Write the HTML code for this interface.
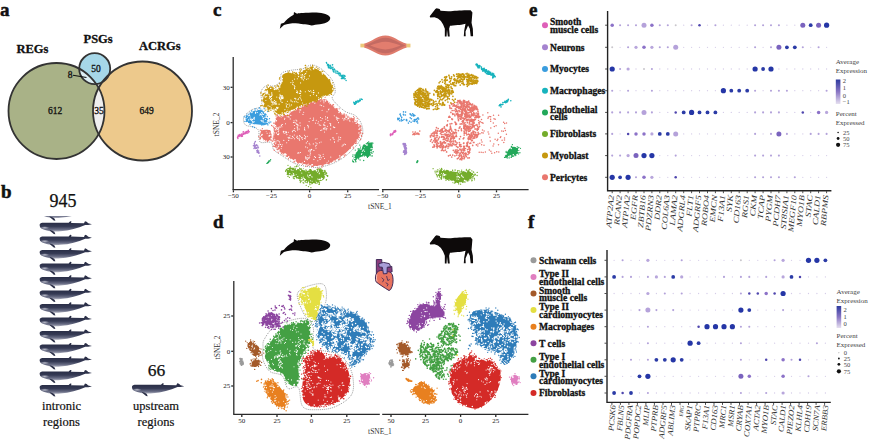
<!DOCTYPE html>
<html><head><meta charset="utf-8"><style>
html,body{margin:0;padding:0;background:#fff;}
body{width:869px;height:441px;overflow:hidden;position:relative;}
svg{position:absolute;left:0;top:0;}
.b{font-family:"Liberation Serif",serif;font-weight:bold;}
.r{font-family:"Liberation Serif",serif;}
.i{font-family:"Liberation Serif",serif;font-style:italic;}
</style></head><body>
<svg width="869" height="441" viewBox="0 0 869 441">

<g class="b" fill="#111" stroke="#111" stroke-width="0.5" font-size="19">
<text x="0" y="16">a</text><text x="1" y="198">b</text><text x="213" y="16">c</text><text x="213" y="228">d</text><text x="529" y="16">e</text><text x="528" y="228">f</text>
</g>
<defs><clipPath id="cg"><circle cx="56.5" cy="111" r="48"/></clipPath><clipPath id="co"><circle cx="142.5" cy="111" r="49.5"/></clipPath></defs>
<circle cx="56.5" cy="111" r="48" fill="#A9B287"/>
<circle cx="142.5" cy="111" r="49.5" fill="#EDC98C"/>
<circle cx="142.5" cy="111" r="49.5" fill="#EFEFEF" clip-path="url(#cg)"/>
<circle cx="94.7" cy="68.7" r="15.5" fill="#A6D7E8"/>
<circle cx="94.7" cy="68.7" r="15.5" fill="#DDEEF3" clip-path="url(#cg)"/>
<g fill="none" stroke="#333" stroke-width="1.8"><circle cx="56.5" cy="111" r="48"/><circle cx="142.5" cy="111" r="49.5"/><circle cx="94.7" cy="68.7" r="15.5"/></g>
<g class="b" font-size="12.5" fill="#111" stroke="#111" stroke-width="0.3"><text x="16.5" y="52.5">REGs</text><text x="83.5" y="42.7">PSGs</text><text x="139" y="50">ACRGs</text></g>
<g class="r" font-size="9.5" fill="#111" stroke="#111" stroke-width="0.3" text-anchor="middle"><text x="55" y="114">612</text><text x="99" y="114">35</text><text x="146.5" y="114">649</text><text x="96" y="71.5">50</text><text x="70" y="77.8">8</text></g>
<path d="M73 75.3 L86.5 77.5" stroke="#111" stroke-width="1.1"/>
<defs><linearGradient id="wg" x1="0" y1="0" x2="0" y2="1"><stop offset="0" stop-color="#242840"/><stop offset="0.5" stop-color="#363b55"/><stop offset="0.8" stop-color="#6a6e86"/><stop offset="1" stop-color="#b0b2c0"/></linearGradient>
<radialGradient id="wb" cx="0.5" cy="0.5" r="0.5"><stop offset="0" stop-color="#b8bac8"/><stop offset="1" stop-color="#b8bac8" stop-opacity="0"/></radialGradient>
<clipPath id="wclip"><rect x="0" y="216" width="200" height="300"/></clipPath></defs>
<g transform="translate(92.3 26.8)"><g transform="translate(35,355) scale(0.10204)"><path d="M45,52 C45,36 60,30 90,30 L330,30 L345,14 L358,17 L353,32 L480,35 L490,14 L506,20 L522,34 L558,44 L522,52 L492,52 C420,82 340,106 250,113 C220,115 200,116 188,116 L150,112 C100,102 60,88 50,72 Z" fill="url(#wg)"/><ellipse cx="95" cy="78" rx="45" ry="16" fill="url(#wb)"/><path d="M140,98 C160,104 185,112 192,122 L200,142 L184,140 C170,128 150,116 140,98Z" fill="#2c3048"/></g></g>
<g clip-path="url(#wclip)">
<g transform="translate(0 -148.72)"><g transform="translate(35,355) scale(0.10204)"><path d="M45,52 C45,36 60,30 90,30 L330,30 L345,14 L358,17 L353,32 L480,35 L490,14 L506,20 L522,34 L558,44 L522,52 L492,52 C420,82 340,106 250,113 C220,115 200,116 188,116 L150,112 C100,102 60,88 50,72 Z" fill="url(#wg)"/><ellipse cx="95" cy="78" rx="45" ry="16" fill="url(#wb)"/><path d="M140,98 C160,104 185,112 192,122 L200,142 L184,140 C170,128 150,116 140,98Z" fill="#2c3048"/></g></g>
<g transform="translate(0 -135.20)"><g transform="translate(35,355) scale(0.10204)"><path d="M45,52 C45,36 60,30 90,30 L330,30 L345,14 L358,17 L353,32 L480,35 L490,14 L506,20 L522,34 L558,44 L522,52 L492,52 C420,82 340,106 250,113 C220,115 200,116 188,116 L150,112 C100,102 60,88 50,72 Z" fill="url(#wg)"/><ellipse cx="95" cy="78" rx="45" ry="16" fill="url(#wb)"/><path d="M140,98 C160,104 185,112 192,122 L200,142 L184,140 C170,128 150,116 140,98Z" fill="#2c3048"/></g></g>
<g transform="translate(0 -121.68)"><g transform="translate(35,355) scale(0.10204)"><path d="M45,52 C45,36 60,30 90,30 L330,30 L345,14 L358,17 L353,32 L480,35 L490,14 L506,20 L522,34 L558,44 L522,52 L492,52 C420,82 340,106 250,113 C220,115 200,116 188,116 L150,112 C100,102 60,88 50,72 Z" fill="url(#wg)"/><ellipse cx="95" cy="78" rx="45" ry="16" fill="url(#wb)"/><path d="M140,98 C160,104 185,112 192,122 L200,142 L184,140 C170,128 150,116 140,98Z" fill="#2c3048"/></g></g>
<g transform="translate(0 -108.16)"><g transform="translate(35,355) scale(0.10204)"><path d="M45,52 C45,36 60,30 90,30 L330,30 L345,14 L358,17 L353,32 L480,35 L490,14 L506,20 L522,34 L558,44 L522,52 L492,52 C420,82 340,106 250,113 C220,115 200,116 188,116 L150,112 C100,102 60,88 50,72 Z" fill="url(#wg)"/><ellipse cx="95" cy="78" rx="45" ry="16" fill="url(#wb)"/><path d="M140,98 C160,104 185,112 192,122 L200,142 L184,140 C170,128 150,116 140,98Z" fill="#2c3048"/></g></g>
<g transform="translate(0 -94.64)"><g transform="translate(35,355) scale(0.10204)"><path d="M45,52 C45,36 60,30 90,30 L330,30 L345,14 L358,17 L353,32 L480,35 L490,14 L506,20 L522,34 L558,44 L522,52 L492,52 C420,82 340,106 250,113 C220,115 200,116 188,116 L150,112 C100,102 60,88 50,72 Z" fill="url(#wg)"/><ellipse cx="95" cy="78" rx="45" ry="16" fill="url(#wb)"/><path d="M140,98 C160,104 185,112 192,122 L200,142 L184,140 C170,128 150,116 140,98Z" fill="#2c3048"/></g></g>
<g transform="translate(0 -81.12)"><g transform="translate(35,355) scale(0.10204)"><path d="M45,52 C45,36 60,30 90,30 L330,30 L345,14 L358,17 L353,32 L480,35 L490,14 L506,20 L522,34 L558,44 L522,52 L492,52 C420,82 340,106 250,113 C220,115 200,116 188,116 L150,112 C100,102 60,88 50,72 Z" fill="url(#wg)"/><ellipse cx="95" cy="78" rx="45" ry="16" fill="url(#wb)"/><path d="M140,98 C160,104 185,112 192,122 L200,142 L184,140 C170,128 150,116 140,98Z" fill="#2c3048"/></g></g>
<g transform="translate(0 -67.60)"><g transform="translate(35,355) scale(0.10204)"><path d="M45,52 C45,36 60,30 90,30 L330,30 L345,14 L358,17 L353,32 L480,35 L490,14 L506,20 L522,34 L558,44 L522,52 L492,52 C420,82 340,106 250,113 C220,115 200,116 188,116 L150,112 C100,102 60,88 50,72 Z" fill="url(#wg)"/><ellipse cx="95" cy="78" rx="45" ry="16" fill="url(#wb)"/><path d="M140,98 C160,104 185,112 192,122 L200,142 L184,140 C170,128 150,116 140,98Z" fill="#2c3048"/></g></g>
<g transform="translate(0 -54.08)"><g transform="translate(35,355) scale(0.10204)"><path d="M45,52 C45,36 60,30 90,30 L330,30 L345,14 L358,17 L353,32 L480,35 L490,14 L506,20 L522,34 L558,44 L522,52 L492,52 C420,82 340,106 250,113 C220,115 200,116 188,116 L150,112 C100,102 60,88 50,72 Z" fill="url(#wg)"/><ellipse cx="95" cy="78" rx="45" ry="16" fill="url(#wb)"/><path d="M140,98 C160,104 185,112 192,122 L200,142 L184,140 C170,128 150,116 140,98Z" fill="#2c3048"/></g></g>
<g transform="translate(0 -40.56)"><g transform="translate(35,355) scale(0.10204)"><path d="M45,52 C45,36 60,30 90,30 L330,30 L345,14 L358,17 L353,32 L480,35 L490,14 L506,20 L522,34 L558,44 L522,52 L492,52 C420,82 340,106 250,113 C220,115 200,116 188,116 L150,112 C100,102 60,88 50,72 Z" fill="url(#wg)"/><ellipse cx="95" cy="78" rx="45" ry="16" fill="url(#wb)"/><path d="M140,98 C160,104 185,112 192,122 L200,142 L184,140 C170,128 150,116 140,98Z" fill="#2c3048"/></g></g>
<g transform="translate(0 -27.04)"><g transform="translate(35,355) scale(0.10204)"><path d="M45,52 C45,36 60,30 90,30 L330,30 L345,14 L358,17 L353,32 L480,35 L490,14 L506,20 L522,34 L558,44 L522,52 L492,52 C420,82 340,106 250,113 C220,115 200,116 188,116 L150,112 C100,102 60,88 50,72 Z" fill="url(#wg)"/><ellipse cx="95" cy="78" rx="45" ry="16" fill="url(#wb)"/><path d="M140,98 C160,104 185,112 192,122 L200,142 L184,140 C170,128 150,116 140,98Z" fill="#2c3048"/></g></g>
<g transform="translate(0 -13.52)"><g transform="translate(35,355) scale(0.10204)"><path d="M45,52 C45,36 60,30 90,30 L330,30 L345,14 L358,17 L353,32 L480,35 L490,14 L506,20 L522,34 L558,44 L522,52 L492,52 C420,82 340,106 250,113 C220,115 200,116 188,116 L150,112 C100,102 60,88 50,72 Z" fill="url(#wg)"/><ellipse cx="95" cy="78" rx="45" ry="16" fill="url(#wb)"/><path d="M140,98 C160,104 185,112 192,122 L200,142 L184,140 C170,128 150,116 140,98Z" fill="#2c3048"/></g></g>
<g transform="translate(0 0.00)"><g transform="translate(35,355) scale(0.10204)"><path d="M45,52 C45,36 60,30 90,30 L330,30 L345,14 L358,17 L353,32 L480,35 L490,14 L506,20 L522,34 L558,44 L522,52 L492,52 C420,82 340,106 250,113 C220,115 200,116 188,116 L150,112 C100,102 60,88 50,72 Z" fill="url(#wg)"/><ellipse cx="95" cy="78" rx="45" ry="16" fill="url(#wb)"/><path d="M140,98 C160,104 185,112 192,122 L200,142 L184,140 C170,128 150,116 140,98Z" fill="#2c3048"/></g></g>
<g transform="translate(0 13.52)"><g transform="translate(35,355) scale(0.10204)"><path d="M45,52 C45,36 60,30 90,30 L330,30 L345,14 L358,17 L353,32 L480,35 L490,14 L506,20 L522,34 L558,44 L522,52 L492,52 C420,82 340,106 250,113 C220,115 200,116 188,116 L150,112 C100,102 60,88 50,72 Z" fill="url(#wg)"/><ellipse cx="95" cy="78" rx="45" ry="16" fill="url(#wb)"/><path d="M140,98 C160,104 185,112 192,122 L200,142 L184,140 C170,128 150,116 140,98Z" fill="#2c3048"/></g></g>
<g transform="translate(0 27.04)"><g transform="translate(35,355) scale(0.10204)"><path d="M45,52 C45,36 60,30 90,30 L330,30 L345,14 L358,17 L353,32 L480,35 L490,14 L506,20 L522,34 L558,44 L522,52 L492,52 C420,82 340,106 250,113 C220,115 200,116 188,116 L150,112 C100,102 60,88 50,72 Z" fill="url(#wg)"/><ellipse cx="95" cy="78" rx="45" ry="16" fill="url(#wb)"/><path d="M140,98 C160,104 185,112 192,122 L200,142 L184,140 C170,128 150,116 140,98Z" fill="#2c3048"/></g></g>
</g>
<g class="r" fill="#111" stroke="#111" stroke-width="0.25" text-anchor="middle"><text x="63" y="207.2" font-size="18">945</text><text x="156.4" y="375.6" font-size="17.5">66</text></g>
<g class="r" fill="#111" stroke="#111" stroke-width="0.2" font-size="12.5" text-anchor="middle"><text x="61.5" y="409.5">intronic</text><text x="61.5" y="426.3">regions</text><text x="156" y="409.5">upstream</text><text x="156" y="426.3">regions</text></g>
<g stroke="#2a2a2a" stroke-width="1.3" fill="none"><path d="M233.2 57.0 V189.7"/><path d="M232.5 189.7 H379.1"/><path d="M381.9 189.7 H528.6"/><path d="M232.6 87.3 h-2"/><path d="M232.6 122.6 h-2"/><path d="M232.6 157.0 h-2"/><path d="M233.4 190.3 v2"/><path d="M271.5 190.3 v2"/><path d="M309.6 190.3 v2"/><path d="M347.7 190.3 v2"/><path d="M382.8 190.3 v2"/><path d="M420.5 190.3 v2"/><path d="M458.7 190.3 v2"/><path d="M496.5 190.3 v2"/></g><g class="r" font-size="7" fill="#222"><text x="229.7" y="89.7" text-anchor="end">30</text><text x="229.7" y="125.0" text-anchor="end">0</text><text x="229.7" y="159.4" text-anchor="end">30</text><text x="233.4" y="198.2" text-anchor="middle">−50</text><text x="271.5" y="198.2" text-anchor="middle">−25</text><text x="309.6" y="198.2" text-anchor="middle">0</text><text x="347.7" y="198.2" text-anchor="middle">25</text><text x="382.8" y="198.2" text-anchor="middle">−50</text><text x="420.5" y="198.2" text-anchor="middle">−25</text><text x="458.7" y="198.2" text-anchor="middle">0</text><text x="496.5" y="198.2" text-anchor="middle">25</text></g><g class="r" font-size="7.5" fill="#333"><text x="380.0" y="209.0" text-anchor="middle">tSNE_1</text><text transform="translate(219.3 124.5) rotate(-90)" text-anchor="middle">tSNE_2</text></g>
<g stroke="#2a2a2a" stroke-width="1.3" fill="none"><path d="M233.8 281.0 V414.3"/><path d="M233.2 414.3 H379.8"/><path d="M382.2 414.3 H528.4"/><path d="M233.2 316.0 h-2"/><path d="M233.2 351.3 h-2"/><path d="M233.2 386.0 h-2"/><path d="M241.8 414.9 v2"/><path d="M277.0 414.9 v2"/><path d="M311.4 414.9 v2"/><path d="M346.8 414.9 v2"/><path d="M391.0 414.9 v2"/><path d="M425.5 414.9 v2"/><path d="M460.6 414.9 v2"/><path d="M495.8 414.9 v2"/></g><g class="r" font-size="7" fill="#222"><text x="230.3" y="318.4" text-anchor="end">25</text><text x="230.3" y="353.7" text-anchor="end">0</text><text x="230.3" y="388.4" text-anchor="end">25</text><text x="241.8" y="422.8" text-anchor="middle">50</text><text x="277.0" y="422.8" text-anchor="middle">25</text><text x="311.4" y="422.8" text-anchor="middle">0</text><text x="346.8" y="422.8" text-anchor="middle">25</text><text x="391.0" y="422.8" text-anchor="middle">50</text><text x="425.5" y="422.8" text-anchor="middle">25</text><text x="460.6" y="422.8" text-anchor="middle">0</text><text x="495.8" y="422.8" text-anchor="middle">25</text></g><g class="r" font-size="7.5" fill="#333"><text x="380.0" y="433.5" text-anchor="middle">tSNE_1</text><text transform="translate(220.0 347.5) rotate(-90)" text-anchor="middle">tSNE_2</text></g>
<path d="M243.8 117.5 C244.8 115.0 248.3 112.1 251.2 110.1 C254.2 108.1 259.9 108.6 261.5 105.7 C263.1 102.7 260.2 95.7 260.9 92.4 C261.7 89.1 263.6 87.0 265.9 85.9 C268.3 84.9 272.3 86.8 274.8 85.9 C277.2 85.0 279.5 82.7 280.7 80.6 C281.8 78.5 279.8 75.0 281.6 73.3 C283.3 71.5 287.5 71.1 291.0 70.3 C294.5 69.6 299.6 69.7 302.8 68.8 C305.9 68.0 307.6 65.8 309.9 65.3 C312.1 64.8 313.5 64.8 316.0 65.9 C318.5 67.0 322.1 69.2 324.9 71.8 C327.7 74.3 331.1 77.9 332.8 81.2 C334.6 84.6 335.3 89.1 335.2 91.8 C335.1 94.6 332.0 95.7 332.2 97.7 C332.5 99.8 334.5 101.9 336.7 104.2 C338.9 106.5 342.3 109.6 345.5 111.6 C348.7 113.5 353.1 113.8 355.8 116.0 C358.5 118.2 360.6 121.6 361.7 124.8 C362.8 128.0 363.3 131.6 362.3 135.1 C361.3 138.7 358.8 142.5 355.8 146.1 C352.9 149.6 348.6 153.7 344.6 156.7 C340.7 159.6 336.6 162.0 332.2 163.7 C327.9 165.5 322.6 166.8 318.7 167.3 C314.8 167.8 312.6 167.3 308.7 166.7 C304.8 166.1 299.6 165.4 295.4 163.7 C291.2 162.1 287.2 159.0 283.6 156.7 C280.0 154.4 276.0 152.2 273.9 149.9 C271.8 147.5 273.3 143.8 271.0 142.5 C268.6 141.2 262.1 143.9 260.0 141.9 C258.0 140.0 259.6 133.2 258.6 130.7 C257.6 128.3 256.4 128.2 254.2 127.2 C251.9 126.2 247.0 126.5 245.3 124.8 C243.6 123.2 242.9 119.9 243.8 117.5Z" fill="none" stroke="#666" stroke-width="0.7" stroke-dasharray="0.9 1.1"/>
<path d="M274.8 125.1 C275.5 121.1 275.8 117.8 277.7 116.0 C279.7 114.2 283.9 115.5 286.6 114.5 C289.3 113.5 291.5 111.6 293.9 110.1 C296.4 108.6 298.7 106.9 301.3 105.7 C304.0 104.4 307.0 103.7 309.9 102.7 C312.8 101.7 316.0 100.3 318.7 99.8 C321.4 99.3 323.6 98.6 326.1 99.8 C328.5 101.0 330.5 104.7 333.4 107.2 C336.4 109.6 340.3 112.6 343.7 114.5 C347.2 116.5 351.6 117.2 354.1 118.9 C356.5 120.7 357.3 122.9 358.5 124.8 C359.6 126.8 360.6 129.0 360.8 130.7 C361.1 132.4 361.1 132.9 360.0 135.1 C358.8 137.4 356.8 141.0 354.1 144.3 C351.4 147.5 347.4 151.7 343.7 154.6 C340.1 157.5 336.1 160.1 332.0 162.0 C327.8 163.8 322.6 165.0 318.7 165.5 C314.8 166.0 312.3 165.5 308.7 164.9 C305.0 164.3 300.8 163.7 296.9 162.0 C293.0 160.2 288.5 156.8 285.1 154.6 C281.7 152.4 278.2 151.2 276.3 148.7 C274.3 146.2 273.6 143.8 273.3 139.9 C273.1 135.9 274.0 129.1 274.8 125.1Z" fill="#E9776E"/><path d="M300.7 109.9h0M296.1 110.1h0M299.9 109.9h0M303.7 112.3h0M301.5 107.4h0M300.8 107.4h0M303.0 114.4h0M299.7 112.0h0M330.4 102.9h0M329.7 103.9h0M331.6 102.5h0M319.3 124.9h0M317.9 123.2h0M318.4 121.7h0M321.0 120.5h0M320.7 125.2h0M278.3 131.7h0M276.5 132.9h0M278.9 133.2h0M278.1 134.7h0M276.6 128.4h0M273.9 134.7h0M283.4 132.8h0M277.5 134.2h0M278.6 134.4h0M270.8 128.9h0M276.5 128.2h0M278.1 127.3h0M274.2 125.3h0M278.0 129.6h0M276.3 127.0h0M307.9 155.3h0M314.6 156.6h0M310.1 151.9h0M310.4 153.3h0M313.9 159.4h0M330.8 165.6h0M328.6 161.0h0M330.8 157.1h0M325.2 127.9h0M327.4 126.3h0M323.7 124.9h0M323.8 124.8h0M325.1 125.7h0M324.2 125.5h0M324.4 128.1h0M324.0 124.1h0M348.8 118.2h0M348.2 114.6h0M346.5 115.7h0M344.7 118.4h0M349.2 118.1h0M349.8 120.8h0M350.9 116.3h0M345.8 116.6h0M349.1 119.7h0M298.6 152.8h0M297.8 153.1h0M300.5 152.5h0M298.9 152.9h0M290.0 138.2h0M288.7 138.1h0M289.7 137.6h0M286.7 142.8h0M288.1 137.2h0M288.7 140.4h0M290.0 135.8h0M327.9 120.4h0M330.7 123.7h0M324.8 122.5h0M329.8 123.3h0M330.8 125.8h0M330.6 124.9h0M321.6 105.6h0M323.7 106.3h0M323.9 102.8h0M320.2 105.0h0M334.2 127.6h0M334.8 127.3h0M326.8 128.4h0M333.4 126.9h0M330.7 128.9h0M299.2 139.2h0M302.4 139.3h0M299.6 140.2h0M300.2 136.4h0M299.1 138.1h0M301.8 138.0h0M302.1 137.6h0M301.4 137.7h0M316.3 120.3h0M312.8 120.5h0M309.1 121.6h0M313.6 118.1h0M315.6 123.1h0M310.2 118.2h0M313.6 119.9h0M342.1 146.1h0M345.5 144.6h0M343.1 144.9h0M343.3 145.1h0M344.3 144.0h0M296.8 137.5h0M297.1 136.1h0M297.7 138.4h0M299.6 135.5h0M294.6 138.8h0M297.2 136.4h0M293.3 137.3h0M291.9 138.5h0M319.1 157.6h0M319.3 157.6h0M319.0 154.8h0M320.1 159.4h0M320.1 156.9h0M320.2 155.4h0M315.5 157.4h0M338.8 118.4h0M337.5 120.1h0M338.5 122.6h0M337.0 117.6h0M342.8 118.3h0M337.3 118.4h0M334.3 115.8h0M336.5 119.0h0M336.2 117.0h0M307.4 147.8h0M311.1 149.9h0M309.9 149.7h0M308.7 150.9h0M311.7 149.4h0M313.9 150.4h0M310.2 150.8h0M284.9 133.5h0M285.3 131.9h0M286.4 131.9h0M286.5 132.8h0M286.1 132.3h0M288.3 132.2h0M286.9 134.6h0M283.3 131.3h0M277.0 140.5h0M275.1 143.8h0M275.9 142.9h0M278.2 140.9h0M274.6 143.5h0M276.0 141.4h0M279.6 141.9h0M273.4 142.2h0M279.8 144.0h0M340.7 137.7h0M336.9 133.6h0M338.7 139.0h0M340.6 137.6h0M338.8 137.1h0M340.0 139.6h0M349.9 118.0h0M347.1 119.8h0M352.9 121.7h0M349.9 121.2h0M334.5 142.2h0M334.5 141.7h0M330.4 139.8h0M338.1 140.9h0M334.0 139.4h0M333.3 137.9h0M332.7 137.8h0M323.3 129.0h0M321.8 130.0h0M325.0 129.6h0M324.5 132.0h0M323.6 128.2h0M320.7 130.5h0M326.6 129.7h0M319.5 142.8h0M317.0 143.7h0M317.0 138.7h0M313.3 143.9h0M316.0 148.1h0M315.5 146.0h0M316.3 145.3h0M281.1 148.6h0M274.5 145.7h0M278.2 144.5h0M280.5 144.5h0M278.8 145.9h0M276.4 146.0h0M278.3 146.9h0M277.7 147.3h0M348.6 118.5h0M345.8 117.6h0M348.1 117.1h0M346.6 117.5h0M343.9 119.9h0M347.9 118.5h0M343.9 120.1h0M345.1 119.1h0M309.9 144.7h0M306.3 142.9h0M309.2 143.3h0M305.7 146.9h0M278.0 127.7h0M272.3 126.9h0M277.6 129.2h0M275.2 129.5h0M275.0 127.9h0M275.3 127.2h0M275.1 130.7h0M276.2 129.7h0M273.5 130.4h0M284.5 119.3h0M283.5 114.4h0M284.8 118.3h0M284.1 115.2h0M284.1 115.4h0M281.0 116.0h0M282.5 115.4h0M309.7 157.0h0M308.4 158.1h0M309.1 158.0h0M308.8 157.9h0M307.4 159.6h0M310.1 154.9h0M305.8 158.1h0M305.6 156.8h0M280.4 127.0h0M278.7 128.5h0M279.4 127.0h0M281.3 125.5h0M283.9 131.6h0M278.2 131.2h0M278.8 130.0h0M282.4 124.5h0M324.5 158.5h0M323.2 156.5h0M321.4 157.8h0M317.8 160.7h0M323.2 154.3h0M297.7 128.0h0M299.1 129.1h0M295.7 122.7h0M297.2 124.2h0M297.9 124.9h0M297.1 126.9h0M298.0 125.7h0M300.2 125.7h0M297.3 128.1h0M297.6 129.9h0M306.1 158.9h0M305.9 157.4h0M304.5 161.4h0M307.2 157.9h0M288.4 116.7h0M289.5 113.8h0M286.3 114.6h0M290.8 115.4h0M288.3 114.5h0M290.2 118.9h0M288.2 114.4h0M289.0 117.1h0M287.1 116.7h0M287.7 112.0h0M293.2 130.4h0M294.7 128.5h0M292.4 131.6h0M295.4 131.3h0M294.4 130.3h0M294.3 135.0h0M292.4 136.4h0M292.4 131.7h0M320.5 117.5h0M327.4 118.0h0M325.5 116.7h0M327.5 117.4h0M322.2 118.6h0M325.8 119.1h0M304.9 130.1h0M307.3 136.3h0M307.5 141.3h0M305.6 136.5h0M304.6 135.3h0M304.4 138.3h0M305.7 137.1h0M305.3 138.8h0M315.3 139.1h0M315.9 142.7h0M317.1 143.7h0M321.1 142.0h0M304.5 129.2h0M308.3 127.8h0M308.0 125.7h0M304.6 127.9h0M307.7 125.4h0M308.4 126.2h0M282.2 144.8h0M283.8 140.4h0M281.7 146.4h0M281.9 126.8h0M281.5 125.1h0M285.5 123.8h0M328.5 109.8h0M322.1 110.3h0M329.0 109.0h0M327.0 111.7h0M297.0 124.3h0M300.0 122.9h0M294.4 125.5h0M296.2 123.8h0M296.8 120.9h0M296.0 120.0h0M293.4 122.5h0M296.5 124.3h0M294.0 120.8h0M294.3 122.3h0" stroke="#fff" stroke-width="1.10" stroke-linecap="round" fill="none"/><path d="M355.8 143.1h0M284.7 115.4h0M353.2 147.1h0M273.4 146.1h0M299.4 107.7h0M337.2 109.0h0M327.5 102.2h0M307.4 164.7h0M330.1 105.9h0M281.1 151.9h0M332.6 105.8h0M347.8 116.1h0M307.8 165.0h0M313.7 103.7h0M273.6 123.1h0M318.8 100.1h0M333.5 104.6h0M276.1 118.3h0M293.9 161.9h0M311.9 166.5h0M274.3 143.4h0M312.9 105.4h0M276.4 145.7h0M298.0 162.4h0M359.0 129.5h0M276.4 121.7h0M290.6 111.8h0M311.7 102.6h0M359.9 130.3h0M329.2 163.2h0M319.2 101.0h0M321.1 99.5h0M338.6 155.8h0M291.5 108.9h0M316.6 99.4h0M287.3 155.0h0M319.7 99.5h0M358.8 127.6h0M317.0 98.9h0M283.1 116.2h0M347.6 149.2h0M358.1 139.3h0M359.3 127.6h0M283.9 155.0h0M286.9 156.4h0M340.1 158.0h0M357.2 125.9h0M280.1 118.1h0M357.1 123.5h0M318.8 163.3h0M279.4 117.2h0M296.9 109.1h0M315.8 99.8h0M359.9 129.6h0M293.9 159.3h0M317.4 165.6h0M290.8 158.6h0M312.7 100.7h0M359.1 126.2h0M302.1 107.5h0M346.0 148.7h0M293.3 108.4h0M360.8 126.3h0M360.1 127.2h0M290.4 157.2h0M339.2 108.9h0M273.4 138.6h0M326.1 100.0h0M328.6 163.7h0M289.3 157.2h0M357.6 126.4h0M355.8 140.0h0M287.2 156.0h0M330.8 105.1h0M309.0 101.8h0M345.7 115.1h0M358.3 127.5h0M322.3 167.4h0M279.1 116.0h0M310.4 102.4h0M312.5 166.4h0M322.0 164.0h0M294.4 161.7h0M286.3 113.1h0M319.8 163.7h0M352.8 144.4h0M295.5 108.4h0M274.7 126.4h0M278.1 152.2h0M318.2 168.3h0M318.5 99.7h0M332.5 106.7h0M353.6 121.2h0M358.7 133.3h0M272.3 140.9h0M323.6 163.3h0M329.9 104.8h0M289.3 157.3h0M280.3 117.8h0M360.7 130.3h0M305.9 102.1h0M277.3 115.2h0M312.2 166.0h0M275.4 126.5h0M296.9 109.1h0M284.3 152.2h0M344.4 156.6h0M320.3 100.6h0M358.7 128.4h0M360.8 128.4h0M333.5 160.6h0M359.2 135.4h0M334.6 159.6h0M290.5 113.3h0M329.5 159.1h0M277.5 123.1h0M315.7 98.1h0M329.5 162.5h0M325.7 100.6h0M274.3 150.3h0M310.0 164.2h0M361.7 133.5h0M355.6 143.4h0M337.1 110.1h0M281.5 153.6h0M273.7 127.8h0M357.3 121.0h0M311.9 166.3h0M340.4 112.4h0M274.1 137.4h0M273.0 126.3h0M330.4 104.4h0M329.8 105.5h0M294.7 108.7h0M310.3 100.7h0M360.6 139.5h0M335.3 108.9h0M359.2 134.9h0M283.5 153.0h0M361.0 133.3h0M274.1 130.0h0M329.4 102.5h0M280.1 148.9h0M283.1 154.3h0M271.5 139.5h0M275.8 131.5h0M337.4 157.0h0M276.2 140.9h0M356.3 124.5h0M293.5 109.7h0M323.9 100.8h0M316.4 165.4h0M357.0 129.6h0M326.6 101.2h0M297.9 105.7h0M336.1 109.3h0M353.2 142.1h0M305.9 166.2h0M322.4 165.3h0M353.4 148.1h0M282.1 151.8h0M302.8 102.8h0M356.7 141.0h0M305.7 103.8h0M327.3 102.5h0M353.6 141.6h0M336.5 108.8h0M337.5 156.3h0M358.4 126.9h0M294.6 109.6h0M304.9 105.5h0M278.0 148.0h0M337.5 110.4h0M316.3 101.1h0M361.5 136.6h0M287.7 156.3h0M311.3 164.3h0M275.8 137.9h0M272.7 140.6h0M330.5 106.2h0M339.2 159.2h0M340.1 154.6h0M315.6 100.6h0M274.0 146.4h0M274.8 146.6h0M276.9 125.5h0M358.9 124.5h0M301.2 103.8h0M353.8 118.5h0M325.5 163.4h0" stroke="#E9776E" stroke-width="1.40" stroke-linecap="round" fill="none"/><path d="M354.7 121.0h0M346.8 116.1h0M342.2 114.0h0M334.1 161.0h0M345.4 115.0h0M280.6 115.2h0M308.1 164.8h0M323.6 100.0h0M285.5 114.3h0M294.7 159.9h0M277.0 148.2h0M278.7 150.4h0M282.8 116.3h0M276.4 120.7h0M311.9 164.7h0M279.6 115.9h0M280.8 115.1h0M357.2 140.0h0M275.0 117.7h0M272.7 140.1h0M293.1 110.0h0M286.0 154.5h0M301.5 105.4h0M296.0 109.7h0M329.3 101.5h0M360.0 128.1h0M288.0 112.9h0M273.5 142.3h0M274.7 139.9h0M274.4 141.8h0M295.4 160.1h0M281.6 115.2h0M336.5 160.6h0M361.4 131.5h0M339.6 155.8h0M304.6 164.9h0M279.2 149.9h0M288.7 156.7h0M350.3 117.0h0M359.0 132.9h0M351.7 147.2h0M360.1 136.0h0M281.2 116.7h0M308.2 164.3h0M312.4 164.8h0M289.9 112.2h0M329.0 102.3h0M273.6 138.0h0M361.5 133.4h0M287.0 112.8h0M327.2 163.1h0M320.6 100.8h0M359.1 129.2h0M304.1 104.6h0M296.4 108.5h0M356.2 123.2h0M275.5 125.6h0M302.4 163.3h0M339.0 109.9h0M285.5 155.1h0M325.9 99.9h0M283.2 114.6h0M291.9 109.5h0M274.7 126.6h0M285.0 153.7h0M314.8 102.9h0M328.9 100.5h0M286.8 113.9h0M278.9 115.5h0M343.8 155.9h0M323.4 100.7h0M283.9 154.5h0M296.2 109.0h0M309.7 102.5h0M325.3 100.9h0M294.4 109.3h0M309.5 103.0h0M359.6 133.9h0M355.5 121.2h0M358.9 125.9h0M274.6 132.7h0M303.2 105.1h0M339.0 112.6h0" stroke="#fff" stroke-width="1.50" stroke-linecap="round" fill="none"/><path d="M337.1 113.9h0M292.8 109.2h0M270.7 139.4h0M296.3 110.4h0M344.4 114.2h0M349.6 118.9h0M344.1 113.8h0M327.5 163.2h0M327.9 163.3h0M357.9 136.8h0M314.6 102.2h0M297.8 162.5h0M335.2 161.0h0M275.0 140.5h0M318.1 98.0h0M281.6 116.3h0M277.2 149.5h0M341.6 154.5h0M298.2 163.2h0M360.8 127.1h0M345.4 154.9h0M333.0 104.7h0M271.6 125.5h0M354.5 117.8h0M331.9 161.2h0M333.4 107.9h0M292.5 107.4h0M274.7 123.2h0M276.1 116.1h0M333.8 106.9h0M273.3 139.0h0M302.6 164.2h0M358.9 134.3h0M324.8 99.7h0M320.5 100.2h0M275.0 132.0h0M361.4 135.5h0M359.8 133.3h0M301.7 161.0h0M314.2 165.0h0M357.1 127.4h0M359.3 126.8h0M323.3 99.9h0M362.2 133.3h0M277.2 115.0h0M272.4 141.1h0M283.2 117.0h0M359.3 137.5h0M361.6 130.1h0M321.8 166.2h0M301.7 104.1h0M356.2 143.0h0M313.5 166.0h0M331.6 107.0h0M344.3 155.2h0M343.5 115.6h0M314.6 165.1h0M360.2 125.4h0M355.2 126.5h0M346.3 115.0h0M286.1 155.8h0M358.4 136.6h0M331.5 162.1h0M304.4 103.7h0M325.0 97.4h0M332.9 159.5h0M339.0 154.9h0M273.6 137.9h0M308.7 165.2h0M307.7 163.4h0M288.5 158.7h0M350.2 148.4h0M323.5 164.9h0M338.6 159.3h0M304.2 105.2h0M357.2 118.3h0M351.8 121.7h0M274.7 128.3h0M353.5 116.6h0M354.5 139.6h0M362.7 133.4h0M343.4 152.3h0M294.6 108.3h0" stroke="#E9776E" stroke-width="1.30" stroke-linecap="round" fill="none"/>
<path d="M261.5 130.7 C263.1 129.7 268.9 129.3 270.4 130.7 C271.8 132.2 271.3 137.8 270.4 139.6 C269.4 141.3 266.0 141.5 264.5 141.0 C262.9 140.6 261.4 138.3 260.9 136.6 C260.4 134.9 260.0 131.7 261.5 130.7Z" fill="#E9776E"/><path d="M271.9 131.8h0M267.1 133.3h0M271.5 132.3h0M266.1 131.6h0M270.5 133.9h0M273.4 131.8h0" stroke="#fff" stroke-width="1.10" stroke-linecap="round" fill="none"/><path d="M260.4 134.7h0M268.2 140.6h0M259.9 137.9h0M270.7 136.0h0M258.8 136.4h0M267.7 130.7h0M260.1 139.0h0M261.7 136.7h0M263.2 131.3h0M260.3 130.1h0M261.3 130.5h0M263.2 132.1h0M262.5 137.9h0M266.9 130.4h0M270.9 134.8h0M269.6 130.6h0M270.0 135.0h0M263.8 138.1h0M261.2 136.0h0M260.3 134.1h0M260.8 137.7h0M262.8 137.5h0M260.1 137.8h0M264.8 140.5h0M271.7 137.1h0M267.3 141.0h0M261.4 136.9h0M261.0 138.2h0" stroke="#E9776E" stroke-width="1.40" stroke-linecap="round" fill="none"/><path d="M269.9 135.5h0M266.2 140.9h0M270.2 132.9h0M269.1 135.9h0M269.7 133.0h0M261.7 138.0h0M262.8 139.6h0M271.3 139.0h0M262.0 138.8h0M262.1 134.4h0M261.7 135.2h0M264.3 140.5h0" stroke="#fff" stroke-width="1.50" stroke-linecap="round" fill="none"/><path d="M265.8 131.2h0M270.0 132.9h0M262.4 128.7h0M269.9 132.4h0M269.2 138.8h0M264.1 135.5h0M271.0 140.4h0M267.5 141.3h0M264.4 138.7h0M265.8 133.1h0M270.8 137.1h0M270.4 133.6h0" stroke="#E9776E" stroke-width="1.30" stroke-linecap="round" fill="none"/>
<path d="M263.0 93.9 C263.6 91.7 265.3 89.1 266.5 88.0 C267.8 86.9 269.0 86.9 270.4 87.1 C271.7 87.4 273.5 89.2 274.8 89.5 C276.1 89.7 277.1 89.8 278.3 88.6 C279.5 87.4 281.4 84.4 282.2 82.1 C282.9 79.8 281.3 76.4 282.7 74.7 C284.2 73.1 288.6 72.4 291.0 72.4 C293.3 72.4 294.9 75.0 296.9 74.7 C298.9 74.5 300.6 72.1 302.8 70.9 C304.9 69.7 307.9 67.9 309.9 67.4 C311.8 66.9 312.1 67.0 314.3 68.0 C316.5 68.9 320.4 70.9 323.1 73.3 C325.8 75.6 328.9 79.1 330.5 82.1 C332.1 85.1 333.3 89.3 332.8 91.5 C332.3 93.7 329.9 94.0 327.5 95.4 C325.2 96.7 321.6 98.6 318.7 99.8 C315.7 101.0 312.3 102.0 309.9 102.7 C307.4 103.5 306.2 103.5 304.3 104.2 C302.3 104.9 300.6 106.2 298.4 107.2 C296.1 108.1 293.2 109.1 291.0 110.1 C288.8 111.1 287.1 112.3 285.1 113.0 C283.1 113.8 280.9 114.8 279.2 114.5 C277.5 114.3 276.5 112.3 274.8 111.6 C273.1 110.8 270.6 110.8 268.9 110.1 C267.2 109.4 265.5 108.6 264.5 107.2 C263.5 105.7 263.2 103.5 263.0 101.3 C262.8 99.0 262.4 96.1 263.0 93.9Z" fill="#C6980F"/><path d="M316.7 95.7h0M313.3 92.6h0M313.9 92.7h0M310.3 95.6h0M314.0 92.4h0M318.4 92.9h0M313.4 94.2h0M304.7 78.3h0M306.5 79.2h0M302.1 79.0h0M300.6 82.9h0M303.6 79.9h0M300.9 77.4h0M301.9 77.9h0M301.1 91.8h0M300.5 93.5h0M300.3 91.6h0M299.6 93.4h0M296.6 92.4h0M297.5 91.9h0M300.3 90.5h0M294.5 88.6h0M296.9 90.7h0M297.8 93.0h0M272.8 103.7h0M272.0 104.9h0M273.2 102.8h0M326.7 96.9h0M323.1 97.5h0M322.0 96.9h0M323.2 96.1h0M327.1 98.4h0M310.6 69.7h0M308.0 68.0h0M311.9 66.3h0M314.6 66.4h0M308.2 69.2h0M311.5 70.5h0M309.8 68.7h0M286.4 105.9h0M286.1 103.8h0M287.3 104.5h0M286.4 107.0h0M289.1 104.1h0M287.4 101.2h0M287.6 111.1h0M290.1 111.5h0M287.7 110.0h0M292.1 110.7h0M288.6 113.3h0M287.0 110.6h0M288.1 107.6h0M285.1 109.5h0M284.8 109.8h0M296.4 101.7h0M295.7 98.4h0M294.8 101.8h0M292.4 101.8h0M290.9 100.0h0M291.4 104.9h0M294.3 101.8h0M291.1 101.1h0M289.8 105.9h0M279.2 91.1h0M278.2 89.2h0M280.0 94.3h0M293.0 84.6h0M292.5 84.0h0M294.7 88.6h0M294.9 86.6h0M294.6 87.2h0M293.1 82.4h0M292.4 80.7h0M294.2 85.6h0M290.9 82.6h0M299.9 97.4h0M298.5 98.8h0M295.8 99.8h0M300.7 95.7h0M318.6 97.6h0M316.5 95.4h0M322.4 99.0h0M323.2 97.9h0M298.0 99.6h0M301.5 100.1h0M300.7 98.7h0M276.8 97.1h0M279.5 97.3h0M279.2 97.3h0M280.9 97.1h0M294.6 79.1h0M298.3 73.2h0M298.7 76.4h0M297.3 78.7h0M295.3 76.0h0M304.7 76.3h0M304.1 77.1h0M302.4 74.7h0M304.7 74.2h0M302.0 76.9h0M298.4 76.8h0M301.2 75.1h0M303.0 75.7h0M302.4 74.4h0M300.5 75.0h0M275.8 101.9h0M274.4 111.1h0M274.5 102.6h0M274.0 104.3h0M276.7 104.1h0M273.9 104.2h0M274.8 103.5h0M272.3 102.2h0M271.3 101.9h0M306.7 71.8h0M308.1 78.8h0M305.6 73.6h0M305.8 73.5h0M309.4 75.9h0M311.8 92.0h0M308.4 90.8h0M309.5 91.5h0M313.6 90.4h0M310.7 90.7h0M305.3 91.8h0M294.5 98.3h0M297.9 102.2h0M302.4 103.0h0M261.2 98.9h0M269.4 98.3h0M265.9 100.5h0M263.9 96.0h0M263.8 97.2h0M262.1 98.6h0M262.7 103.5h0M266.7 96.6h0M271.2 100.8h0M272.1 95.2h0M271.1 96.2h0M270.4 96.9h0" stroke="#fff" stroke-width="1.10" stroke-linecap="round" fill="none"/><path d="M268.0 85.0h0M263.1 105.0h0M297.4 75.4h0M280.8 114.3h0M308.7 67.2h0M272.7 109.5h0M311.3 70.2h0M299.8 102.9h0M322.1 71.2h0M273.7 89.8h0M300.2 70.8h0M295.4 75.3h0M289.8 74.1h0M275.1 86.0h0M300.1 108.4h0M302.8 105.8h0M307.4 103.8h0M262.7 94.6h0M286.3 110.0h0M281.8 81.9h0M288.0 108.1h0M324.8 75.6h0M312.8 67.7h0M293.5 108.6h0M264.9 94.7h0M271.2 88.9h0M279.8 113.3h0M294.3 110.6h0M263.2 93.8h0M305.5 68.0h0M305.2 102.7h0M278.7 86.7h0M260.8 105.6h0M296.4 72.9h0M298.8 108.1h0M305.4 105.6h0M274.8 113.3h0M270.4 110.0h0M294.2 72.7h0M321.6 73.3h0M264.8 103.2h0M275.6 88.0h0M313.6 67.8h0M329.4 81.0h0M296.8 73.7h0M316.2 67.2h0M305.3 67.8h0M265.9 104.2h0M303.2 71.9h0M269.1 88.1h0M279.8 77.7h0M288.2 72.8h0M273.1 108.5h0M284.4 81.2h0M287.6 115.4h0M263.0 94.6h0M316.1 70.2h0M271.0 86.6h0M329.9 81.0h0M292.0 72.7h0M280.4 86.7h0M280.0 89.6h0M275.3 90.2h0M281.3 85.2h0M308.9 101.4h0M278.4 86.2h0M272.6 91.3h0M295.2 74.9h0M299.3 73.5h0M266.9 87.2h0M265.5 92.3h0M305.3 65.5h0M269.6 111.2h0M332.7 87.5h0M333.9 88.6h0M295.5 73.4h0M295.4 109.2h0M285.7 111.3h0M278.6 113.3h0M287.7 110.2h0M304.2 101.7h0M314.4 100.4h0M262.9 95.4h0M279.9 114.2h0M280.3 115.7h0M308.1 102.7h0M300.2 71.6h0M309.0 99.4h0M272.9 89.0h0M315.9 101.7h0M279.7 83.7h0M261.3 92.6h0M312.7 65.5h0M275.9 87.9h0M317.9 68.4h0M329.2 95.1h0M327.7 94.7h0M264.1 106.1h0M278.8 86.1h0M319.2 69.8h0M308.3 102.8h0M279.5 79.0h0M298.6 73.3h0M288.7 111.9h0M264.6 102.6h0M275.9 114.7h0M308.0 68.2h0M297.7 74.5h0M299.0 107.3h0M315.6 70.8h0M272.6 90.0h0M317.8 97.7h0M275.5 89.3h0M263.8 98.0h0M270.8 88.2h0M263.1 102.1h0M308.9 101.3h0M266.6 109.1h0M274.4 88.6h0M265.6 110.1h0M288.2 73.1h0M276.3 111.7h0M332.9 89.3h0M311.5 67.4h0M308.2 104.3h0M300.4 73.4h0M331.7 89.4h0M329.6 79.6h0M284.3 76.2h0M329.2 93.4h0M262.0 105.7h0M284.2 114.6h0M332.9 90.8h0M295.2 76.2h0M262.0 100.6h0M272.5 110.6h0M333.0 90.7h0M273.7 89.0h0M272.0 109.3h0M280.8 111.8h0M306.9 106.3h0M286.1 73.7h0M272.9 90.3h0M299.8 72.5h0M270.6 87.8h0M331.5 94.4h0M312.8 66.7h0M299.2 72.9h0M263.9 106.7h0M310.9 66.9h0M306.2 104.5h0" stroke="#C6980F" stroke-width="1.40" stroke-linecap="round" fill="none"/><path d="M282.3 78.6h0M262.7 98.3h0M284.9 112.8h0M314.7 66.6h0M271.1 88.2h0M301.4 106.0h0M301.6 70.3h0M299.7 107.1h0M265.2 91.5h0M266.7 88.5h0M313.7 68.9h0M308.4 67.3h0M271.8 109.8h0M333.5 91.9h0M332.6 88.9h0M314.8 67.2h0M316.4 68.6h0M263.3 96.0h0M297.7 74.1h0M324.5 96.4h0M291.1 72.6h0M322.5 73.9h0M281.7 81.8h0M297.9 74.6h0M320.4 98.4h0M273.4 110.8h0M301.9 71.4h0M276.0 89.0h0M303.0 106.1h0M312.9 102.1h0M296.3 108.4h0M266.1 107.5h0M263.0 102.4h0M313.4 68.3h0M274.4 89.6h0M282.0 81.3h0M289.9 71.5h0M275.0 88.7h0M322.8 97.9h0M294.0 110.0h0M322.2 72.7h0M319.7 70.3h0M266.5 108.9h0M309.1 66.4h0M263.8 103.7h0M286.8 112.0h0M301.4 105.7h0M263.3 103.8h0M291.6 72.5h0M323.8 97.3h0M268.3 86.4h0M280.2 114.8h0M270.8 86.6h0M282.2 112.9h0M262.7 91.1h0M263.3 104.7h0M279.8 87.0h0M329.5 94.2h0M298.5 73.6h0M306.1 104.6h0M268.5 87.2h0M313.8 68.3h0M263.5 96.3h0M325.6 95.9h0M297.2 107.3h0M318.8 99.5h0" stroke="#fff" stroke-width="1.50" stroke-linecap="round" fill="none"/><path d="M294.1 72.3h0M322.8 71.3h0M264.0 111.2h0M302.8 73.2h0M331.0 93.9h0M275.0 114.0h0M283.7 111.6h0M277.7 112.7h0M283.4 114.2h0M310.5 99.8h0M270.0 87.2h0M295.9 73.1h0M271.3 89.0h0M300.7 75.1h0M266.8 91.1h0M261.9 100.1h0M278.8 112.6h0M264.3 94.5h0M323.1 75.5h0M267.1 86.9h0M305.6 65.5h0M265.6 107.0h0M306.9 68.1h0M330.1 91.7h0M312.8 67.3h0M289.0 71.2h0M332.2 86.7h0M277.1 86.3h0M284.1 114.4h0M273.9 111.6h0M290.0 110.5h0M303.9 103.3h0M316.6 70.0h0M306.9 101.1h0M264.0 96.2h0M289.5 108.0h0M274.5 91.1h0M268.3 111.4h0M312.7 70.6h0M302.6 105.7h0M303.4 70.9h0M332.7 82.8h0M292.7 74.9h0M300.2 68.9h0M277.6 85.2h0M317.5 100.6h0M262.0 95.3h0M286.2 110.1h0M301.4 69.8h0M316.5 101.7h0M273.0 87.7h0M271.8 87.4h0M263.3 96.0h0M268.2 110.2h0M329.4 93.6h0M306.1 104.7h0M287.4 112.4h0M292.6 71.8h0M260.8 92.9h0M297.4 74.5h0M332.6 85.3h0M271.4 89.6h0M300.2 102.5h0M271.0 86.9h0M296.5 74.6h0M329.3 93.7h0" stroke="#C6980F" stroke-width="1.30" stroke-linecap="round" fill="none"/>
<path d="M245.9 116.0 C246.9 114.3 250.3 112.8 252.7 111.6 C255.0 110.3 258.3 108.8 260.0 108.6 C261.8 108.5 261.9 109.2 263.0 110.7 C264.1 112.2 265.6 115.6 266.5 117.5 C267.5 119.3 269.2 120.7 268.9 121.9 C268.5 123.1 267.2 124.5 264.5 124.8 C261.8 125.2 255.6 124.4 252.7 123.9 C249.7 123.5 247.9 123.2 246.8 121.9 C245.7 120.6 244.9 117.7 245.9 116.0Z" fill="#3A9DDE"/><path d="M247.4 117.5h0M253.6 118.0h0M254.5 117.2h0M249.7 115.5h0M251.5 119.1h0M254.3 118.9h0M261.1 120.4h0M262.2 120.7h0M263.2 122.2h0M263.6 118.4h0M263.3 121.7h0M263.0 118.1h0M261.6 124.7h0M263.4 118.9h0M267.4 120.9h0M263.6 119.0h0M263.4 120.2h0M265.0 122.8h0M261.6 121.1h0M263.0 121.6h0M265.6 119.5h0" stroke="#fff" stroke-width="1.10" stroke-linecap="round" fill="none"/><path d="M246.3 118.0h0M263.8 124.8h0M248.9 119.8h0M258.7 110.9h0M246.7 115.6h0M244.2 116.8h0M263.4 111.9h0M255.7 109.1h0M248.4 122.1h0M246.3 121.5h0M250.2 121.5h0M262.9 116.1h0M259.1 108.9h0M265.9 116.0h0M265.2 114.6h0M259.4 108.9h0M252.6 126.8h0M267.3 116.4h0M261.5 124.8h0M258.7 108.9h0M263.2 111.6h0M257.7 109.7h0M248.2 116.0h0M255.1 108.9h0M248.3 122.0h0M266.8 118.0h0M264.2 108.8h0M250.9 121.5h0M252.5 123.6h0M248.2 121.0h0M253.2 112.4h0M264.1 115.9h0M263.6 111.0h0M263.6 114.6h0M266.0 114.6h0M251.5 112.0h0M260.1 111.5h0M261.6 110.9h0M260.4 110.3h0M267.6 123.7h0M250.4 118.8h0M267.7 124.0h0M247.0 114.2h0M269.0 120.9h0M264.8 124.1h0M266.8 123.5h0M260.6 110.1h0M249.2 118.9h0M246.7 117.7h0" stroke="#3A9DDE" stroke-width="1.40" stroke-linecap="round" fill="none"/><path d="M263.8 110.7h0M268.8 120.5h0M249.9 124.2h0M268.3 121.3h0M247.2 114.8h0M261.1 109.4h0M266.6 117.0h0M255.6 110.8h0M247.4 122.5h0M252.1 123.9h0M257.2 126.1h0M258.4 109.2h0M263.3 110.5h0M265.6 115.6h0M251.9 112.4h0M268.3 120.7h0M259.3 109.3h0M256.9 110.1h0M249.2 114.1h0M267.2 122.6h0M267.9 120.0h0" stroke="#fff" stroke-width="1.50" stroke-linecap="round" fill="none"/><path d="M267.6 119.2h0M247.8 116.1h0M254.6 127.5h0M270.8 122.0h0M269.5 122.9h0M251.7 110.6h0M262.1 124.9h0M265.5 114.0h0M263.7 119.8h0M244.9 121.4h0M267.8 111.5h0M265.0 124.1h0M263.4 114.1h0M252.9 114.9h0M250.0 124.5h0M267.9 124.9h0M255.4 111.0h0M259.5 107.6h0M250.1 112.8h0M265.3 115.2h0M269.5 118.7h0" stroke="#3A9DDE" stroke-width="1.30" stroke-linecap="round" fill="none"/>
<path d="M276.6 107.3h0M277.3 108.2h0M277.7 108.6h0M278.0 107.3h0M275.2 109.7h0M276.2 110.2h0M276.0 108.9h0M274.1 111.1h0M271.0 111.6h0M270.1 109.6h0M269.5 110.8h0M271.2 108.0h0M270.0 112.6h0M270.2 111.4h0M269.9 106.3h0M266.0 93.3h0M267.1 92.6h0M267.8 93.1h0M265.5 97.0h0M267.6 91.8h0M263.4 92.4h0M267.3 90.8h0M265.7 92.9h0M272.5 110.5h0M273.8 109.1h0M272.4 110.2h0M272.5 111.3h0M263.7 92.3h0M264.1 91.6h0M264.7 94.3h0M262.2 92.4h0M266.9 93.9h0M265.2 91.1h0M264.0 95.3h0M264.3 92.6h0M266.0 88.1h0M267.1 90.9h0M263.8 95.9h0M266.4 92.0h0M275.8 101.8h0M279.1 104.2h0M275.6 104.1h0M276.0 103.5h0M281.8 98.4h0M281.3 98.8h0M281.8 97.7h0M279.6 98.5h0M282.9 98.5h0M270.8 99.7h0M271.6 98.7h0M273.0 102.0h0M274.5 100.6h0M273.0 101.7h0M281.5 96.9h0M279.7 98.1h0M280.0 95.9h0M282.1 102.4h0M280.8 101.0h0M282.1 97.9h0M283.1 97.2h0M280.3 99.3h0M265.8 107.8h0M266.8 108.6h0M268.1 105.8h0M271.7 92.8h0M271.9 94.2h0M270.6 88.4h0M282.1 95.6h0M282.3 96.0h0M280.8 95.6h0M270.1 97.5h0M269.6 96.2h0M271.4 96.2h0M271.2 96.6h0M269.0 94.3h0" stroke="#fff" stroke-width="1.30" stroke-linecap="round" fill="none"/>
<path d="M252.5 119.4h0M254.1 121.7h0M251.5 120.1h0M252.9 122.3h0M253.9 121.8h0M252.3 121.6h0M260.5 114.1h0M262.8 114.6h0M263.6 114.5h0M262.4 116.6h0M260.9 114.5h0M263.6 118.3h0M257.3 112.5h0M255.6 112.4h0M256.3 109.9h0M256.1 109.5h0M255.5 113.2h0M267.9 118.0h0M266.4 117.5h0M265.1 117.2h0M268.7 116.0h0M265.0 117.5h0M261.6 112.5h0M262.6 113.2h0M259.8 115.0h0M262.0 113.0h0M260.3 113.8h0M261.5 114.9h0M245.9 118.5h0M250.2 117.0h0M248.2 115.8h0M249.2 115.3h0M250.2 118.8h0M248.7 119.9h0M250.7 119.7h0M254.0 118.9h0M251.9 120.5h0" stroke="#fff" stroke-width="1.20" stroke-linecap="round" fill="none"/>
<path d="M337.8 73.5h0M340.6 74.3h0M327.4 65.1h0M345.2 78.8h0M341.0 75.8h0M328.0 65.6h0M342.3 77.0h0M340.0 75.8h0M328.5 67.8h0M328.2 66.8h0M344.0 76.9h0M343.8 78.0h0M334.7 69.4h0M329.3 67.7h0M328.4 64.5h0M330.8 68.4h0M346.1 80.4h0M332.9 69.8h0M333.0 69.7h0M342.6 75.5h0M326.4 62.5h0M344.0 77.4h0M342.6 76.2h0M332.5 69.8h0M333.8 69.8h0M342.4 78.4h0M343.1 76.7h0M344.6 75.4h0M340.1 73.3h0M330.4 66.8h0M342.9 77.5h0M332.9 68.1h0M343.3 75.2h0M330.1 65.2h0M338.9 73.9h0M341.8 76.8h0M332.9 67.3h0M342.9 77.9h0M331.5 67.9h0M326.7 63.3h0M328.7 65.2h0M329.0 66.8h0M342.2 75.9h0M339.0 72.8h0M343.2 76.8h0M342.4 77.0h0M337.8 71.8h0M333.8 72.0h0M339.0 74.7h0M334.3 68.9h0M328.7 65.4h0M336.1 73.3h0M335.2 70.8h0M342.0 75.5h0M330.3 65.4h0M332.3 65.1h0M333.3 71.3h0M344.1 78.8h0M332.3 68.1h0M335.2 72.1h0M332.6 64.7h0M337.0 71.8h0M342.1 77.3h0M341.4 78.6h0M331.1 66.9h0M345.1 76.3h0M336.9 71.0h0M327.7 64.6h0M333.6 69.7h0M330.4 68.4h0" stroke="#17B3BD" stroke-width="1.50" stroke-linecap="round" fill="none"/>
<path d="M357.7 101.8h0M356.3 101.4h0M355.5 103.7h0M354.0 102.5h0M354.4 102.7h0M359.9 99.3h0M356.6 101.6h0M354.5 103.7h0M355.2 104.2h0M359.9 101.1h0M359.6 100.8h0M360.3 100.5h0M354.2 103.8h0M356.4 102.9h0M354.4 104.2h0M358.2 102.1h0M358.0 101.8h0M361.4 99.3h0M358.9 101.3h0M353.7 102.3h0M356.7 102.6h0M356.4 101.8h0M355.3 102.8h0M354.1 103.4h0M355.7 101.4h0M356.6 102.3h0M357.9 100.4h0M362.2 99.6h0M361.2 98.9h0M358.7 101.8h0" stroke="#17B3BD" stroke-width="1.50" stroke-linecap="round" fill="none"/>
<path d="M353.5 161.1 C353.7 159.6 355.4 154.2 357.0 151.7 C358.6 149.1 360.4 147.2 362.9 145.8 C365.4 144.3 370.3 141.8 371.7 142.8 C373.2 143.8 372.2 149.3 371.7 151.7 C371.2 154.0 370.5 155.8 368.8 156.7 C367.1 157.5 363.6 156.0 361.4 156.7 C359.2 157.3 356.9 159.8 355.5 160.5 C354.2 161.2 353.2 162.6 353.5 161.1Z" fill="#22A85A"/><path d="M363.1 150.1h0M360.1 149.1h0M361.4 154.4h0M364.6 151.2h0M361.5 148.5h0M363.7 149.9h0M363.7 149.5h0M364.5 147.6h0M361.9 153.6h0M362.7 150.8h0M362.1 151.5h0" stroke="#fff" stroke-width="1.10" stroke-linecap="round" fill="none"/><path d="M371.7 144.0h0M372.0 153.2h0M359.8 145.1h0M363.0 149.1h0M356.9 153.0h0M360.5 147.1h0M372.0 143.0h0M356.3 153.2h0M364.3 146.1h0M365.0 156.4h0M358.3 158.7h0M355.6 161.0h0M366.2 143.8h0M353.0 154.9h0M354.6 160.7h0M352.8 160.3h0M358.7 158.9h0M367.0 143.6h0M357.0 155.4h0M355.1 154.7h0M371.6 146.5h0M355.2 160.3h0M363.7 160.5h0M372.3 147.5h0M366.5 155.6h0M368.6 155.5h0M370.7 155.8h0M354.1 158.0h0M367.3 155.9h0M361.3 149.1h0M358.1 149.1h0M370.3 152.5h0M355.1 155.5h0M368.9 155.2h0M356.2 157.8h0M371.3 152.9h0M355.9 161.8h0M373.2 151.8h0M367.5 142.7h0M370.8 156.0h0M358.2 148.6h0M369.7 147.3h0M371.5 153.0h0M368.7 142.0h0M372.3 155.9h0M353.9 162.0h0M355.7 158.0h0" stroke="#22A85A" stroke-width="1.40" stroke-linecap="round" fill="none"/><path d="M359.4 147.6h0M354.4 161.0h0M363.8 156.2h0M354.1 160.7h0M370.9 151.6h0M357.5 159.3h0M354.4 161.4h0M353.6 160.7h0M361.1 149.0h0M367.2 144.9h0M366.1 144.9h0M362.0 146.2h0M365.7 156.5h0M365.6 144.3h0M371.1 148.7h0M372.0 148.5h0M361.5 147.5h0M370.1 156.2h0M354.7 158.5h0M370.7 153.2h0" stroke="#fff" stroke-width="1.50" stroke-linecap="round" fill="none"/><path d="M358.9 156.1h0M363.3 146.7h0M372.9 143.2h0M360.1 160.0h0M355.9 156.5h0M363.4 145.6h0M357.2 154.7h0M355.3 150.1h0M365.6 145.3h0M367.5 157.4h0M364.1 144.6h0M368.4 153.2h0M358.7 155.9h0M372.0 149.2h0M370.0 152.9h0M352.7 161.6h0M352.8 156.3h0M353.5 161.5h0M364.5 147.9h0M361.4 150.9h0" stroke="#22A85A" stroke-width="1.30" stroke-linecap="round" fill="none"/>
<path d="M286.6 169.3 C287.3 168.2 290.7 167.7 293.9 167.9 C297.1 168.1 300.9 170.2 305.7 170.5 C310.6 170.9 319.7 168.9 323.1 169.9 C326.5 171.0 327.0 174.6 326.1 176.7 C325.1 178.8 319.9 181.4 317.2 182.6 C314.5 183.8 312.8 184.6 309.9 184.1 C307.0 183.5 303.2 180.9 299.8 179.4 C296.4 177.8 291.7 176.6 289.5 174.9 C287.3 173.3 285.8 170.5 286.6 169.3Z" fill="#74AC2A"/><path d="M303.2 177.1h0M303.8 178.2h0M304.4 178.9h0M304.6 181.0h0M304.5 179.8h0M301.8 173.1h0M293.4 177.8h0M293.1 175.3h0M290.0 176.8h0M294.1 175.2h0M294.6 175.3h0M293.1 177.7h0M291.1 176.9h0M293.3 175.8h0M307.7 175.1h0M312.2 177.0h0M310.6 175.3h0M311.7 176.8h0M309.5 175.5h0M312.1 181.2h0M309.1 172.5h0M310.0 175.2h0M310.2 174.5h0M310.6 180.7h0M314.1 183.6h0M313.8 183.5h0M314.9 186.6h0M315.7 181.2h0M318.6 182.9h0M317.8 179.0h0M318.2 184.5h0M319.2 173.8h0M317.7 172.3h0M319.6 173.0h0M322.5 167.7h0M309.0 177.3h0M302.8 178.3h0M302.5 181.8h0M308.0 176.3h0M305.5 179.6h0M308.1 183.1h0M308.5 181.3h0M301.5 177.8h0M293.6 173.5h0M296.2 174.7h0M293.6 174.1h0M293.9 175.4h0M292.6 172.8h0M292.5 176.0h0M293.0 170.5h0" stroke="#fff" stroke-width="1.10" stroke-linecap="round" fill="none"/><path d="M288.1 174.1h0M290.5 168.4h0M326.6 173.3h0M296.2 175.6h0M326.9 175.4h0M320.1 179.5h0M287.9 169.6h0M287.6 169.1h0M322.1 172.6h0M313.5 171.0h0M300.2 180.0h0M299.9 180.5h0M314.8 181.2h0M317.4 181.8h0M317.2 183.0h0M308.1 181.9h0M295.0 169.7h0M316.7 183.0h0M292.9 169.0h0M316.9 169.5h0M290.0 168.1h0M298.0 166.1h0M324.9 170.5h0M293.5 169.6h0M300.6 169.8h0M317.5 182.4h0M324.4 170.6h0M306.3 182.3h0M289.3 168.2h0M288.0 176.4h0M289.8 168.8h0M320.1 168.7h0M311.7 182.3h0M291.0 174.4h0M327.7 175.8h0M310.7 170.9h0M317.2 183.1h0M306.8 170.3h0M319.1 184.4h0M309.6 182.8h0M326.3 180.0h0M308.5 186.6h0M315.9 182.2h0M314.2 169.9h0M310.7 184.0h0M287.4 173.0h0M300.2 177.4h0M287.4 172.5h0M301.6 180.9h0M325.4 173.9h0M309.8 169.8h0M317.9 169.3h0M287.3 174.4h0M310.2 171.2h0M325.0 173.3h0M317.9 171.1h0M319.7 169.5h0M290.3 167.0h0M310.8 169.7h0M288.8 174.2h0M303.1 168.6h0M310.2 169.7h0M285.6 171.2h0M291.7 168.9h0M319.5 182.7h0M305.6 170.1h0M321.6 180.0h0M326.5 179.7h0M285.9 170.6h0M300.6 181.3h0M292.1 175.3h0M320.0 180.2h0" stroke="#74AC2A" stroke-width="1.40" stroke-linecap="round" fill="none"/><path d="M322.6 179.5h0M313.4 183.9h0M314.7 183.9h0M308.4 182.6h0M312.7 170.2h0M325.0 175.3h0M296.8 168.8h0M322.3 178.7h0M302.2 179.8h0M314.5 169.6h0M318.4 171.0h0M302.6 168.8h0M301.3 179.4h0M296.5 169.6h0M316.1 182.4h0M307.2 169.1h0M313.3 170.1h0M289.7 173.4h0M325.2 172.3h0M300.5 170.5h0M319.1 179.5h0M316.4 170.7h0M305.8 171.0h0M321.2 179.6h0M288.2 169.6h0M297.0 168.6h0M297.6 179.8h0M308.7 183.6h0M310.9 183.9h0M294.0 168.0h0M306.4 181.8h0M321.4 178.3h0M292.1 175.9h0M297.7 176.8h0M308.2 183.2h0M325.7 176.6h0M310.5 184.0h0M319.6 179.4h0M291.9 175.2h0M323.5 170.9h0M325.3 177.1h0M324.8 173.0h0M325.3 178.2h0M307.7 170.2h0M325.7 176.2h0M315.7 169.3h0M294.5 168.4h0M295.4 177.9h0M323.3 171.1h0M303.4 181.2h0M291.2 170.0h0M313.4 169.7h0M316.4 170.5h0M318.2 182.9h0" stroke="#fff" stroke-width="1.50" stroke-linecap="round" fill="none"/><path d="M307.3 182.1h0M315.5 183.1h0M305.9 171.2h0M290.7 170.3h0M294.8 168.8h0M301.5 169.3h0M296.3 166.7h0M319.3 184.0h0M299.6 168.2h0M293.4 168.4h0M324.6 172.6h0M296.6 177.9h0M293.4 178.0h0M289.9 172.7h0M323.0 175.2h0M318.5 182.1h0M292.1 173.0h0M300.3 182.6h0M322.7 170.6h0M289.4 177.3h0M314.5 182.3h0M297.2 177.5h0M294.9 166.8h0M310.9 187.7h0M303.8 183.1h0M286.4 169.5h0M306.2 185.3h0M289.0 170.5h0M296.7 166.0h0M321.1 169.2h0M294.3 178.7h0M319.9 169.2h0M319.4 169.6h0M301.4 170.8h0M309.9 184.7h0M326.0 172.7h0M303.1 182.7h0M288.8 168.6h0M325.2 171.6h0M288.2 174.8h0M292.6 168.6h0M301.1 168.7h0M294.5 176.1h0M287.6 173.1h0M299.8 168.5h0M315.4 182.1h0M315.0 182.7h0M288.0 165.3h0M322.8 179.5h0M293.2 177.8h0M302.4 170.4h0M310.0 172.7h0M327.6 176.3h0M293.2 172.2h0" stroke="#74AC2A" stroke-width="1.30" stroke-linecap="round" fill="none"/>
<path d="M241.1 136.4h0M237.8 136.9h0M246.3 132.7h0M245.6 132.4h0M240.6 135.3h0M244.0 133.5h0M245.0 133.7h0M242.2 135.2h0M237.6 137.4h0M247.0 132.9h0M244.1 133.7h0M242.2 136.1h0M238.3 136.3h0M243.0 134.5h0M246.0 131.9h0M238.2 135.3h0M248.1 131.4h0M246.7 131.6h0M248.3 130.4h0M240.2 135.2h0M241.5 134.1h0M239.8 134.6h0M245.0 133.3h0M249.2 131.8h0M243.6 131.7h0M243.4 133.8h0M243.1 132.0h0M237.9 138.5h0M239.2 136.4h0M245.0 132.9h0M242.4 136.3h0M243.1 133.6h0M245.7 133.4h0M247.8 132.9h0M241.4 136.2h0M238.8 135.4h0M248.3 132.0h0M243.8 134.1h0M245.8 133.1h0M248.3 132.3h0" stroke="#DE5FB8" stroke-width="1.60" stroke-linecap="round" fill="none"/>
<path d="M255.4 145.3h0M256.8 150.8h0M257.2 152.2h0M258.1 151.9h0M258.6 153.2h0M255.4 141.5h0M254.8 142.3h0M258.4 147.8h0M256.7 144.8h0M254.9 145.1h0M257.2 152.5h0M254.8 145.6h0M258.5 152.5h0M257.0 150.6h0M257.7 151.1h0M254.3 145.6h0M256.4 147.8h0M253.4 145.7h0M256.3 145.4h0M254.4 143.5h0M254.2 144.0h0M255.7 147.7h0M255.7 148.6h0M257.6 150.0h0M257.9 151.7h0M255.1 147.8h0M254.7 146.0h0M257.2 152.1h0M257.9 146.2h0M254.4 147.3h0M255.3 146.3h0M256.4 148.2h0M257.2 147.8h0M257.0 145.6h0M256.8 148.2h0M258.7 150.9h0M254.7 146.4h0M254.0 148.5h0M259.2 153.0h0M259.8 155.9h0" stroke="#A583CF" stroke-width="1.50" stroke-linecap="round" fill="none"/>
<path d="M269.2 160.9h0M270.6 159.7h0M269.1 160.7h0M267.8 162.5h0M268.5 162.5h0M270.0 161.1h0M267.6 163.0h0M269.4 160.9h0M268.9 161.2h0M266.9 163.4h0M268.7 161.9h0M268.0 162.4h0" stroke="#22A85A" stroke-width="1.40" stroke-linecap="round" fill="none"/>
<path d="M492.8 74.9h0M483.9 70.2h0M482.9 71.1h0M486.6 71.3h0M478.0 67.6h0M492.9 76.4h0M483.2 69.4h0M477.8 65.5h0M487.5 73.9h0M491.4 74.4h0M486.0 70.4h0M476.4 65.0h0M489.4 72.6h0M484.4 70.2h0M479.6 65.7h0M488.6 74.2h0M486.7 70.7h0M487.4 73.3h0M487.4 72.1h0M477.4 66.2h0M492.9 74.4h0M492.7 73.3h0M481.7 69.3h0M481.4 67.1h0M488.9 72.7h0M492.8 77.8h0M476.1 64.4h0M485.1 71.8h0M482.2 69.6h0M486.4 69.9h0M476.6 64.2h0M485.5 70.0h0M488.6 71.0h0M484.1 68.3h0M478.6 66.6h0M490.0 73.7h0M483.0 68.9h0M489.3 72.8h0M490.9 74.0h0M479.2 66.5h0M485.4 72.3h0M493.4 76.9h0M488.5 72.4h0M494.1 75.6h0M481.8 68.8h0M484.2 69.4h0M491.7 74.4h0M492.9 75.6h0M477.7 66.1h0M479.2 67.7h0M484.0 70.7h0M490.5 72.7h0M493.7 74.1h0M484.7 70.4h0M492.4 74.6h0M493.7 75.2h0M489.3 73.8h0M491.1 75.1h0M489.0 73.4h0M484.5 69.4h0M490.1 73.0h0M478.7 66.7h0M479.2 66.1h0M488.0 71.4h0M480.0 66.0h0M493.2 76.2h0M492.8 77.6h0M493.2 76.0h0M495.1 76.7h0M490.6 72.3h0M478.1 65.5h0M490.7 72.9h0M487.6 73.3h0M477.4 64.6h0M489.6 74.2h0M481.4 67.9h0M486.7 71.0h0M486.6 73.5h0M494.3 75.5h0M489.1 71.5h0" stroke="#17B3BD" stroke-width="1.70" stroke-linecap="round" fill="none"/>
<path d="M500.1 105.3h0M505.7 101.7h0M500.1 105.3h0M501.0 106.9h0M507.1 101.6h0M508.2 99.7h0M499.5 105.6h0M499.2 105.8h0M510.8 100.7h0M508.0 100.5h0M505.8 101.6h0M499.8 104.7h0M501.1 104.5h0M502.1 104.8h0M504.9 101.3h0M502.9 102.5h0M502.1 104.5h0M503.0 104.3h0M500.3 105.1h0M508.1 99.6h0M506.9 102.1h0M500.7 104.2h0M507.6 101.6h0M508.4 99.3h0M500.6 105.3h0M506.8 100.6h0M506.6 101.0h0M508.3 99.6h0M504.4 102.2h0M505.7 102.8h0" stroke="#17B3BD" stroke-width="1.60" stroke-linecap="round" fill="none"/>
<path d="M420.5 97.1h0M422.9 95.6h0M420.1 97.0h0M425.5 96.3h0M421.0 100.6h0M419.7 92.9h0M421.3 94.8h0M427.4 93.0h0M417.8 102.9h0M426.7 97.9h0M420.0 92.8h0M426.8 106.5h0M425.4 97.7h0M425.7 89.2h0M426.9 102.2h0M421.4 107.1h0M429.0 101.1h0M415.2 100.5h0M420.5 93.1h0M428.9 103.6h0M415.6 92.7h0M419.2 100.2h0M419.0 97.3h0M427.0 91.7h0M425.5 94.9h0M429.2 108.5h0M419.0 100.9h0M415.4 96.7h0M423.9 101.6h0M419.2 88.4h0M415.6 99.9h0M416.4 94.4h0M423.8 107.3h0M422.1 93.3h0M423.3 93.7h0M426.5 91.1h0M417.9 97.3h0M416.8 90.6h0M417.1 94.9h0M420.1 104.3h0M420.3 98.1h0M420.1 104.6h0M428.5 97.0h0M429.7 99.2h0M424.8 96.0h0M418.1 90.6h0M428.2 95.5h0M425.1 97.7h0M422.3 92.2h0M416.5 95.0h0M424.8 99.6h0M420.7 89.2h0M417.9 92.3h0M427.2 99.7h0M419.0 93.1h0M418.4 93.8h0M419.3 104.9h0M426.6 102.9h0M428.2 102.0h0M416.3 93.3h0M422.3 105.6h0M423.3 97.1h0M426.0 95.1h0M417.8 106.2h0M415.5 101.9h0M419.5 107.1h0M418.5 89.9h0M416.9 105.3h0M429.7 101.7h0M424.8 93.9h0M418.1 89.6h0M423.7 95.3h0M416.7 97.2h0M416.3 101.4h0M424.4 98.8h0M415.4 91.5h0M417.6 98.9h0M421.5 99.8h0M425.6 107.2h0M421.3 88.6h0M418.8 90.8h0M423.5 104.8h0M415.7 94.1h0M427.6 102.7h0M415.4 102.7h0M426.7 96.6h0M416.2 102.1h0M418.9 90.6h0M416.3 96.5h0M415.7 96.1h0M422.7 99.7h0M420.3 105.2h0M415.0 94.9h0M429.0 106.5h0M428.8 104.4h0M422.4 104.9h0M423.0 90.3h0M417.8 89.8h0M428.0 94.7h0M420.3 99.4h0M415.3 103.1h0M426.7 105.1h0M428.1 94.6h0M416.0 104.3h0M425.0 95.8h0M419.3 91.1h0M427.3 97.7h0M427.0 95.1h0M418.9 98.9h0M425.9 107.0h0M419.4 102.8h0M420.3 106.5h0M426.1 99.8h0M419.6 93.7h0M428.2 105.2h0M418.6 89.5h0M422.3 99.8h0M422.5 96.6h0M422.8 89.7h0M415.9 102.4h0M424.2 105.3h0M425.0 108.0h0M417.5 104.7h0M416.1 99.3h0M426.3 91.1h0M422.3 107.3h0M425.9 96.4h0M421.5 93.8h0M429.4 104.8h0M424.8 94.3h0M425.7 98.3h0M426.8 95.6h0M428.1 102.6h0M421.0 100.0h0M426.9 99.2h0M428.4 103.3h0M421.7 106.2h0M416.1 95.1h0M425.4 105.7h0M423.0 94.7h0M417.9 97.5h0M427.4 99.9h0M420.9 94.4h0M423.5 95.3h0M425.6 105.7h0M419.3 90.5h0M427.4 108.6h0M417.3 92.5h0M414.0 93.7h0M414.5 99.2h0M418.6 102.4h0M422.9 100.7h0M418.5 103.7h0M425.0 103.3h0M421.4 97.8h0M421.3 101.1h0M428.1 106.3h0M427.1 98.4h0M416.5 93.6h0M419.4 95.3h0M423.5 90.2h0M427.5 95.1h0M428.6 94.9h0M418.6 91.5h0M429.5 100.6h0M422.6 103.7h0M415.3 95.8h0M417.9 99.9h0M419.5 100.3h0M429.0 108.4h0M428.1 93.3h0M417.8 95.7h0M423.2 92.9h0M425.3 101.9h0M414.8 102.9h0M419.3 90.8h0M426.8 97.7h0M426.7 108.9h0M428.9 99.3h0M418.1 99.0h0M429.8 103.6h0M424.6 106.1h0M420.3 99.9h0M427.6 92.0h0M422.5 100.2h0M420.8 91.7h0M420.4 100.6h0M415.1 103.3h0M415.8 93.3h0M426.9 106.5h0M423.5 95.7h0M413.9 97.1h0M417.5 100.5h0M414.8 102.8h0M415.4 92.6h0M418.9 94.6h0M421.4 91.2h0M420.2 103.0h0M418.9 105.1h0M423.9 97.6h0M425.9 102.3h0M419.7 90.5h0M423.7 104.2h0M421.4 98.0h0M424.9 101.0h0M420.6 91.8h0M421.2 99.7h0M422.8 94.9h0M417.3 101.5h0M425.8 93.1h0M420.8 101.9h0M427.9 92.1h0M414.7 94.4h0M421.5 103.9h0M424.0 108.0h0M420.7 88.3h0M422.3 101.5h0M419.5 101.2h0M422.5 93.4h0M417.7 94.7h0M428.2 98.6h0M414.2 94.2h0M423.7 105.3h0M415.4 104.7h0M420.0 99.1h0M420.5 97.3h0M428.7 103.7h0M425.2 90.8h0M424.7 101.5h0M418.8 93.5h0M428.8 99.3h0M413.9 95.1h0M419.4 89.2h0M420.5 90.1h0M425.6 105.4h0M426.6 105.0h0M427.3 99.0h0M415.6 94.8h0M420.4 104.5h0M426.8 100.4h0M428.9 108.7h0M415.0 104.1h0M417.3 94.8h0M414.6 97.2h0M421.8 103.0h0M422.2 104.4h0M419.1 96.7h0M425.9 103.0h0M428.2 94.4h0M427.6 103.8h0M423.1 96.6h0M423.0 89.4h0M415.2 94.5h0M425.4 103.7h0M423.8 92.2h0M425.5 105.7h0M423.8 92.7h0M422.9 96.3h0" stroke="#C6980F" stroke-width="1.70" stroke-linecap="round" fill="none"/>
<path d="M446.4 77.2h0M475.7 77.8h0M446.2 86.8h0M469.2 83.0h0M469.5 76.6h0M463.6 76.7h0M451.4 78.7h0M445.3 81.9h0M452.8 82.8h0M444.8 97.1h0M454.7 78.7h0M439.9 86.6h0M459.3 76.4h0M448.6 89.7h0M461.9 83.3h0M468.5 77.8h0M449.8 78.6h0M471.3 83.4h0M475.9 80.2h0M444.8 83.4h0M438.9 94.4h0M446.8 90.2h0M443.8 87.4h0M442.0 79.7h0M463.5 75.6h0M444.2 89.0h0M457.9 74.0h0M438.7 88.3h0M461.1 75.4h0M468.7 79.6h0M452.0 84.5h0M444.1 88.3h0M453.9 79.4h0M469.1 79.1h0M446.2 91.0h0M454.3 82.7h0M458.1 81.4h0M439.2 86.1h0M454.1 82.5h0M451.7 76.8h0M477.4 80.7h0M450.1 81.7h0M467.3 86.3h0M450.8 83.9h0M460.3 75.0h0M467.5 83.2h0M462.9 80.8h0M475.1 83.0h0M444.4 80.4h0M469.7 75.3h0M439.7 96.9h0M455.6 80.1h0M441.2 86.4h0M472.7 77.3h0M455.7 85.7h0M460.8 74.6h0M473.1 77.6h0M445.1 76.9h0M454.9 85.7h0M440.7 92.3h0M458.3 81.5h0M454.4 80.1h0M440.6 86.7h0M454.4 76.0h0M469.3 78.2h0M438.7 93.2h0M444.4 96.5h0M458.4 75.9h0M460.2 85.1h0M465.1 76.5h0M446.2 90.1h0M472.7 76.6h0M461.0 76.4h0M446.1 80.3h0M472.8 76.2h0M457.4 76.3h0M444.4 90.6h0M445.6 94.4h0M458.7 82.7h0M445.1 88.3h0M472.3 83.0h0M442.5 88.7h0M448.7 85.8h0M466.0 73.8h0M457.0 81.6h0M447.3 80.1h0M444.4 93.6h0M456.6 82.7h0M445.7 95.5h0M462.4 73.9h0M449.4 85.0h0M464.7 77.5h0M457.4 80.7h0M450.2 78.5h0M468.2 75.6h0M435.9 91.8h0M456.6 74.2h0M461.1 74.4h0M440.0 97.3h0M458.6 77.6h0M470.2 75.6h0M449.6 77.1h0M439.2 88.5h0M442.6 82.1h0M441.1 85.6h0M436.6 90.7h0M468.5 75.3h0M438.1 91.9h0M456.3 81.9h0M454.9 80.6h0M444.6 77.4h0M477.5 80.3h0M468.6 81.4h0M438.3 86.2h0M436.6 91.9h0M442.6 91.7h0M440.2 81.5h0M456.3 83.4h0M458.9 73.9h0M463.4 77.5h0M472.3 80.8h0M471.6 80.0h0M452.7 82.9h0M437.9 96.5h0M456.5 80.1h0M444.4 91.0h0M446.7 86.9h0M439.1 82.8h0M437.8 86.6h0M450.6 80.6h0M463.1 83.6h0M474.1 81.9h0M474.2 82.9h0M443.1 90.1h0M437.2 88.1h0M467.2 77.4h0M464.1 78.0h0M449.5 81.9h0M449.0 75.3h0M476.5 82.8h0M454.0 85.5h0M476.8 80.6h0M453.6 74.8h0M475.9 76.9h0M463.2 77.1h0M446.0 84.4h0M467.9 84.8h0M453.0 83.9h0M457.5 80.7h0M476.6 78.3h0M440.4 87.8h0M436.3 91.2h0M447.8 84.7h0M448.6 87.4h0M446.9 91.0h0M447.4 85.4h0M463.4 84.6h0M442.6 90.8h0M444.9 79.8h0M445.6 94.8h0M464.4 84.6h0M454.0 75.7h0M438.4 93.8h0M472.7 83.2h0M451.0 86.9h0M445.7 78.8h0M440.2 91.5h0M453.8 84.5h0M441.0 87.8h0M446.7 76.5h0M473.2 81.1h0M460.0 80.6h0M471.2 78.8h0M448.9 75.4h0" stroke="#C6980F" stroke-width="1.70" stroke-linecap="round" fill="none"/>
<path d="M442.3 99.6h0M451.5 91.6h0M433.8 94.2h0M451.1 92.3h0M430.9 104.3h0M442.5 89.3h0M439.6 100.5h0M440.4 99.2h0M444.9 95.2h0M436.6 91.2h0M439.2 101.6h0M444.1 91.5h0M433.2 100.7h0M433.2 102.9h0M447.1 99.6h0M441.9 92.0h0M440.0 88.4h0M444.9 92.0h0M448.3 90.9h0M447.9 102.0h0M436.9 103.6h0M445.4 93.1h0M451.6 103.5h0M441.3 96.4h0M450.9 102.9h0M441.6 89.0h0M452.2 88.7h0M453.3 92.2h0M432.4 105.4h0M447.6 96.8h0M445.3 100.4h0M455.2 99.2h0M443.7 98.1h0M440.2 103.8h0M431.7 103.9h0M443.8 95.4h0M452.9 91.1h0M433.9 94.9h0M443.0 104.7h0M441.2 94.1h0M452.9 96.3h0M440.4 92.1h0M442.1 104.2h0M438.8 103.1h0M434.4 90.4h0M452.5 99.5h0M429.8 93.3h0M442.9 90.9h0M437.2 109.2h0M441.1 92.4h0M445.4 89.3h0M443.2 102.8h0M431.1 100.3h0M437.3 105.2h0M445.6 91.1h0M433.8 104.2h0M451.3 88.1h0M440.3 93.6h0M444.3 105.2h0M450.0 93.5h0M445.9 95.9h0M441.9 99.8h0M447.3 90.7h0M452.1 90.6h0M437.4 107.8h0M433.1 105.4h0M438.6 88.6h0M441.8 95.2h0M449.3 98.9h0M433.4 109.5h0M453.7 100.7h0M443.4 90.8h0M437.6 92.0h0M434.1 101.9h0M437.7 105.8h0M442.8 102.4h0M435.3 104.0h0M440.0 104.6h0M445.0 90.0h0M437.0 105.4h0M443.9 104.4h0M437.8 98.5h0M442.0 105.3h0M430.7 99.3h0M435.9 101.3h0M435.9 91.7h0M435.1 108.9h0M438.8 108.6h0M449.2 93.3h0M454.7 102.3h0M431.8 99.5h0M442.5 103.3h0M436.7 109.3h0M446.1 88.3h0M437.1 104.3h0M435.6 106.6h0M447.8 98.2h0M444.7 104.9h0M447.4 96.5h0M442.6 99.2h0" stroke="#C6980F" stroke-width="1.70" stroke-linecap="round" fill="none"/>
<path d="M461.4 76.3h0M475.3 83.2h0M472.0 81.4h0M467.9 80.0h0M461.2 78.8h0M458.3 76.3h0M474.3 82.7h0M477.2 77.6h0M466.6 84.5h0M468.7 81.3h0M462.5 74.5h0M474.8 76.2h0M477.8 81.3h0M460.9 81.6h0M463.6 79.5h0M474.0 80.1h0M471.9 77.3h0M459.4 77.1h0M473.0 79.9h0M459.6 76.1h0M467.1 73.4h0M457.6 78.6h0M459.5 82.1h0M474.2 77.0h0M468.6 85.0h0M470.3 77.8h0M465.9 77.0h0M471.0 83.7h0M471.9 75.4h0M467.8 83.3h0M459.0 80.3h0M474.0 82.4h0M467.2 76.4h0M470.1 77.9h0M466.7 79.6h0M469.6 83.8h0M462.9 76.5h0M460.7 74.6h0M459.4 77.5h0M476.6 83.4h0M463.3 74.0h0M462.1 79.2h0M457.0 76.3h0M467.1 81.3h0M460.0 74.7h0M463.9 74.3h0M459.3 74.5h0M474.3 83.6h0M475.3 80.9h0M463.2 82.9h0M476.9 82.2h0M470.9 75.0h0M471.3 81.2h0M461.7 78.9h0M470.6 81.4h0M476.2 82.4h0M468.0 80.2h0M467.5 82.2h0M468.4 76.5h0M468.0 75.8h0M475.9 81.7h0M461.2 79.3h0M469.5 80.1h0M466.8 79.3h0M471.8 83.6h0M468.0 82.5h0M471.7 74.7h0M462.3 77.0h0M464.4 79.1h0M472.8 77.6h0M472.1 84.2h0M460.1 80.7h0M477.8 77.7h0M476.0 82.7h0M463.7 75.0h0M474.4 78.2h0M464.4 78.7h0M472.7 83.8h0M476.9 82.3h0M460.5 77.6h0M464.1 75.4h0M467.1 74.8h0M471.1 78.1h0M462.1 81.3h0M475.2 82.2h0M476.0 76.7h0M462.5 81.5h0M471.1 79.7h0M457.8 76.6h0M459.8 80.2h0M473.1 82.8h0M473.2 75.4h0M468.8 74.2h0M460.8 75.3h0M477.0 82.6h0" stroke="#C6980F" stroke-width="1.70" stroke-linecap="round" fill="none"/>
<path d="M442.7 95.7h0M437.7 95.5h0M445.6 95.6h0M437.7 94.6h0M445.0 95.2h0M439.5 88.8h0M439.7 96.3h0M448.4 87.1h0M444.2 88.5h0M449.5 94.6h0M448.1 87.7h0M442.4 91.9h0M447.5 97.3h0M447.5 91.9h0M449.6 91.5h0M443.3 89.5h0M443.0 88.0h0M441.5 95.0h0M451.6 91.1h0M445.1 94.9h0M449.8 90.2h0M446.8 93.7h0M442.1 86.5h0M446.1 90.4h0M451.7 93.8h0M449.4 92.6h0M446.6 87.6h0M437.6 94.4h0M448.8 93.9h0M440.5 91.5h0M449.6 93.5h0M447.0 92.1h0M437.3 90.6h0M447.8 96.6h0M437.4 91.8h0M442.0 87.8h0M438.6 88.0h0M443.4 94.4h0M452.6 92.5h0M438.3 95.8h0M438.0 89.0h0M445.3 92.0h0M448.0 90.4h0M437.6 91.4h0M437.3 92.4h0M438.0 92.2h0M448.5 93.1h0M440.5 90.8h0M445.3 90.1h0M446.0 86.2h0M443.0 91.8h0M449.3 95.8h0M449.0 90.1h0M448.6 87.7h0M439.4 87.4h0" stroke="#C6980F" stroke-width="1.70" stroke-linecap="round" fill="none"/>
<path d="M460.8 116.1h0M477.9 113.4h0M463.5 118.7h0M469.3 116.9h0M465.7 113.2h0M470.4 103.7h0M458.0 117.9h0M478.2 114.7h0M463.3 109.0h0M464.1 102.5h0M452.9 106.0h0M461.1 119.1h0M466.8 119.6h0M476.4 115.5h0M463.5 105.2h0M466.9 106.7h0M468.9 107.3h0M462.7 111.8h0M478.0 111.4h0M466.8 104.1h0M473.3 110.5h0M472.5 120.2h0M468.6 115.1h0M466.4 102.7h0M463.9 101.2h0M461.6 102.8h0M463.2 101.1h0M468.1 104.8h0M456.9 113.9h0M471.2 112.6h0M464.6 109.1h0M465.7 107.2h0M474.9 117.7h0M473.4 110.7h0M465.0 118.4h0M454.1 104.8h0M477.3 108.8h0M464.9 102.1h0M472.3 111.3h0M451.9 104.0h0M454.7 105.7h0M473.3 107.2h0M457.5 106.6h0M470.0 119.4h0M478.6 117.6h0M452.2 110.5h0M457.0 102.5h0M457.7 116.0h0M467.2 102.7h0M458.9 101.2h0M477.2 116.5h0M458.0 104.0h0M468.7 112.9h0M465.5 116.9h0M465.9 106.7h0M469.8 120.8h0M452.2 110.5h0M463.1 118.3h0M469.9 121.0h0M467.3 112.9h0M478.6 117.5h0M460.4 102.1h0M469.6 120.8h0M468.1 116.3h0M467.8 104.7h0M463.6 102.5h0M466.7 105.6h0M468.4 116.3h0M474.1 109.4h0M463.6 109.3h0M460.9 117.0h0M476.0 106.4h0M471.1 104.5h0M472.9 107.1h0M459.9 116.6h0M476.8 109.4h0M458.6 108.1h0M465.8 111.4h0M459.1 101.1h0M468.8 115.6h0M470.6 108.5h0M466.6 111.3h0M457.2 111.4h0M452.7 114.3h0M465.3 111.7h0M474.8 114.0h0M477.6 114.9h0M474.2 106.8h0M477.0 117.3h0M478.4 116.5h0M461.9 111.4h0M466.1 112.3h0M471.3 107.3h0M468.1 116.1h0M461.6 114.8h0M476.6 107.9h0M465.8 110.5h0M474.7 105.8h0M458.9 108.5h0M469.4 103.2h0M471.6 108.9h0M451.5 108.3h0M467.1 101.8h0M463.8 100.4h0M457.8 107.2h0M469.3 103.6h0M464.6 105.8h0M466.9 115.0h0M465.5 116.4h0M468.5 101.6h0M469.5 110.5h0M472.4 120.5h0M460.8 118.6h0M457.3 114.2h0M463.5 109.8h0M465.0 108.0h0M457.3 115.1h0M468.7 101.0h0M458.8 106.3h0M467.3 108.0h0M454.4 104.8h0M455.6 109.6h0M458.8 114.7h0M459.6 102.7h0M463.1 107.8h0M471.5 121.2h0M469.1 102.7h0M468.2 119.3h0M470.7 116.6h0M452.7 113.5h0M473.4 106.9h0M461.2 107.1h0M461.2 104.7h0M463.4 106.7h0M471.4 121.5h0M464.1 118.7h0M462.2 109.1h0M472.3 115.4h0M474.4 120.1h0M478.0 111.5h0M465.8 107.6h0M473.1 114.7h0M470.0 110.6h0M472.5 110.3h0M466.8 117.6h0M464.9 110.3h0M464.6 116.1h0M471.8 107.2h0M472.9 108.1h0M470.0 108.1h0M473.0 108.2h0M460.8 109.4h0M466.3 120.3h0M471.4 115.7h0M472.3 109.1h0M475.8 115.7h0M456.9 110.8h0M465.4 107.8h0M464.7 109.9h0M461.6 113.0h0M466.8 116.1h0M459.3 114.8h0M461.3 117.1h0M464.8 114.0h0M465.7 114.1h0M474.5 119.5h0M461.9 115.8h0M474.5 107.8h0M462.7 107.9h0M460.5 108.9h0M479.0 117.3h0M466.7 114.0h0M459.3 116.7h0M475.7 108.2h0M465.0 104.6h0M469.1 109.7h0M469.0 103.9h0M467.2 103.9h0M466.2 107.0h0M458.2 116.1h0M461.0 116.2h0M472.2 108.1h0M466.5 112.6h0M470.3 111.9h0M478.4 113.4h0M476.3 113.0h0M462.5 112.5h0M474.9 106.6h0M457.9 100.6h0M453.8 105.7h0M455.6 106.2h0M461.4 113.9h0M460.8 114.6h0M467.3 115.8h0M477.2 115.0h0M455.3 108.8h0M460.8 119.2h0M476.7 116.4h0M468.9 112.7h0M465.3 114.3h0M464.9 108.6h0M474.6 106.4h0M462.3 114.8h0M463.1 108.7h0M456.7 107.6h0M464.4 106.1h0M467.3 116.9h0M454.0 110.5h0M456.1 114.1h0M470.1 104.7h0M457.3 106.5h0M475.7 117.3h0M462.0 109.9h0M456.5 110.0h0M462.0 104.1h0M474.9 106.4h0M464.7 100.9h0M470.5 111.1h0M473.6 115.7h0M472.0 105.6h0M457.9 113.0h0M471.3 110.7h0M461.1 101.5h0M466.6 116.9h0M470.3 110.2h0M473.4 108.9h0M459.9 111.6h0M467.5 109.7h0M474.1 115.4h0M474.1 105.4h0M465.2 111.8h0M473.9 109.7h0M466.6 116.1h0M471.9 113.5h0M460.3 103.4h0M468.9 104.6h0M455.7 111.7h0M463.7 110.1h0M458.0 101.8h0M462.2 103.5h0M464.0 103.4h0M471.7 119.1h0M460.0 101.4h0M469.3 116.5h0M464.5 119.5h0M454.9 115.7h0M475.0 109.4h0M465.4 118.5h0M461.6 105.4h0M451.6 104.3h0M459.6 107.6h0M478.6 115.1h0M463.1 102.1h0M461.2 106.2h0M467.7 106.1h0M474.6 109.3h0M461.5 115.1h0M471.5 114.3h0M472.5 104.1h0M466.3 102.1h0M475.0 109.0h0M463.0 103.8h0M462.9 113.2h0M475.4 119.5h0M460.0 100.3h0M469.7 115.0h0M469.2 117.5h0M473.9 113.6h0M477.8 114.5h0M453.4 103.5h0M469.1 106.5h0M464.6 110.9h0M476.2 115.8h0M467.0 120.7h0" stroke="#E9776E" stroke-width="1.70" stroke-linecap="round" fill="none"/>
<path d="M477.4 135.5h0M471.7 119.9h0M466.2 133.3h0M464.5 133.2h0M468.3 127.5h0M476.3 137.5h0M475.1 128.8h0M471.5 140.7h0M478.1 132.4h0M463.3 121.5h0M473.6 123.3h0M475.2 134.1h0M470.5 137.2h0M478.3 134.3h0M463.9 127.2h0M474.3 127.0h0M465.3 129.0h0M464.9 129.4h0M464.2 135.0h0M464.3 132.9h0M473.3 123.3h0M473.0 131.1h0M472.9 123.0h0M470.5 137.4h0M472.9 124.3h0M468.1 138.4h0M471.1 128.4h0M476.7 129.0h0M467.4 128.9h0M463.4 120.7h0M476.4 135.7h0M465.8 126.0h0M463.8 126.0h0M471.3 135.6h0M471.0 137.7h0M463.2 121.9h0M473.8 121.8h0M469.3 131.2h0M472.5 121.6h0M468.2 127.1h0M474.9 136.2h0M474.2 122.9h0M470.3 139.2h0M465.4 126.7h0M470.3 130.6h0M472.6 125.9h0M475.2 134.7h0M469.5 122.3h0M475.4 134.4h0M472.0 135.4h0M474.1 136.8h0M472.3 140.4h0M477.4 136.2h0M468.7 129.1h0M472.4 136.7h0M469.5 138.8h0M466.2 130.5h0M465.0 122.7h0M467.4 120.0h0M472.1 132.6h0M469.2 136.6h0M471.7 134.0h0M463.9 126.2h0M462.9 122.5h0M472.5 127.3h0M473.8 138.2h0M478.7 127.7h0M467.2 126.2h0M471.3 137.6h0M473.8 132.0h0M469.4 127.4h0M469.3 134.8h0M470.0 134.7h0M469.3 123.9h0M472.6 120.1h0M477.3 135.5h0M466.8 127.9h0M469.5 134.6h0M467.3 126.8h0M471.0 124.2h0M469.7 135.5h0M471.0 120.2h0M468.4 131.5h0M466.4 127.5h0M471.9 127.0h0M464.1 131.2h0M471.7 128.0h0M473.0 138.5h0M467.9 120.3h0M472.6 135.6h0M469.1 126.1h0M474.1 131.5h0M468.3 134.2h0M477.7 129.3h0M473.3 126.2h0M474.2 125.5h0M465.7 124.9h0M474.7 134.7h0M477.8 128.1h0M466.8 134.8h0M470.7 128.8h0M463.0 124.0h0M475.1 129.1h0M477.3 136.8h0M471.5 140.7h0M471.5 120.1h0M472.3 124.9h0M468.9 129.2h0M467.4 122.7h0M473.7 132.8h0M464.3 123.9h0M467.2 127.0h0M470.8 138.9h0M464.2 131.6h0M473.0 124.6h0M468.5 128.8h0M477.4 136.1h0M470.6 120.5h0M468.5 137.0h0M469.8 127.6h0M473.2 119.8h0M473.4 134.1h0M464.4 128.2h0M476.9 124.7h0" stroke="#E9776E" stroke-width="1.70" stroke-linecap="round" fill="none"/>
<path d="M444.9 134.5h0M445.6 135.5h0M439.7 146.8h0M439.5 137.1h0M440.3 145.6h0M440.4 141.6h0M435.0 138.7h0M437.6 146.6h0M440.4 147.4h0M446.0 134.4h0M445.5 146.9h0M449.5 144.7h0M446.0 140.3h0M434.0 144.8h0M448.0 140.9h0M438.6 143.4h0M444.9 134.0h0M449.1 145.0h0M449.6 135.4h0M448.9 136.4h0M444.1 128.2h0M455.0 144.8h0M446.7 137.1h0M441.3 132.5h0M447.1 134.7h0M447.1 146.2h0M441.6 129.6h0M443.2 136.6h0M431.4 134.0h0M443.3 139.4h0M436.3 140.9h0M448.0 148.1h0M432.7 133.5h0M433.0 133.3h0M452.7 133.0h0M451.0 144.5h0M446.5 145.3h0M447.8 140.0h0M442.0 144.6h0M445.0 134.7h0M444.0 137.2h0M435.3 141.5h0M453.5 141.1h0M430.4 135.8h0M451.6 130.0h0M444.2 141.7h0M445.1 134.2h0M434.8 139.9h0M444.8 142.5h0M451.0 145.7h0M435.3 142.5h0M440.7 142.0h0M449.6 135.9h0M456.6 136.5h0M443.2 142.4h0M434.3 146.2h0M439.4 146.0h0M446.6 132.3h0M442.4 131.4h0M450.4 142.8h0M449.3 130.0h0M431.4 139.6h0M432.4 142.4h0M445.4 147.0h0M453.0 141.1h0M453.3 138.0h0M438.2 128.5h0M449.8 141.3h0M447.8 138.1h0M442.8 146.7h0M440.6 130.2h0M442.3 130.5h0M443.9 137.6h0M440.9 143.9h0M437.1 147.8h0M436.0 133.2h0M453.3 132.2h0M450.4 133.0h0M441.6 137.2h0M437.0 144.7h0M442.4 142.9h0M445.4 147.6h0M437.4 135.7h0M431.9 135.5h0M451.1 133.9h0M435.3 138.6h0M455.2 140.9h0M433.2 136.3h0M436.5 144.4h0M441.8 136.6h0M454.7 133.5h0M442.7 148.0h0M438.7 138.6h0M448.3 134.3h0M447.7 136.1h0M453.4 139.0h0M450.4 139.4h0M449.6 135.5h0M434.2 134.9h0M451.6 138.3h0M443.5 142.1h0M450.2 128.1h0M454.4 138.0h0M441.5 134.5h0M442.2 143.5h0M443.0 142.5h0M444.5 142.9h0M443.9 139.5h0M441.9 147.0h0M445.7 129.4h0M445.9 146.9h0M436.9 143.6h0M437.2 142.3h0M438.0 139.8h0M453.6 138.3h0M436.9 133.7h0M445.6 142.9h0M436.6 140.7h0M441.4 143.4h0M450.5 135.0h0M446.6 130.3h0M447.2 140.9h0M436.7 141.3h0M445.4 146.8h0M448.8 131.7h0M450.6 140.2h0M440.7 141.9h0M451.4 141.6h0M455.6 136.4h0M439.7 131.2h0M436.9 137.6h0M434.1 132.2h0M450.6 127.6h0M447.2 135.8h0M450.0 132.7h0M443.5 131.7h0M440.4 133.5h0M456.3 135.0h0M445.2 130.2h0M441.6 145.8h0M453.2 144.5h0M455.7 132.1h0M448.3 138.8h0M440.4 142.3h0M436.3 140.1h0M441.8 130.1h0M451.8 131.1h0M452.5 143.3h0M442.3 136.8h0M435.8 130.1h0M449.6 135.1h0M445.9 135.0h0M437.6 130.6h0M451.4 136.4h0M434.4 145.7h0M434.4 132.1h0M434.5 139.1h0M456.0 142.1h0M453.4 136.1h0M442.3 129.2h0M437.4 145.7h0M438.1 146.3h0M434.0 136.2h0M453.4 133.8h0M445.0 138.9h0M436.0 132.7h0M447.8 130.9h0M452.1 145.7h0M441.9 130.0h0" stroke="#E9776E" stroke-width="1.70" stroke-linecap="round" fill="none"/>
<path d="M464.1 147.7h0M456.8 155.1h0M463.9 147.3h0M459.0 155.3h0M469.5 148.7h0M464.3 146.4h0M462.4 152.8h0M459.9 153.2h0M463.6 143.3h0M457.0 149.8h0M457.5 152.2h0M464.4 153.6h0M469.0 153.3h0M467.2 144.6h0M464.4 157.1h0M463.7 150.2h0M457.7 151.0h0M466.3 156.6h0M469.1 151.7h0M469.9 149.1h0M455.4 150.1h0M463.6 156.2h0M466.4 145.9h0M468.5 152.5h0M457.3 151.7h0M467.2 146.5h0M457.5 153.0h0M465.7 153.2h0M455.9 152.0h0M460.6 149.5h0M461.3 158.1h0M459.6 154.8h0M464.0 147.5h0M469.4 147.0h0M459.8 145.9h0M466.1 154.8h0M460.8 144.6h0M464.4 148.5h0M463.7 154.1h0M467.9 157.9h0M456.5 146.5h0M461.8 157.2h0M460.0 159.4h0M456.0 153.2h0M469.4 148.7h0M459.4 156.2h0M461.3 156.1h0M464.1 158.7h0M461.9 150.4h0M457.8 147.4h0M468.8 147.1h0M464.1 147.9h0M455.2 144.6h0M469.8 150.3h0M460.9 158.6h0M467.9 154.5h0M459.6 144.4h0M458.0 147.2h0M458.1 152.6h0M460.1 146.3h0M468.8 149.0h0M463.8 143.0h0M463.9 143.0h0M462.5 153.5h0M463.6 146.3h0M470.3 149.0h0M463.6 149.8h0M467.4 145.5h0M458.7 150.5h0M461.2 158.0h0M456.6 151.7h0M464.5 157.4h0M460.3 153.3h0M464.0 148.5h0M465.3 155.4h0M465.8 154.5h0M461.2 155.2h0M460.6 146.6h0M456.7 152.3h0M457.8 147.5h0M459.8 149.1h0M461.7 159.7h0M463.4 152.2h0M461.4 152.2h0M467.9 151.8h0" stroke="#E9776E" stroke-width="1.70" stroke-linecap="round" fill="none"/>
<path d="M455.8 124.4h0M458.8 110.8h0M468.0 130.2h0M461.3 128.9h0M469.9 143.3h0M436.2 135.7h0M443.4 147.1h0M448.7 117.1h0M476.7 107.1h0M450.7 129.1h0M464.2 149.2h0M478.9 122.5h0M461.2 155.6h0M474.7 137.9h0M450.1 108.3h0M461.0 107.5h0M455.3 151.2h0M450.8 139.2h0M467.0 143.2h0M451.8 123.6h0M461.5 130.6h0M476.6 134.6h0M459.4 142.5h0M454.3 132.5h0M463.3 138.7h0M480.1 121.7h0M470.9 136.0h0M450.9 128.7h0M451.8 118.9h0M454.2 137.2h0M435.2 142.1h0M465.7 115.4h0M453.7 143.0h0M450.7 138.0h0M460.4 106.8h0M432.8 133.3h0M476.4 144.8h0M452.4 119.1h0M436.7 141.3h0M468.4 126.8h0M465.5 148.5h0M450.2 155.2h0M449.6 105.6h0M465.4 109.2h0M444.4 126.9h0M454.2 105.7h0M476.3 134.7h0M458.7 157.8h0M466.1 153.6h0M473.9 142.4h0M459.2 128.1h0M473.5 142.5h0M445.1 131.2h0M473.8 112.5h0M461.6 117.6h0M477.6 126.2h0M455.5 122.7h0M475.6 132.3h0M463.2 156.4h0M451.7 157.0h0M470.0 120.5h0M448.1 143.9h0M471.2 133.2h0M467.5 143.7h0M452.2 134.1h0M447.3 124.7h0M463.1 118.1h0M469.3 157.8h0M469.1 115.4h0M454.5 152.1h0M470.5 117.3h0M454.3 138.1h0M467.2 142.5h0M452.5 137.0h0M456.5 124.1h0M434.4 146.8h0M468.8 129.2h0M468.6 151.8h0M464.7 150.6h0M477.3 130.2h0M469.1 146.6h0M435.0 137.9h0M434.6 146.3h0M447.1 125.8h0M443.8 150.7h0M462.2 121.4h0M467.2 114.9h0M470.3 138.9h0M468.5 139.6h0M453.3 138.1h0M458.5 120.6h0M445.4 150.1h0M464.5 133.2h0M449.9 144.7h0M462.6 158.4h0M467.6 126.3h0M469.2 128.8h0M449.9 107.2h0M454.9 155.8h0M444.0 146.9h0M468.1 142.1h0M460.0 118.5h0M463.9 137.8h0M478.5 133.8h0M461.4 123.8h0M462.7 113.0h0M453.3 150.3h0M440.9 131.3h0M442.0 150.3h0M460.0 126.8h0M449.4 116.3h0M440.6 143.9h0M449.4 130.2h0M479.6 126.3h0M466.2 130.6h0M450.0 117.2h0M437.7 131.3h0M462.2 110.3h0M454.0 114.2h0M460.2 124.0h0M463.5 149.2h0M450.4 126.2h0M461.2 150.6h0M475.9 125.2h0M457.1 142.9h0M446.6 125.3h0M466.3 132.0h0M452.0 136.5h0M435.9 131.2h0M456.4 144.6h0M456.4 132.9h0M463.7 128.4h0M479.3 116.5h0M430.5 136.9h0M464.9 126.2h0M450.1 123.9h0M442.3 149.7h0M473.3 120.2h0M458.4 130.6h0M436.7 146.4h0M470.7 110.4h0M464.5 114.3h0M465.4 107.3h0M455.9 130.1h0M441.4 144.8h0M449.4 130.9h0M449.1 136.4h0M470.7 143.2h0M446.6 151.9h0M462.3 106.0h0M449.0 144.3h0M457.4 158.7h0M469.7 152.3h0M479.2 123.9h0M470.1 109.3h0M455.1 129.6h0M433.7 140.8h0M469.6 117.0h0M442.4 148.5h0M456.6 105.3h0M452.7 155.1h0M470.6 126.3h0M463.5 105.8h0M461.9 112.3h0M444.4 137.5h0M463.0 120.6h0M455.9 123.3h0M459.1 110.5h0M476.3 116.2h0M457.9 115.0h0M452.4 119.4h0M462.2 149.0h0M452.9 135.8h0M447.7 120.8h0M432.9 147.2h0M446.3 138.5h0M443.4 145.5h0M455.0 122.0h0M463.6 106.3h0M476.7 116.1h0M478.3 129.1h0M459.5 138.9h0M434.6 133.3h0M467.6 149.6h0M466.9 143.3h0M436.5 127.7h0M455.6 106.5h0M468.5 110.1h0M458.4 119.5h0M461.2 146.3h0M460.5 136.6h0M473.8 107.8h0M449.1 116.8h0M460.0 126.9h0M476.2 117.6h0M466.2 128.9h0M448.8 146.4h0M437.5 145.7h0M441.5 150.5h0M471.1 121.0h0M470.2 137.5h0M442.5 143.7h0M450.9 112.4h0M472.7 145.4h0M442.3 128.7h0M464.3 125.5h0M443.0 134.5h0M477.7 109.7h0M442.7 132.0h0M430.5 141.1h0M436.9 132.9h0M448.5 155.8h0" stroke="#E9776E" stroke-width="1.70" stroke-linecap="round" fill="none"/>
<path d="M506.5 123.0h0M506.4 134.3h0M494.0 118.7h0M493.1 145.9h0M494.6 152.7h0M481.6 144.8h0M496.7 151.7h0M488.1 131.9h0M503.6 122.2h0M489.3 150.0h0M498.3 133.2h0M477.8 146.1h0M490.7 121.3h0M489.8 116.6h0M482.5 130.0h0M488.3 117.1h0M482.8 123.1h0M505.4 130.4h0M482.9 114.9h0M494.3 126.6h0M493.5 115.2h0M488.8 133.9h0M480.0 133.7h0M504.5 137.9h0M481.4 139.9h0M479.9 116.8h0M477.6 135.1h0M483.0 123.2h0M481.2 152.3h0M482.0 141.9h0M503.4 131.3h0M496.1 125.8h0M503.8 142.4h0M479.8 143.3h0M481.8 132.8h0M483.2 132.9h0M498.5 144.7h0M487.8 112.7h0M491.8 153.2h0M495.1 139.3h0M502.1 140.2h0M481.8 122.6h0M500.3 137.5h0M488.0 118.2h0M498.6 115.3h0M493.3 123.1h0M490.3 140.9h0M497.8 139.2h0M479.2 152.2h0M497.1 140.6h0M478.0 143.9h0M504.7 128.3h0M484.1 130.9h0M481.5 119.6h0M484.0 145.2h0M485.4 152.0h0M490.6 119.2h0M490.7 116.7h0M490.8 128.0h0M478.5 120.6h0M490.9 151.3h0M500.8 136.8h0M493.8 143.9h0M483.1 152.5h0M501.7 131.0h0M504.7 123.6h0M489.9 137.3h0M498.8 152.0h0M504.5 140.0h0M495.2 119.2h0" stroke="#E9776E" stroke-width="1.50" stroke-linecap="round" fill="none"/>
<path d="M408.4 123.1h0M403.4 114.4h0M399.2 118.4h0M402.7 120.5h0M397.8 119.6h0M404.0 119.5h0M411.1 122.3h0M413.7 116.1h0M411.9 115.7h0M397.9 119.2h0M413.8 114.7h0M415.1 120.2h0M411.4 118.7h0M418.0 117.8h0M403.7 114.9h0M414.8 120.8h0M403.5 111.9h0M417.4 121.1h0M418.7 119.1h0M412.7 113.7h0M417.2 118.6h0M401.2 120.9h0M397.8 118.4h0M399.5 120.8h0M406.9 120.8h0M417.7 123.0h0M400.7 115.9h0M414.9 115.5h0M411.0 114.6h0M413.3 114.9h0M406.2 120.1h0M400.3 114.1h0M414.3 119.5h0M413.1 121.1h0M401.7 117.4h0M410.4 114.6h0M406.6 119.6h0M401.4 119.4h0M405.6 112.1h0M398.7 119.3h0M415.6 119.6h0M416.6 119.4h0M414.6 121.5h0M410.2 117.8h0M400.0 114.4h0M405.4 115.0h0M409.5 121.3h0M410.1 113.9h0M416.6 121.8h0" stroke="#3A9DDE" stroke-width="1.60" stroke-linecap="round" fill="none"/>
<path d="M414.5 133.9h0M414.5 134.7h0M416.1 134.1h0M412.9 132.0h0M412.9 134.6h0M413.5 133.7h0M415.0 134.2h0M419.0 134.4h0M417.7 133.4h0M419.8 131.1h0M413.8 133.8h0M417.9 133.0h0M416.8 133.2h0M413.6 134.2h0M414.1 133.5h0M417.4 133.9h0M414.7 133.2h0M415.3 132.1h0M418.9 133.8h0M418.0 133.9h0" stroke="#E9776E" stroke-width="1.60" stroke-linecap="round" fill="none"/>
<path d="M393.0 133.4h0M394.5 132.3h0M392.7 134.4h0M394.7 131.1h0M390.4 134.4h0M394.4 131.3h0M392.2 134.7h0M390.4 135.6h0M394.1 131.1h0M395.7 131.4h0M390.9 134.8h0M395.5 130.6h0M391.0 134.7h0M395.0 132.1h0M390.7 134.5h0M393.6 132.3h0M390.6 134.5h0M392.7 133.4h0M390.9 133.9h0M394.0 131.7h0" stroke="#DE5FB8" stroke-width="1.60" stroke-linecap="round" fill="none"/>
<path d="M405.3 144.9h0M404.9 148.9h0M404.7 154.3h0M403.9 144.3h0M404.3 146.6h0M404.0 150.9h0M405.0 144.3h0M405.1 151.9h0M404.9 151.7h0M404.6 146.9h0M406.2 150.9h0M405.8 145.5h0M405.0 152.9h0M406.0 153.6h0M404.2 145.9h0M404.6 147.4h0M404.5 146.9h0M406.0 147.7h0M406.4 152.4h0M405.2 144.0h0M405.5 152.5h0M404.7 151.0h0M403.4 144.4h0M405.7 150.5h0M405.3 152.7h0M405.1 146.2h0M403.9 144.2h0M404.9 143.8h0M405.4 148.0h0M403.6 152.1h0M406.3 148.7h0M405.3 147.5h0M405.2 151.0h0M403.3 143.7h0M405.6 145.9h0M405.0 146.7h0M406.0 153.5h0M404.6 145.4h0M405.0 148.9h0M404.5 146.7h0" stroke="#A583CF" stroke-width="1.90" stroke-linecap="round" fill="none"/>
<path d="M417.2 162.1h0M416.8 162.5h0M417.9 160.9h0M417.0 161.8h0M417.5 161.7h0M417.1 162.4h0M416.8 162.1h0M417.5 160.7h0" stroke="#22A85A" stroke-width="1.50" stroke-linecap="round" fill="none"/>
<path d="M505.2 157.2 C504.8 156.0 507.7 150.1 509.7 148.4 C511.6 146.7 515.6 146.2 517.0 146.9 C518.5 147.7 519.2 151.4 518.5 152.8 C517.8 154.3 514.8 155.0 512.6 155.8 C510.4 156.5 505.7 158.5 505.2 157.2Z" fill="#22A85A"/><path d="M506.0 157.2h0M504.6 157.4h0M518.3 149.9h0M518.5 153.9h0M512.1 147.5h0M507.7 156.5h0M511.4 146.5h0M517.6 148.3h0M511.0 154.4h0M512.7 148.7h0M513.7 156.1h0M517.5 152.1h0M512.6 156.2h0M509.2 157.9h0M515.2 148.2h0M518.7 150.3h0M513.0 155.5h0M511.4 157.2h0M505.5 155.9h0M517.7 151.7h0M506.7 152.6h0M517.9 151.9h0M510.9 157.0h0M517.2 146.8h0M513.4 154.6h0M519.9 152.8h0M511.4 156.6h0M512.6 147.4h0M515.8 155.6h0M518.8 147.5h0" stroke="#22A85A" stroke-width="1.40" stroke-linecap="round" fill="none"/><path d="M514.0 146.2h0M510.1 156.2h0M516.1 145.6h0M511.2 148.6h0M515.5 146.4h0M516.8 147.2h0M513.3 154.7h0M508.6 156.3h0M518.7 149.6h0M510.6 156.1h0M518.3 151.6h0M510.1 156.1h0M506.6 153.9h0" stroke="#fff" stroke-width="1.50" stroke-linecap="round" fill="none"/><path d="M511.4 154.4h0M513.9 148.4h0M507.2 158.1h0M512.4 144.7h0M506.0 152.2h0M507.6 154.4h0M513.1 147.9h0M506.2 151.3h0M515.0 155.2h0M515.4 154.3h0M517.5 152.3h0M520.5 148.3h0M508.6 155.2h0" stroke="#22A85A" stroke-width="1.30" stroke-linecap="round" fill="none"/>
<path d="M436.0 172.0 C436.5 170.8 438.4 169.0 441.9 169.0 C445.3 169.0 452.2 171.7 456.6 172.0 C461.0 172.2 465.5 170.3 468.4 170.5 C471.4 170.8 473.8 172.0 474.3 173.5 C474.8 174.9 473.8 177.9 471.4 179.4 C468.9 180.8 463.0 182.1 459.6 182.3 C456.1 182.5 454.2 181.8 450.7 180.8 C447.3 179.8 441.4 177.9 438.9 176.4 C436.5 174.9 435.5 173.2 436.0 172.0Z" fill="#74AC2A"/><path d="M436.4 173.7h0M437.7 172.8h0M437.5 175.4h0M436.1 173.9h0M437.8 172.6h0M457.1 177.0h0M458.7 176.2h0M458.6 179.2h0M459.7 173.1h0M456.8 176.7h0M459.3 177.3h0M461.4 175.9h0M459.7 177.6h0M457.0 179.1h0M463.2 177.4h0M462.7 176.6h0M461.8 175.1h0M457.1 173.9h0M458.1 176.7h0M457.9 176.0h0M461.5 175.6h0M441.5 173.2h0M443.5 173.8h0M442.9 174.8h0M445.9 174.8h0M444.2 175.6h0M474.5 173.8h0M469.4 170.3h0M470.8 170.0h0M471.5 172.3h0M443.4 173.4h0M443.9 175.4h0M444.9 174.7h0M439.9 174.7h0M444.5 177.7h0M443.9 175.7h0M444.7 175.3h0M442.5 176.1h0M445.5 174.7h0M444.3 174.4h0" stroke="#fff" stroke-width="1.10" stroke-linecap="round" fill="none"/><path d="M450.4 178.6h0M453.5 180.9h0M439.9 171.6h0M441.1 172.6h0M441.3 178.5h0M439.0 179.4h0M464.9 180.5h0M472.8 175.0h0M437.7 173.6h0M438.0 171.1h0M450.0 172.1h0M471.9 176.2h0M461.1 171.9h0M469.6 173.4h0M459.2 170.9h0M467.8 181.1h0M453.0 182.5h0M477.1 175.5h0M462.6 182.4h0M440.0 175.6h0M474.7 175.0h0M457.9 170.7h0M471.8 180.7h0M439.7 169.3h0M472.5 174.3h0M472.3 180.1h0M442.0 177.5h0M450.3 171.7h0M438.9 177.1h0M441.6 168.5h0M470.3 171.1h0M452.6 170.2h0M464.9 182.2h0M454.7 182.5h0M447.3 178.7h0M473.5 171.9h0M475.2 174.7h0M456.9 180.9h0M458.7 183.9h0M466.6 170.9h0M473.3 175.3h0M440.8 176.3h0M436.4 174.1h0M473.5 177.7h0M436.6 174.8h0M467.2 179.1h0M470.9 178.9h0M473.3 174.0h0M472.7 174.1h0M475.0 174.4h0M437.7 171.4h0M444.2 170.2h0M439.5 173.3h0M440.4 178.0h0M454.0 181.4h0M438.6 174.6h0M436.2 171.4h0M439.9 170.1h0M469.9 170.9h0M436.6 172.3h0M458.4 182.5h0M442.4 169.7h0M457.3 182.2h0M455.7 182.5h0M435.1 171.3h0M440.0 171.5h0M436.4 171.5h0M454.8 173.9h0" stroke="#74AC2A" stroke-width="1.40" stroke-linecap="round" fill="none"/><path d="M453.5 181.2h0M435.9 172.0h0M453.3 182.0h0M449.8 180.2h0M440.4 176.5h0M472.0 172.0h0M445.9 169.6h0M437.9 175.5h0M438.0 170.6h0M473.4 173.2h0M471.3 171.2h0M449.8 170.7h0M449.2 179.9h0M452.0 181.2h0M439.7 178.5h0M473.9 174.1h0M437.6 173.9h0M439.7 169.8h0M473.3 172.4h0M470.1 179.4h0M471.8 176.7h0M438.4 173.5h0M454.4 181.9h0M444.3 179.1h0M470.5 170.8h0M465.1 171.2h0M442.4 170.2h0M438.3 176.7h0M450.2 180.6h0M470.2 171.2h0M460.8 172.0h0M443.5 169.5h0M437.6 170.1h0M463.5 182.5h0M466.5 171.7h0M458.5 172.1h0M466.0 181.0h0M437.0 173.2h0M464.5 180.6h0M438.3 177.2h0M442.8 177.7h0M472.8 177.5h0M473.9 178.2h0M473.9 173.8h0M457.0 171.5h0M443.7 169.0h0M471.7 178.5h0M438.5 171.9h0M445.1 169.9h0M472.7 175.8h0M464.9 180.4h0" stroke="#fff" stroke-width="1.50" stroke-linecap="round" fill="none"/><path d="M453.7 179.1h0M474.4 178.3h0M471.3 177.9h0M455.1 169.8h0M472.0 176.5h0M448.9 180.3h0M437.3 176.8h0M443.4 171.3h0M437.3 175.7h0M457.3 172.9h0M438.9 175.2h0M477.2 172.4h0M472.3 176.4h0M454.3 183.0h0M444.0 171.3h0M473.7 172.3h0M470.2 172.3h0M455.2 181.4h0M463.4 182.1h0M468.4 170.2h0M458.8 180.9h0M474.5 179.8h0M468.7 172.4h0M457.9 180.4h0M457.5 171.2h0M461.7 170.1h0M444.1 177.2h0M439.0 175.4h0M461.3 171.4h0M449.0 178.9h0M471.8 170.8h0M450.3 179.7h0M441.3 179.2h0M461.7 180.5h0M458.7 175.2h0M439.6 176.8h0M460.6 184.2h0M463.5 173.8h0M466.4 169.3h0M465.8 179.7h0M466.4 173.4h0M455.1 170.3h0M435.2 172.8h0M446.0 180.3h0M469.8 169.4h0M441.2 170.7h0M433.1 168.7h0M437.5 169.8h0M472.7 177.9h0M470.3 173.8h0M475.0 174.2h0" stroke="#74AC2A" stroke-width="1.30" stroke-linecap="round" fill="none"/>
<path d="M264.5 338.9 C266.7 335.3 269.9 329.1 276.3 325.7 C282.6 322.2 296.6 318.1 302.8 318.3 C308.9 318.6 311.4 322.2 313.1 327.2 C314.8 332.1 311.4 343.9 313.1 347.8 C314.8 351.7 319.5 349.7 323.4 350.7 C327.3 351.7 332.7 351.7 336.7 353.7 C340.6 355.6 344.3 358.6 347.0 362.5 C349.7 366.4 352.1 371.8 352.9 377.2 C353.6 382.7 354.4 390.0 351.4 394.9 C348.5 399.8 340.8 404.3 335.2 406.7 C329.5 409.2 322.9 409.7 317.5 409.7 C312.1 409.7 306.0 410.4 302.8 406.7 C299.6 403.0 300.8 390.6 298.4 387.6 C295.9 384.5 290.7 390.4 288.0 388.4 C285.3 386.5 285.2 378.6 282.2 375.8 C279.1 372.9 273.0 374.1 269.8 371.4 C266.6 368.7 264.1 363.5 263.0 359.6 C261.9 355.6 262.8 351.2 263.0 347.8 C263.2 344.3 262.3 342.6 264.5 338.9Z" fill="none" stroke="#666" stroke-width="0.7" stroke-dasharray="0.9 1.1"/>
<path d="M298.4 291.8 C300.1 289.3 304.5 287.1 308.7 285.9 C312.8 284.7 320.5 282.5 323.4 284.4 C326.4 286.4 326.6 293.0 326.4 297.7 C326.1 302.3 323.9 308.5 321.9 312.4 C320.0 316.3 317.3 320.5 314.6 321.3 C311.9 322.0 308.4 320.3 305.7 316.8 C303.0 313.4 299.6 304.8 298.4 300.6 C297.1 296.5 296.6 294.2 298.4 291.8Z" fill="none" stroke="#666" stroke-width="0.7" stroke-dasharray="0.9 1.1"/>
<path d="M299.8 293.3 C301.2 291.5 305.5 289.8 308.7 288.8 C311.9 287.9 316.8 286.4 319.0 287.4 C321.1 288.3 321.7 291.1 321.6 294.7 C321.6 298.4 319.7 305.3 318.7 309.5 C317.7 313.6 317.4 318.8 315.7 319.8 C314.1 320.8 310.6 317.6 308.7 315.4 C306.8 313.2 305.6 309.2 304.3 306.5 C302.9 303.8 301.2 301.4 300.4 299.2 C299.7 296.9 298.5 295.0 299.8 293.3Z" fill="#E4DF42"/><path d="M302.4 304.8h0M306.0 301.0h0M303.8 304.7h0M303.4 305.0h0M317.8 305.6h0M315.4 308.6h0M320.2 306.6h0M315.9 308.4h0M315.7 306.5h0M315.0 309.5h0M316.4 309.4h0M301.6 292.0h0M303.7 289.9h0M304.6 293.6h0M301.0 291.2h0M301.5 289.8h0M301.6 294.9h0M302.4 291.5h0M305.4 302.2h0M303.8 302.9h0M307.5 303.0h0M305.8 302.9h0M310.2 302.3h0M305.0 296.3h0M308.5 296.1h0M308.6 299.4h0M307.7 295.2h0M310.6 301.0h0M309.3 299.1h0M304.1 293.9h0M307.4 295.1h0M307.9 292.9h0" stroke="#fff" stroke-width="1.10" stroke-linecap="round" fill="none"/><path d="M302.5 287.6h0M300.0 297.7h0M318.5 307.2h0M300.2 295.6h0M300.5 295.6h0M320.3 296.8h0M311.5 288.2h0M300.5 295.1h0M310.4 288.7h0M304.9 290.6h0M304.9 305.8h0M309.8 317.1h0M306.6 292.0h0M320.6 291.4h0M305.9 305.7h0M316.7 286.3h0M307.8 311.2h0M300.1 295.2h0M302.2 290.8h0M314.5 288.2h0M320.7 292.2h0M322.6 290.8h0M320.4 311.4h0M298.8 298.7h0M316.1 320.6h0M307.1 314.5h0M303.1 298.4h0M303.7 291.5h0M300.1 295.9h0M301.2 301.2h0M307.5 311.1h0M317.7 319.0h0M313.3 316.3h0M307.1 309.0h0M319.7 300.0h0M319.2 302.6h0M309.5 316.6h0M307.8 314.9h0M318.2 302.8h0M319.1 288.1h0M310.9 315.1h0M307.0 310.6h0M305.2 313.8h0M299.0 303.7h0M310.0 314.6h0M306.0 308.3h0M313.5 288.0h0M302.1 302.7h0M317.4 309.1h0M320.9 302.3h0M315.5 317.8h0M317.0 311.6h0M301.9 304.5h0M299.7 299.2h0M304.1 287.5h0M317.5 310.2h0M302.4 290.3h0M308.5 316.9h0M305.5 290.0h0M305.4 314.3h0M321.3 291.3h0M300.1 294.2h0M309.3 315.7h0M307.0 313.7h0M318.8 296.5h0M307.6 290.5h0M305.9 293.1h0M321.9 293.2h0M316.1 319.7h0" stroke="#E4DF42" stroke-width="1.40" stroke-linecap="round" fill="none"/><path d="M304.6 307.6h0M320.0 308.5h0M304.2 308.8h0M303.5 293.5h0M302.5 301.1h0M306.4 289.1h0M303.8 306.4h0M319.4 287.6h0M300.0 296.1h0M310.1 317.8h0M300.4 298.5h0M311.8 317.5h0M304.7 310.2h0M300.1 300.3h0M320.6 302.0h0M319.3 287.5h0M308.1 312.7h0M298.6 297.5h0M321.7 295.1h0M311.8 317.9h0M320.6 301.0h0M302.1 293.1h0M306.8 290.3h0M303.6 302.7h0M317.2 287.6h0M319.6 308.9h0M320.4 289.9h0M306.2 313.2h0M304.9 290.0h0M300.9 299.7h0" stroke="#fff" stroke-width="1.50" stroke-linecap="round" fill="none"/><path d="M301.9 302.2h0M318.6 293.8h0M304.3 290.2h0M316.3 286.4h0M316.2 287.8h0M306.3 293.3h0M300.5 295.6h0M307.3 313.0h0M307.8 316.6h0M323.4 295.7h0M301.2 290.7h0M323.7 296.9h0M299.7 297.4h0M316.3 316.1h0M314.2 291.4h0M302.1 294.2h0M316.5 320.8h0M305.0 307.2h0M303.8 310.7h0M305.3 307.4h0M298.8 296.2h0M306.4 306.9h0M321.8 295.0h0M300.7 296.7h0M311.4 318.3h0M318.3 314.3h0M319.0 291.0h0M302.2 297.5h0M301.1 291.3h0M315.3 318.2h0" stroke="#E4DF42" stroke-width="1.30" stroke-linecap="round" fill="none"/>
<path d="M323.1 306.5 C326.5 305.5 334.2 307.0 339.3 308.0 C344.5 309.0 349.6 310.0 354.1 312.4 C358.5 314.9 362.9 318.3 365.8 322.7 C368.8 327.2 370.7 335.5 371.7 338.9 C372.8 342.4 372.7 341.4 372.0 343.4 C371.3 345.3 369.8 348.0 367.6 350.7 C365.4 353.4 361.2 357.4 358.8 359.6 C356.3 361.8 354.4 364.2 352.9 364.0 C351.4 363.7 351.9 360.3 349.9 358.1 C348.0 355.9 344.0 352.2 341.1 350.7 C338.1 349.3 335.2 350.2 332.2 349.3 C329.3 348.3 325.9 347.0 323.4 344.8 C321.0 342.6 318.5 339.9 317.5 336.0 C316.5 332.1 317.0 324.9 317.2 321.3 C317.5 317.6 318.0 316.3 319.0 313.9 C320.0 311.4 319.7 307.5 323.1 306.5Z" fill="#2E7CB9"/><path d="M329.9 325.1h0M329.6 327.4h0M329.3 323.3h0M330.1 323.4h0M329.6 325.3h0M330.0 322.9h0M331.8 323.6h0M328.2 324.2h0M322.3 312.5h0M320.8 312.6h0M317.9 311.8h0M320.2 314.5h0M335.3 326.9h0M333.9 324.4h0M332.2 328.1h0M332.6 325.6h0M335.3 329.1h0M334.0 329.1h0M333.6 326.5h0M334.3 328.4h0M334.1 330.4h0M365.3 339.6h0M364.9 339.0h0M366.3 342.7h0M364.1 342.3h0M369.0 340.7h0M345.9 333.9h0M343.6 339.9h0M340.1 335.1h0M347.2 336.1h0M344.6 331.8h0M337.0 333.1h0M343.4 334.8h0M343.6 334.6h0M344.9 336.0h0M346.2 333.9h0M351.3 349.8h0M351.0 348.2h0M350.2 347.7h0M350.7 350.3h0M351.6 347.5h0M353.4 348.3h0M350.0 347.1h0M353.9 346.4h0M353.8 346.7h0M321.3 336.3h0M320.4 335.8h0M320.7 338.8h0M324.8 339.1h0M321.6 337.0h0M321.2 337.2h0M320.4 336.9h0M353.0 361.6h0M353.7 363.7h0M355.7 359.5h0M354.5 362.7h0M351.2 362.3h0M353.5 360.3h0M352.7 350.1h0M353.5 357.6h0M351.6 355.0h0M349.7 358.4h0M351.7 352.4h0M350.3 352.4h0M347.4 352.6h0M351.9 353.6h0M350.3 352.4h0M351.1 353.2h0M329.4 346.1h0M330.9 347.3h0M328.2 345.2h0M332.1 344.2h0M326.0 341.0h0M333.6 345.9h0M331.3 348.0h0M331.2 349.1h0M328.7 346.9h0M331.5 348.0h0M332.4 333.5h0M332.3 330.0h0M333.8 330.3h0M336.2 335.8h0M335.6 332.6h0M335.3 334.8h0M333.6 331.6h0M331.7 332.0h0M342.4 311.5h0M339.3 312.0h0M342.3 312.7h0M336.8 307.6h0M338.6 309.9h0M338.9 310.5h0M342.5 312.1h0M341.5 310.0h0M328.4 322.7h0M323.5 325.0h0M323.0 324.8h0M353.4 345.1h0M356.2 343.5h0M350.2 345.0h0M354.4 345.8h0M353.5 348.6h0M349.9 345.2h0M353.5 345.6h0M348.4 327.6h0M346.5 331.0h0M346.4 331.9h0M327.3 323.9h0M322.2 326.6h0M327.0 329.2h0M325.1 329.4h0M325.5 339.9h0M323.6 341.3h0M324.6 341.4h0M326.3 340.3h0M328.5 342.5h0M323.1 343.1h0M351.5 359.6h0M355.6 356.8h0M352.0 361.2h0M350.5 353.9h0M353.9 363.7h0M350.5 359.1h0M328.2 318.8h0M333.2 321.1h0M328.1 320.6h0M358.7 345.4h0M361.7 344.6h0M358.9 344.2h0M361.9 345.3h0M361.2 350.3h0M345.3 334.4h0M343.9 331.7h0M342.0 333.4h0M342.3 328.8h0M343.8 332.7h0M345.1 330.1h0M342.4 332.6h0M343.1 332.4h0M340.6 332.9h0M370.1 343.9h0M373.0 341.2h0M369.6 344.5h0M368.0 341.5h0M370.2 346.6h0M371.4 344.5h0M367.4 343.9h0M371.6 340.3h0M369.3 342.3h0M337.0 317.0h0M337.5 320.2h0M338.7 315.2h0M337.7 316.5h0M336.8 320.7h0M337.4 315.7h0M335.0 316.1h0M347.6 354.5h0M355.2 356.7h0M347.3 353.7h0M354.7 359.0h0M351.5 356.7h0M351.6 360.8h0M347.7 356.0h0M350.1 354.0h0M349.1 356.6h0M356.8 330.0h0M363.4 327.2h0M357.4 327.0h0M361.0 330.8h0M359.8 328.4h0M324.5 318.2h0M323.9 317.8h0M319.9 316.2h0M324.3 316.5h0M346.1 342.5h0M347.9 342.5h0M349.2 341.0h0M347.3 343.9h0M348.1 340.8h0M347.5 345.7h0M344.2 325.6h0M343.0 328.8h0M342.7 327.7h0M344.5 327.4h0M348.2 323.3h0M346.1 326.8h0M343.7 325.8h0M342.9 321.9h0M345.8 326.5h0M345.0 324.7h0M349.3 317.5h0M340.8 332.6h0M339.4 333.1h0M344.9 330.1h0M347.8 329.6h0M327.4 326.0h0M332.9 326.5h0M333.6 326.4h0M330.0 329.7h0M332.0 328.7h0M333.5 326.7h0M333.6 328.9h0M333.0 326.7h0M331.3 328.9h0M333.6 328.0h0M326.3 309.6h0M325.2 303.8h0M325.2 309.6h0M321.4 309.2h0M325.0 308.7h0M325.7 310.6h0M324.2 308.4h0M334.9 342.1h0M334.1 344.4h0M333.0 340.8h0M335.4 342.7h0M334.5 340.7h0M336.8 343.0h0M335.9 343.2h0M333.9 344.2h0M336.7 345.7h0M317.7 334.3h0M317.4 332.6h0M313.1 333.8h0M316.4 334.7h0M314.3 334.3h0M322.2 332.3h0M312.3 329.6h0M321.6 343.4h0M320.5 340.6h0M323.9 343.6h0M326.2 341.1h0M319.4 339.2h0M319.9 342.2h0M321.8 340.7h0M320.3 340.7h0M349.2 342.0h0M349.2 341.9h0M350.2 341.6h0M347.1 343.8h0M345.9 342.5h0M351.1 340.1h0M347.7 340.5h0M333.8 323.8h0M332.1 325.1h0M330.4 321.7h0M330.7 320.7h0M331.9 322.3h0M332.0 322.9h0M333.1 323.2h0M329.4 322.3h0M366.3 339.4h0M363.5 342.7h0M368.4 343.2h0M371.8 342.3h0M368.9 340.5h0M368.8 339.8h0M355.4 327.7h0M353.5 330.8h0M356.1 328.1h0M353.6 329.1h0M350.5 331.7h0M356.2 338.7h0M359.8 337.3h0M357.4 336.7h0M357.1 339.3h0M357.1 336.6h0M357.8 339.8h0M356.7 343.1h0M355.7 342.0h0M357.0 342.2h0M318.4 329.1h0M319.2 327.0h0M318.4 330.5h0M317.6 331.5h0M318.2 327.0h0M318.1 326.5h0M319.9 326.0h0M318.7 328.6h0M339.3 314.2h0M339.8 315.2h0M336.7 315.0h0M338.9 311.9h0M333.7 315.6h0M338.8 312.9h0M332.8 314.8h0M337.6 315.1h0M341.5 338.3h0M341.4 340.4h0M340.7 336.4h0M344.9 334.5h0M345.3 335.8h0M342.2 333.3h0M339.9 337.5h0M343.4 338.4h0M345.1 335.2h0M342.3 316.8h0M340.3 315.4h0M343.8 315.7h0M339.8 315.8h0M345.4 317.9h0M342.0 315.2h0M345.2 318.8h0M360.1 329.3h0M363.9 331.8h0M360.4 327.5h0M358.2 327.3h0M329.2 322.1h0M330.5 324.7h0M325.5 322.2h0M329.6 319.0h0M332.3 323.7h0M330.2 321.3h0M331.5 349.4h0M334.7 349.0h0M333.5 346.3h0M337.5 346.6h0M336.2 344.4h0M333.3 349.8h0M335.8 346.5h0M332.8 344.7h0M333.5 346.6h0M335.3 345.5h0M335.2 332.6h0M335.8 334.8h0M333.3 334.6h0M336.4 334.7h0M336.8 333.6h0M334.5 335.3h0M335.1 331.9h0M336.2 330.8h0M336.8 332.4h0M335.6 334.8h0M368.5 347.4h0M369.3 342.8h0M366.5 347.6h0M342.3 333.0h0M338.2 328.9h0M341.9 328.2h0M337.9 329.9h0M343.0 329.5h0M338.9 328.7h0M337.2 329.2h0M343.4 331.4h0M340.8 330.1h0M369.7 335.4h0M369.1 336.0h0M368.4 336.8h0M370.3 337.0h0M370.2 336.3h0M368.9 333.6h0M367.1 334.1h0M365.8 332.8h0M371.0 336.0h0M366.4 334.0h0M351.7 350.2h0M355.4 349.7h0M351.5 352.0h0M328.2 329.5h0M329.2 327.6h0M330.1 327.0h0M324.5 324.1h0M324.3 326.0h0M323.7 328.3h0M343.4 324.4h0M342.4 326.1h0M341.5 325.6h0M355.8 345.6h0M353.3 347.0h0M351.3 344.4h0M350.1 343.9h0M351.8 344.6h0M353.5 344.5h0M354.5 343.7h0M352.7 345.7h0M350.5 351.0h0M351.5 353.9h0M349.2 350.2h0M352.1 353.1h0M350.4 353.7h0M328.1 335.5h0M325.0 337.1h0M325.2 336.9h0M326.6 327.8h0M322.5 324.0h0M326.2 324.8h0M325.8 325.1h0M347.3 311.2h0M346.9 310.6h0M349.2 312.7h0M345.5 314.3h0M349.3 311.7h0M344.9 312.5h0M322.4 336.7h0M323.5 338.8h0M324.0 333.7h0M326.7 324.4h0M323.7 325.5h0M323.1 326.5h0M353.1 318.8h0M352.8 320.1h0M353.5 320.2h0M355.5 359.8h0M354.5 357.4h0M350.7 357.1h0M351.8 356.2h0M355.6 358.4h0M356.7 364.9h0M355.7 358.1h0M355.0 358.6h0M354.8 363.0h0M356.6 326.9h0M351.5 327.7h0M352.6 324.9h0M354.5 329.6h0M363.2 353.7h0M358.7 351.6h0M359.1 351.6h0M334.5 312.7h0M335.1 305.5h0M334.4 309.3h0M337.3 309.6h0M337.5 309.9h0M337.1 311.8h0M337.8 309.6h0M330.1 330.2h0M328.3 328.2h0M335.0 329.8h0M328.1 331.2h0M328.7 327.4h0M329.7 327.8h0M357.8 348.2h0M354.8 344.2h0M357.8 351.1h0M355.7 349.2h0M353.8 350.9h0M356.9 349.1h0M329.5 327.5h0M328.8 331.4h0M326.0 324.6h0M326.8 324.9h0M328.3 323.5h0M327.6 325.3h0M329.1 324.1h0M336.6 344.4h0M335.2 339.1h0M336.8 338.9h0M337.3 339.9h0M334.7 339.8h0M334.8 339.2h0M338.0 341.7h0M335.3 341.0h0M346.4 309.1h0M350.6 307.5h0M346.7 312.6h0M346.4 311.1h0M361.7 347.5h0M360.8 340.6h0M359.4 346.9h0M362.3 344.2h0M341.6 323.0h0M339.6 328.4h0M341.3 324.7h0M340.5 326.3h0M339.9 325.5h0M339.4 326.5h0M343.8 328.8h0M338.2 330.5h0M340.5 323.4h0M337.8 326.3h0M350.6 337.2h0M349.5 336.2h0M350.4 338.3h0M358.8 337.5h0M360.7 338.5h0M357.0 340.0h0M360.4 338.2h0M364.0 339.8h0M362.5 338.4h0M362.3 340.5h0M361.9 337.1h0M365.5 339.2h0M363.3 338.2h0M355.6 323.4h0M354.7 331.2h0M357.8 325.8h0M357.7 328.4h0M354.6 329.6h0M355.0 327.5h0M356.2 328.4h0M355.3 328.6h0M341.0 320.3h0M338.3 315.2h0M338.8 317.9h0M340.4 319.7h0M338.5 315.9h0M339.2 319.6h0M331.2 341.4h0M331.7 337.7h0M332.5 336.2h0M332.8 337.4h0M333.5 340.5h0M332.0 342.0h0M334.3 340.2h0M334.2 341.5h0M335.2 313.9h0M330.9 314.7h0M333.6 315.7h0M330.8 316.0h0M331.2 313.5h0M333.3 315.5h0M352.3 320.9h0M351.5 321.4h0M352.3 324.3h0M323.0 316.8h0M318.2 316.2h0M320.8 313.8h0M319.4 316.2h0M320.9 315.0h0M322.7 313.9h0M319.7 312.1h0M322.3 313.8h0M347.3 327.1h0M341.8 326.6h0M340.8 326.8h0M326.8 318.6h0M327.3 318.0h0M326.0 318.0h0M327.8 317.7h0M326.1 314.8h0M324.9 320.6h0M328.9 318.1h0M327.5 317.3h0M328.3 319.4h0M326.5 318.2h0M346.4 319.5h0M346.8 321.6h0M348.6 319.7h0M348.3 320.9h0M348.2 318.4h0M347.1 324.6h0M348.3 322.8h0M344.6 320.1h0M345.4 321.1h0M368.6 342.1h0M369.5 345.5h0M370.7 343.6h0M369.5 344.3h0M365.7 346.5h0M367.3 342.3h0M367.0 341.5h0M370.7 343.4h0M367.5 339.9h0M368.9 343.3h0M360.7 331.6h0M362.9 330.5h0M359.3 330.1h0M362.3 330.8h0M361.2 333.1h0M359.4 331.6h0M362.5 331.8h0M359.3 328.8h0M357.9 331.1h0M351.2 350.0h0M352.5 347.5h0M352.3 350.4h0M353.2 350.8h0M353.3 348.8h0M352.5 349.8h0M352.4 351.0h0M353.5 348.8h0M351.5 353.0h0M355.1 348.6h0M353.5 351.2h0M355.4 347.4h0M341.8 346.0h0M341.8 348.0h0M344.6 343.5h0M340.1 348.3h0M344.1 344.4h0M343.1 346.2h0M365.9 335.9h0M365.2 332.3h0M363.1 332.3h0M364.9 336.8h0M362.8 336.2h0M350.1 320.4h0M352.0 319.1h0M349.0 319.0h0M346.5 321.1h0M346.5 322.0h0M346.2 324.6h0M345.2 318.6h0M348.9 318.2h0M335.8 338.3h0M337.4 340.6h0M331.8 346.7h0M334.9 343.3h0M335.5 340.7h0M335.5 342.1h0M334.8 343.1h0M336.5 340.2h0M337.6 317.5h0M339.5 314.5h0M338.5 314.6h0M338.3 310.3h0M340.8 312.0h0M339.9 313.6h0M343.1 314.1h0M337.7 314.0h0M339.1 313.0h0M326.0 316.6h0M328.1 313.6h0M326.8 312.5h0M330.4 313.5h0M329.3 313.7h0M326.0 315.0h0M327.9 316.3h0M328.1 317.4h0M324.5 313.3h0M322.5 323.2h0M318.2 322.0h0M318.2 323.9h0M319.4 325.3h0M317.9 323.5h0M317.2 322.8h0M322.7 323.4h0M321.8 323.6h0M318.0 322.0h0M317.9 324.3h0M318.5 324.4h0M322.9 322.0h0M318.7 325.6h0M323.0 326.1h0M318.3 325.7h0M319.4 328.0h0M329.9 329.2h0M329.5 328.9h0M328.0 328.8h0M329.5 327.2h0M330.7 329.3h0M328.2 331.5h0M328.5 325.3h0M349.8 344.3h0M349.4 342.9h0M349.4 343.8h0M349.2 345.4h0M337.0 330.8h0M332.3 331.3h0M335.3 329.5h0M334.8 334.3h0M343.9 319.6h0M350.2 319.7h0M346.1 323.0h0M346.7 318.5h0M350.3 317.8h0M349.0 319.5h0M346.8 318.0h0M332.9 315.2h0M333.5 309.4h0M328.9 315.1h0M330.8 316.7h0M332.3 313.7h0M363.5 336.5h0M366.1 338.2h0M364.3 340.1h0M362.5 338.9h0M364.6 337.2h0M361.5 338.7h0M369.1 338.8h0M341.5 331.0h0M339.8 325.7h0M340.7 329.7h0M340.6 327.8h0M341.2 328.4h0M343.7 326.3h0M336.8 328.6h0" stroke="#fff" stroke-width="1.50" stroke-linecap="round" fill="none"/><path d="M318.4 316.9h0M368.4 327.1h0M319.6 342.7h0M368.8 322.7h0M318.8 330.9h0M334.1 347.7h0M366.4 322.9h0M327.2 304.7h0M351.2 365.0h0M356.8 361.2h0M341.9 308.4h0M322.8 342.4h0M349.3 358.1h0M319.3 316.9h0M367.3 322.4h0M357.1 311.4h0M361.1 318.6h0M358.4 362.8h0M334.9 306.2h0M318.8 315.4h0M341.5 348.6h0M322.0 342.3h0M356.4 363.1h0M358.2 318.7h0M352.8 363.5h0M344.1 310.7h0M373.5 345.9h0M369.0 350.1h0M318.6 315.8h0M335.1 350.8h0M349.3 359.5h0M329.5 308.1h0M341.7 352.1h0M373.3 339.8h0M370.8 343.6h0M354.1 364.3h0M322.0 341.0h0M372.1 331.9h0M353.1 364.0h0M373.1 341.6h0M329.0 348.6h0M335.6 349.4h0M321.1 311.5h0M366.8 349.9h0M371.3 337.8h0M338.3 351.0h0M336.8 309.9h0M342.1 307.3h0M327.5 349.4h0M349.2 357.4h0M317.4 318.4h0M342.8 351.8h0M365.9 323.6h0M335.8 348.4h0M315.7 323.4h0M332.2 349.8h0M343.2 350.7h0M360.0 358.8h0M324.5 345.4h0M369.7 348.0h0M337.1 309.5h0M370.7 334.8h0M356.5 361.2h0M344.7 354.2h0M347.1 355.1h0M354.8 360.7h0M335.9 351.7h0M353.6 362.7h0M326.2 307.1h0M372.6 342.8h0M319.1 339.8h0M317.7 316.2h0M317.0 336.7h0M344.0 308.4h0M353.3 364.7h0M318.6 317.5h0M370.2 338.8h0M365.8 349.9h0M316.4 335.9h0M320.3 340.4h0M372.4 345.1h0M337.1 352.2h0M363.6 355.5h0M320.5 313.9h0M342.2 309.2h0M325.9 346.9h0M324.5 307.1h0M320.6 335.2h0M372.7 340.6h0M349.9 365.2h0M353.5 363.0h0M363.5 359.7h0M320.6 342.0h0M332.5 304.9h0M317.0 325.6h0M330.6 348.8h0M319.1 321.3h0M375.1 339.8h0M354.0 363.4h0M330.3 348.8h0M339.2 347.0h0M318.6 312.5h0M364.8 350.6h0M351.9 360.4h0M328.1 310.0h0M330.4 347.6h0M333.8 349.1h0M366.3 330.8h0M337.3 307.5h0M355.2 316.3h0M367.5 333.1h0M356.8 359.8h0M323.5 344.5h0M316.5 329.3h0M351.2 359.1h0M371.2 343.8h0M339.7 310.0h0M320.2 340.8h0M374.1 341.5h0M373.5 334.8h0M316.9 317.7h0M369.1 349.3h0M350.6 362.7h0M362.9 354.1h0M359.8 316.6h0M334.0 350.5h0M370.6 344.2h0M372.1 345.0h0M320.2 312.5h0M322.5 306.2h0M366.3 354.0h0M369.6 347.6h0M359.7 316.5h0M322.2 346.6h0M319.0 338.9h0M315.8 325.4h0M328.1 347.3h0M369.8 348.7h0M347.8 310.0h0M345.2 352.7h0" stroke="#2E7CB9" stroke-width="1.40" stroke-linecap="round" fill="none"/><path d="M331.4 350.2h0M319.8 338.3h0M352.7 311.5h0M332.2 348.6h0M342.0 351.8h0M350.5 359.0h0M330.6 308.0h0M343.4 351.9h0M344.3 354.0h0M371.1 335.4h0M344.6 354.4h0M339.5 308.4h0M351.1 360.0h0M367.4 328.3h0M349.1 309.6h0M373.5 340.5h0M361.8 358.4h0M317.5 318.2h0M317.6 328.0h0M341.0 309.2h0M352.5 362.6h0M368.7 350.9h0M335.3 306.7h0M328.8 347.4h0M317.9 329.9h0M371.6 342.6h0M317.3 320.5h0M345.6 353.6h0M368.2 325.7h0M316.4 330.1h0M350.6 359.4h0M318.2 317.8h0M329.3 306.9h0M346.5 355.4h0M317.6 324.7h0M352.4 310.4h0M367.2 350.6h0M371.6 339.9h0M370.8 332.9h0M359.9 357.0h0M339.1 350.2h0M356.0 364.0h0M367.8 329.7h0M322.4 343.3h0M343.7 310.7h0M347.3 355.0h0M368.4 325.4h0M325.7 345.8h0M371.9 342.8h0M316.6 330.2h0M340.9 309.0h0M317.5 320.1h0M354.9 362.5h0M318.8 327.8h0M322.1 342.7h0M329.1 348.1h0M318.4 317.7h0M343.1 310.1h0M360.1 317.2h0M323.6 344.5h0M351.5 358.5h0M349.4 310.7h0M317.0 323.7h0M366.2 352.0h0M340.2 350.4h0M372.5 343.4h0M351.1 311.1h0M371.7 341.1h0M330.2 350.7h0M316.5 325.6h0M352.3 365.2h0M349.9 358.1h0M356.9 315.0h0M318.5 316.4h0M331.8 349.2h0M339.9 307.7h0M345.1 308.7h0M323.0 345.5h0M352.0 360.9h0M360.6 318.9h0M326.1 306.1h0M322.6 342.1h0M319.7 313.7h0M334.7 306.8h0M358.5 358.2h0M370.3 335.0h0M331.0 348.9h0M338.3 351.6h0M352.2 363.5h0M341.9 308.1h0M336.6 307.4h0M327.4 346.8h0M363.5 355.5h0M372.0 345.9h0M323.5 345.5h0M371.4 337.2h0M370.6 343.1h0M342.5 353.4h0M325.0 345.6h0M352.9 312.7h0M322.5 345.6h0M372.1 345.5h0M337.5 350.3h0M318.8 312.4h0M335.1 348.8h0M348.2 309.9h0M370.8 346.3h0M318.1 328.7h0M370.7 346.3h0M337.7 351.2h0M354.2 313.2h0M322.2 307.7h0M358.9 360.0h0M333.1 308.3h0M317.1 327.4h0M333.1 308.9h0M318.7 314.0h0M318.1 321.0h0M340.2 351.5h0M367.2 351.1h0M361.0 317.6h0M331.2 307.3h0M362.8 318.5h0M371.8 343.2h0M371.9 340.3h0M319.4 318.0h0M350.8 361.5h0M322.9 309.5h0M370.8 336.6h0M320.5 309.0h0M367.3 322.5h0M362.4 318.7h0M336.6 307.8h0M321.3 311.0h0M321.5 306.1h0M351.8 361.4h0M352.6 363.0h0M371.6 344.1h0M353.1 359.9h0M329.6 347.7h0M318.6 339.2h0M346.9 355.4h0M345.6 308.9h0M329.9 349.0h0M352.9 360.4h0M333.9 349.5h0M316.8 335.7h0M332.2 347.6h0M316.3 330.0h0M316.7 336.6h0M319.3 314.3h0M357.0 360.5h0M361.3 357.1h0M322.2 309.1h0M329.2 308.1h0M343.1 309.3h0M339.1 350.5h0M316.5 328.7h0" stroke="#fff" stroke-width="1.50" stroke-linecap="round" fill="none"/><path d="M353.7 315.0h0M371.2 339.5h0M358.4 318.4h0M357.4 317.1h0M369.7 343.7h0M359.8 362.1h0M348.0 357.7h0M356.5 312.6h0M351.9 365.0h0M346.3 352.2h0M352.2 365.3h0M327.6 345.8h0M362.0 321.3h0M344.5 357.9h0M345.7 312.4h0M338.0 347.7h0M328.2 350.9h0M370.8 344.9h0M313.3 324.3h0M372.9 341.0h0M356.7 317.2h0M321.9 306.8h0M360.5 357.3h0M340.4 347.6h0M339.5 350.5h0M318.7 313.9h0M344.7 352.7h0M349.9 362.7h0M366.3 351.8h0M317.9 336.6h0M351.8 367.0h0M332.4 349.9h0M371.9 346.2h0M373.4 337.6h0M321.1 305.0h0M371.4 335.3h0M326.5 347.0h0M354.2 362.4h0M351.0 359.5h0M355.4 361.5h0M360.8 358.1h0M359.6 361.8h0M367.7 336.0h0M349.7 358.5h0M322.4 344.3h0M369.9 349.5h0M320.0 318.4h0M324.7 345.2h0M354.7 366.3h0M335.8 351.0h0M342.0 353.2h0M367.8 327.9h0M369.5 343.9h0M346.1 314.1h0M318.2 315.1h0M357.0 313.9h0M328.3 346.7h0M371.1 346.5h0M323.2 343.2h0M326.4 348.1h0M338.7 309.2h0M356.7 316.8h0M317.7 324.0h0M372.1 348.6h0M362.7 318.1h0M360.1 361.1h0M359.9 360.1h0M317.3 321.1h0M358.7 359.2h0M316.5 334.8h0M319.7 328.3h0M324.0 345.2h0M345.8 354.6h0M316.3 326.8h0M340.2 349.7h0M316.4 325.1h0M352.7 364.0h0M354.9 361.7h0M367.2 351.5h0M358.5 360.2h0M319.7 313.2h0M363.7 324.5h0M321.8 305.7h0M320.5 339.1h0M345.2 354.6h0M320.3 320.6h0M370.3 340.1h0M318.9 315.1h0M353.0 312.3h0M354.3 364.3h0M351.7 361.8h0M320.5 308.7h0M364.5 355.8h0M323.2 344.1h0M372.1 342.0h0M327.4 348.0h0M355.9 362.3h0M348.5 356.4h0M318.4 315.1h0M355.6 360.2h0M367.6 348.9h0M322.7 344.9h0M319.9 309.5h0M328.2 348.6h0M355.3 364.0h0M356.3 362.4h0M371.1 339.0h0M370.9 334.7h0M322.0 314.7h0M315.2 326.1h0M317.4 326.7h0M338.8 349.5h0M369.9 347.1h0M350.3 362.9h0M319.8 316.2h0M360.9 356.5h0M352.1 364.2h0M364.2 320.0h0M328.9 305.9h0M369.7 331.5h0M356.9 362.1h0M332.5 351.6h0M330.0 307.0h0M341.2 309.8h0M338.3 351.4h0M322.9 308.3h0M362.1 359.7h0M318.7 318.2h0M316.5 321.9h0M329.5 345.7h0M370.5 342.2h0M321.7 307.9h0M337.5 311.9h0M327.6 309.8h0M316.8 339.7h0M317.1 319.3h0M369.2 345.9h0M351.6 361.8h0M335.4 306.9h0M359.4 361.2h0M338.7 350.0h0M343.5 353.6h0M351.8 358.1h0M320.2 334.0h0M318.2 314.8h0M360.3 320.1h0M322.7 311.9h0M363.3 354.3h0M348.3 309.1h0M364.2 319.3h0M352.7 361.0h0M316.2 324.0h0M318.7 316.9h0M356.0 363.6h0M315.8 320.6h0M362.3 318.2h0M319.0 317.3h0M319.2 325.2h0" stroke="#2E7CB9" stroke-width="1.30" stroke-linecap="round" fill="none"/>
<path d="M268.9 344.8 C271.0 342.1 276.0 333.5 279.2 330.1 C282.4 326.7 284.6 325.4 288.0 324.2 C291.5 323.0 296.4 323.2 299.8 322.7 C303.3 322.2 307.0 318.6 308.7 321.3 C310.4 324.0 310.4 334.5 310.1 338.9 C309.9 343.4 308.4 345.3 307.2 347.8 C306.0 350.2 304.2 350.7 302.8 353.7 C301.4 356.6 299.3 361.1 298.7 365.5 C298.0 369.8 299.2 376.2 298.7 379.6 C298.1 383.0 297.3 385.6 295.4 386.1 C293.5 386.6 289.6 385.0 287.5 382.8 C285.3 380.7 285.4 375.8 282.7 373.4 C280.1 371.1 274.5 371.6 271.5 368.7 C268.6 365.8 265.8 359.8 265.1 356.0 C264.3 352.3 266.2 348.2 266.8 346.3 C267.5 344.4 266.8 347.5 268.9 344.8Z" fill="#44A044"/><path d="M276.4 333.7h0M276.9 329.9h0M276.0 338.1h0M272.9 334.5h0M272.9 332.1h0M274.0 334.3h0M302.2 339.3h0M301.7 339.2h0M298.6 337.6h0M298.1 368.3h0M298.3 364.0h0M298.8 366.0h0M300.6 362.3h0M299.7 365.3h0M299.8 367.1h0M294.0 366.8h0M299.2 363.3h0M285.5 380.8h0M288.2 379.4h0M288.5 382.0h0M285.9 381.1h0M285.0 380.8h0M284.6 378.3h0M291.5 379.9h0M269.9 345.5h0M268.7 351.3h0M272.4 347.5h0M268.1 352.4h0M270.8 350.5h0M280.8 362.1h0M278.4 360.6h0M280.2 360.8h0M281.4 362.1h0M280.3 361.7h0M281.5 364.1h0M278.7 364.0h0M282.5 363.6h0M279.7 362.4h0M290.2 339.8h0M285.4 342.4h0M284.0 337.8h0M284.5 343.3h0M286.3 339.5h0M282.8 340.2h0M286.9 356.2h0M282.6 357.0h0M283.8 356.8h0M276.8 340.5h0M279.1 340.7h0M280.3 335.7h0M276.0 338.6h0M281.0 342.9h0M278.9 339.8h0M279.7 340.8h0M281.7 339.3h0M282.8 338.8h0M277.9 343.6h0M280.8 340.0h0M280.0 366.6h0M280.5 364.8h0M281.6 367.0h0M280.2 366.4h0M279.5 367.4h0M282.4 367.9h0M280.0 365.2h0M278.3 365.2h0M279.4 362.8h0M298.6 363.0h0M298.7 360.9h0M297.9 363.1h0M297.8 364.2h0M275.9 343.2h0M278.6 341.8h0M280.8 341.3h0M277.9 337.4h0M297.8 344.3h0M295.5 345.9h0M296.8 345.3h0M292.7 342.4h0M295.7 342.1h0M297.6 350.5h0M298.6 346.4h0M296.5 345.9h0M273.2 364.8h0M273.5 364.5h0M268.9 366.2h0M272.6 363.2h0M279.3 359.5h0M274.5 356.7h0M274.4 358.1h0M271.4 359.4h0M279.8 355.8h0M278.8 356.4h0M278.6 360.0h0M304.8 341.0h0M305.9 345.3h0M302.9 339.8h0M303.3 343.8h0M307.2 343.9h0M298.2 342.2h0M304.6 343.9h0M277.2 357.3h0M279.3 356.2h0M277.5 356.8h0M280.3 350.7h0M275.7 356.0h0M281.4 356.4h0M282.7 354.6h0M280.0 351.0h0M280.1 358.5h0M279.0 360.3h0M282.0 356.2h0M280.7 353.5h0M277.5 356.3h0M282.1 356.4h0M280.2 354.2h0M279.9 355.6h0M276.1 334.2h0M277.6 330.2h0M275.4 338.1h0M274.9 338.7h0M279.5 333.9h0M274.9 335.7h0M278.1 338.5h0M279.3 333.4h0M278.0 333.9h0M278.5 335.9h0M294.0 326.1h0M290.5 329.8h0M292.6 330.5h0M296.9 327.4h0M295.7 329.8h0M293.5 328.1h0M301.0 334.0h0M296.4 332.0h0M298.2 331.8h0M289.6 353.6h0M289.8 351.1h0M286.4 355.1h0M290.1 350.7h0M290.2 354.7h0M287.4 349.0h0M279.0 355.5h0M275.1 357.3h0M284.8 355.9h0M277.9 357.8h0M280.9 352.3h0M275.9 351.2h0M276.4 356.0h0M278.1 354.9h0M303.2 348.4h0M300.0 343.4h0M300.5 344.3h0M299.1 339.6h0M300.5 340.2h0M299.0 341.6h0M303.9 342.1h0M299.2 345.5h0M299.4 345.3h0M296.5 354.5h0M297.5 351.8h0M297.0 355.1h0M296.2 349.3h0M299.4 347.6h0M296.3 352.6h0M296.5 352.4h0M296.2 351.1h0M294.7 351.2h0" stroke="#fff" stroke-width="1.10" stroke-linecap="round" fill="none"/><path d="M268.2 345.5h0M265.4 356.6h0M264.3 349.8h0M267.5 343.8h0M268.4 346.7h0M265.7 358.0h0M300.1 364.7h0M309.7 343.4h0M269.2 360.6h0M300.5 364.1h0M280.9 328.1h0M270.4 347.4h0M291.7 322.6h0M301.6 355.8h0M307.2 319.6h0M300.5 321.3h0M308.9 346.6h0M281.5 331.3h0M269.6 346.2h0M305.4 352.3h0M298.2 322.8h0M276.7 336.4h0M298.0 382.7h0M299.1 379.8h0M281.6 329.6h0M302.0 359.3h0M272.3 342.5h0M267.7 349.1h0M266.4 357.9h0M301.3 322.1h0M266.1 345.6h0M308.5 342.4h0M296.5 385.2h0M308.3 347.5h0M283.4 372.5h0M296.3 376.3h0M297.1 382.9h0M304.2 350.0h0M296.1 325.6h0M274.3 368.3h0M296.9 371.3h0M269.2 368.8h0M308.8 327.3h0M286.8 326.5h0M296.5 385.5h0M310.4 327.6h0M308.5 338.9h0M304.3 322.3h0M304.3 321.0h0M309.0 325.9h0M268.8 365.4h0M281.8 329.0h0M276.0 369.6h0M281.6 372.3h0M291.9 383.5h0M297.1 380.8h0M311.4 336.8h0M311.5 339.2h0M302.0 352.5h0M265.7 346.8h0M287.8 381.6h0M265.2 355.0h0M274.7 370.5h0M274.1 368.9h0M286.8 379.9h0M265.5 346.6h0M275.8 333.9h0M306.9 350.1h0M269.6 365.7h0M284.3 374.9h0M305.1 353.4h0M298.5 375.3h0M277.8 371.5h0M275.4 337.1h0M267.0 349.4h0M297.4 382.1h0M285.6 325.5h0M270.8 369.3h0M293.4 322.5h0M273.6 336.2h0M266.1 356.8h0M301.0 356.1h0M271.3 344.7h0M293.3 324.1h0M302.6 321.2h0M268.7 344.5h0M293.2 325.1h0M303.3 356.2h0M267.6 354.0h0M282.9 373.5h0M309.5 337.6h0M299.4 376.7h0M286.4 375.1h0M271.0 345.7h0M265.7 348.8h0M278.0 333.2h0M305.2 321.6h0M286.4 383.0h0M285.2 378.7h0M265.6 350.6h0M300.5 358.6h0M273.6 366.9h0M301.3 321.4h0M268.3 361.6h0M301.6 360.9h0M300.0 370.1h0M299.8 364.5h0M280.3 328.8h0M304.0 352.8h0M268.6 343.5h0M276.6 370.0h0M309.4 341.1h0M300.9 322.3h0M303.7 353.4h0M267.2 348.0h0M305.9 352.4h0M308.6 343.2h0M268.2 360.9h0M305.0 348.8h0M297.9 376.0h0M266.2 351.5h0M280.1 372.6h0M307.2 342.2h0M296.1 321.8h0M298.8 367.3h0M270.2 364.6h0M270.7 347.3h0M309.1 336.7h0M297.8 383.0h0M270.3 339.2h0M276.3 336.1h0M312.9 338.1h0M284.7 375.6h0M288.4 376.4h0M270.7 342.9h0M292.2 324.7h0M299.8 365.4h0M308.5 350.2h0M268.8 367.1h0M270.3 365.4h0" stroke="#44A044" stroke-width="1.40" stroke-linecap="round" fill="none"/><path d="M279.4 373.0h0M274.7 369.4h0M306.4 346.4h0M298.9 364.3h0M300.9 359.5h0M290.3 324.2h0M285.6 380.4h0M283.0 328.2h0M268.5 363.7h0M269.1 364.8h0M308.6 326.1h0M310.7 338.3h0M307.0 348.7h0M265.0 349.8h0M288.2 324.0h0M298.0 380.6h0M310.2 340.3h0M308.1 344.4h0M305.6 321.9h0M306.2 349.8h0M296.5 323.7h0M297.3 380.9h0M303.9 352.4h0M290.4 323.9h0M279.4 330.7h0M300.0 362.4h0M301.6 322.3h0M294.2 386.0h0M267.1 345.0h0M286.7 382.5h0M309.6 336.0h0M264.2 354.3h0M294.5 384.6h0M295.8 323.9h0M265.2 352.9h0M287.5 382.0h0M302.7 322.7h0M277.5 334.0h0M303.4 354.0h0M304.8 352.1h0M286.0 324.8h0M309.5 329.9h0M304.4 351.5h0M264.4 355.8h0M286.5 323.4h0M309.5 324.4h0M300.8 355.1h0M299.1 322.6h0M279.4 372.5h0M265.4 353.8h0M268.5 345.5h0M282.9 327.1h0M266.9 345.7h0M309.1 341.7h0M293.7 384.9h0M282.7 329.2h0M282.1 374.0h0M308.0 325.8h0M301.2 322.3h0M268.2 361.5h0M267.8 362.7h0" stroke="#fff" stroke-width="1.50" stroke-linecap="round" fill="none"/><path d="M278.2 333.7h0M310.7 334.5h0M308.3 329.9h0M274.3 367.6h0M268.4 352.5h0M265.2 347.1h0M291.3 382.3h0M311.7 342.1h0M288.8 381.2h0M273.3 368.4h0M289.9 382.8h0M312.0 334.0h0M299.6 356.4h0M308.2 342.9h0M302.0 379.3h0M305.1 351.0h0M281.9 330.2h0M308.0 321.7h0M271.2 346.3h0M307.3 326.8h0M271.7 367.2h0M298.9 373.7h0M305.6 324.0h0M285.4 374.0h0M306.3 320.8h0M302.1 354.4h0M286.9 322.8h0M301.2 320.5h0M276.6 370.9h0M312.5 339.3h0M297.4 368.0h0M287.6 377.5h0M311.2 321.7h0M285.0 325.4h0M285.2 380.6h0M295.5 327.1h0M310.7 324.8h0M299.3 363.3h0M277.7 338.3h0M309.2 342.4h0M274.3 367.5h0M285.3 326.3h0M266.9 344.8h0M267.3 345.9h0M292.8 384.9h0M263.5 349.8h0M306.6 321.2h0M266.0 353.0h0M284.4 328.9h0M284.6 329.0h0M303.1 353.2h0M283.3 373.2h0M265.9 351.1h0M270.0 341.3h0M311.1 340.7h0M280.8 374.0h0M282.5 329.5h0M295.7 384.4h0M309.6 341.8h0M299.6 354.7h0M297.9 379.6h0" stroke="#44A044" stroke-width="1.30" stroke-linecap="round" fill="none"/>
<path d="M304.3 359.6 C305.2 357.1 308.9 355.1 311.6 353.7 C314.3 352.2 318.0 350.2 320.5 350.7 C322.9 351.2 323.9 355.6 326.4 356.6 C328.8 357.6 332.5 355.9 335.2 356.6 C337.9 357.4 340.4 358.6 342.6 361.0 C344.8 363.5 347.2 367.2 348.5 371.4 C349.7 375.5 350.7 381.9 349.9 386.1 C349.2 390.3 347.0 393.5 344.0 396.4 C341.1 399.4 336.2 402.1 332.2 403.8 C328.3 405.5 324.4 406.5 320.5 406.7 C316.5 407.0 311.6 406.7 308.7 405.2 C305.7 403.8 303.8 402.1 302.8 397.9 C301.8 393.7 302.3 385.1 302.8 380.2 C303.3 375.3 305.5 371.8 305.7 368.4 C306.0 365.0 303.3 362.0 304.3 359.6Z" fill="#D42A27"/><path d="M308.9 372.4h0M305.7 367.0h0M307.8 365.9h0M310.6 367.7h0M311.5 371.8h0M308.3 365.8h0M318.8 377.6h0M320.0 383.2h0M319.7 377.9h0M320.3 380.5h0M318.7 383.1h0M318.4 377.7h0M320.9 378.3h0M318.1 376.9h0M307.0 387.2h0M307.1 387.5h0M310.5 388.2h0M309.5 388.6h0M319.0 406.8h0M321.6 405.4h0M318.2 400.1h0M319.8 405.5h0M320.4 406.3h0M319.9 406.9h0M323.5 406.0h0M325.9 396.9h0M323.6 400.0h0M324.9 394.8h0M342.7 382.7h0M339.9 385.6h0M339.0 387.8h0M342.1 383.1h0M341.4 390.1h0M342.7 385.3h0M338.3 386.3h0M343.8 385.4h0M309.8 372.1h0M314.2 365.4h0M312.6 366.2h0M312.0 366.5h0M314.2 366.7h0M307.7 363.3h0M308.5 365.6h0M315.6 365.9h0M307.1 384.7h0M306.1 385.6h0M301.3 379.8h0M306.9 383.1h0M308.2 381.5h0M308.8 383.3h0M308.0 381.7h0M310.1 380.8h0M344.5 365.7h0M345.6 370.7h0M345.1 367.9h0M331.7 402.5h0M330.3 397.5h0M332.8 400.9h0M327.3 401.4h0M331.5 397.1h0M312.8 383.2h0M314.3 386.8h0M316.8 384.0h0M314.2 387.1h0M316.7 386.7h0M317.4 383.9h0M327.7 392.9h0M324.8 396.7h0M327.6 391.5h0M327.4 357.6h0M328.4 357.9h0M325.8 357.7h0M325.9 358.6h0M324.1 359.2h0M324.5 366.0h0M327.6 369.9h0M325.4 371.5h0M310.0 392.1h0M309.4 384.3h0M307.1 385.9h0M313.9 387.7h0M308.4 387.2h0M307.7 389.5h0M310.0 385.7h0M305.2 391.0h0M311.6 387.8h0M306.4 375.9h0M306.1 378.5h0M306.8 376.5h0M311.5 380.6h0M308.7 379.5h0M306.0 375.9h0M304.2 380.3h0M306.9 381.4h0M302.3 380.8h0M307.7 377.2h0M327.2 405.7h0M322.9 405.4h0M326.1 404.9h0M325.8 407.5h0M324.6 403.7h0M324.8 405.1h0M327.5 405.6h0M325.8 403.6h0M327.8 406.3h0M328.4 404.4h0M307.1 373.6h0M308.0 372.1h0M310.0 378.5h0M311.1 375.5h0M305.1 374.4h0M309.5 377.4h0M307.0 377.3h0M308.8 375.2h0M308.7 379.6h0M303.4 375.0h0M338.2 396.0h0M340.1 398.0h0M342.5 399.8h0M341.3 399.1h0M340.1 397.2h0M329.8 384.5h0M328.5 380.6h0M329.1 386.5h0M332.9 385.0h0M331.0 385.3h0M326.4 380.4h0M330.9 382.0h0M328.5 389.4h0M331.2 387.7h0M331.2 391.0h0M326.6 389.5h0M328.7 386.8h0M326.9 385.2h0M327.7 387.4h0M330.7 390.7h0M326.8 387.2h0M330.6 387.4h0M348.9 386.0h0M348.6 388.5h0M349.6 386.8h0M348.7 386.4h0M349.1 386.0h0M314.8 364.9h0M314.0 361.2h0M314.8 366.0h0M318.5 363.2h0M315.4 366.1h0M316.8 365.8h0M312.1 366.3h0M315.2 362.6h0M325.1 386.3h0M327.8 388.9h0M328.0 389.5h0M331.0 391.1h0M324.2 385.3h0M328.5 387.8h0M327.8 388.4h0M323.1 387.6h0M340.8 367.5h0M340.6 364.6h0M339.9 364.2h0M343.3 367.9h0M337.1 364.7h0M309.6 355.4h0M309.1 359.7h0M311.0 356.4h0M310.1 354.8h0M309.8 360.2h0M316.1 370.6h0M312.5 369.1h0M318.9 369.7h0M312.9 372.5h0M313.8 369.9h0M313.8 370.2h0M317.3 372.3h0M315.3 372.4h0M317.0 372.5h0M315.2 370.8h0M306.2 354.6h0M304.5 362.0h0M305.9 357.2h0M308.8 358.4h0M307.5 356.3h0M305.0 356.8h0M304.6 358.4h0M312.0 358.2h0M307.2 360.4h0M308.7 354.0h0M311.2 393.2h0M312.9 393.7h0M313.1 395.0h0M312.3 390.9h0M312.9 394.3h0M312.3 395.0h0" stroke="#fff" stroke-width="1.10" stroke-linecap="round" fill="none"/><path d="M338.9 358.3h0M349.4 388.6h0M349.9 376.6h0M307.6 358.9h0M305.0 369.0h0M303.8 385.7h0M324.6 354.0h0M333.8 404.2h0M303.4 360.6h0M338.9 397.7h0M339.1 401.2h0M335.1 402.4h0M306.6 365.7h0M302.5 396.2h0M305.6 358.5h0M319.8 406.9h0M307.0 401.2h0M306.2 402.3h0M345.9 365.3h0M347.6 384.7h0M332.9 356.6h0M347.6 372.1h0M307.3 357.5h0M348.8 380.8h0M344.9 371.8h0M316.8 404.8h0M319.7 351.5h0M304.4 399.5h0M341.1 395.0h0M318.1 404.5h0M332.5 356.8h0M347.7 391.0h0M350.7 376.2h0M314.1 351.2h0M305.9 361.2h0M305.8 374.6h0M305.8 367.4h0M346.4 369.1h0M334.8 356.2h0M332.4 403.1h0M338.3 399.3h0M343.7 398.8h0M339.4 359.7h0M310.6 405.8h0M336.2 358.7h0M326.5 353.6h0M329.4 404.5h0M335.3 354.7h0M315.8 352.4h0M347.2 379.6h0M347.8 376.3h0M306.6 397.6h0M335.0 354.9h0M307.5 403.4h0M350.2 376.1h0M337.6 401.4h0M306.2 357.9h0M343.9 398.8h0M314.7 352.2h0M333.2 357.3h0M309.5 357.1h0M342.0 397.9h0M308.1 353.5h0M308.2 355.8h0M323.5 354.7h0M335.4 401.3h0M303.3 396.9h0M322.4 353.4h0M311.2 353.8h0M307.6 403.3h0M335.6 402.3h0M337.1 356.2h0M306.8 357.9h0M305.8 367.7h0M302.8 358.1h0M335.3 355.9h0M312.8 353.0h0M309.4 401.1h0M301.8 378.5h0M302.0 391.2h0M333.1 357.1h0M321.8 406.1h0M328.7 404.9h0M317.2 350.8h0M301.5 388.8h0M305.9 358.5h0M317.0 406.7h0M350.0 378.5h0M303.8 383.4h0M326.2 355.3h0M323.9 406.8h0M311.1 406.0h0M303.1 368.0h0M309.6 356.5h0M310.2 355.6h0M320.8 352.5h0M302.3 386.8h0M344.4 367.0h0M335.5 358.2h0M309.7 356.0h0M336.7 356.4h0M328.9 354.6h0M309.8 402.8h0M343.3 394.3h0M312.8 350.5h0M305.3 369.7h0M308.5 404.8h0M320.7 348.6h0M301.5 374.1h0M347.4 370.8h0M336.3 355.7h0M320.5 350.5h0M319.6 406.9h0M333.7 358.2h0M348.4 391.8h0M347.3 390.7h0M345.3 395.1h0M345.8 394.6h0M304.6 365.0h0M305.2 365.6h0M307.3 366.6h0M325.8 404.6h0M303.5 385.1h0M345.6 363.1h0M340.2 398.4h0M350.2 385.0h0M317.6 350.4h0M307.6 357.2h0M327.2 404.5h0M341.9 397.5h0M312.4 354.1h0M348.5 387.7h0M332.5 358.4h0M342.7 395.1h0M321.1 353.5h0" stroke="#D42A27" stroke-width="1.40" stroke-linecap="round" fill="none"/><path d="M304.1 396.2h0M314.6 406.2h0M338.6 398.8h0M305.4 368.2h0M314.2 404.9h0M320.5 351.7h0M304.7 364.7h0M329.1 356.5h0M322.4 406.1h0M323.8 405.5h0M345.1 367.3h0M335.4 356.8h0M304.2 376.9h0M345.3 394.2h0M303.0 380.7h0M306.0 359.6h0M323.2 405.6h0M314.5 351.8h0M304.8 363.7h0M330.1 404.6h0M311.5 354.4h0M308.1 403.8h0M331.2 357.2h0M347.7 368.2h0M349.1 376.7h0M349.1 389.0h0M327.0 405.6h0M304.4 367.9h0M303.4 386.6h0M325.5 354.6h0M322.7 352.3h0M341.9 361.2h0M312.8 353.1h0M316.5 351.6h0M311.9 353.9h0M349.5 387.5h0M339.4 398.6h0M313.5 355.1h0M302.4 396.2h0M303.2 365.4h0M301.7 389.5h0M339.0 397.4h0M305.5 374.5h0M332.9 356.5h0M326.2 356.6h0M325.6 357.1h0M327.5 356.3h0M308.6 356.4h0M303.3 376.2h0M324.3 354.5h0M302.7 393.0h0M320.5 351.0h0M302.7 388.9h0M328.0 356.7h0M350.0 384.0h0M347.0 369.5h0M336.5 358.0h0M350.4 382.8h0M339.1 399.4h0" stroke="#fff" stroke-width="1.50" stroke-linecap="round" fill="none"/><path d="M336.7 356.6h0M304.0 372.5h0M317.6 350.3h0M303.3 373.7h0M306.6 371.7h0M303.3 392.5h0M346.4 367.9h0M304.1 358.6h0M306.6 356.5h0M331.1 354.9h0M315.0 351.9h0M339.3 357.2h0M340.6 358.5h0M310.0 357.0h0M327.8 402.4h0M349.4 385.7h0M303.6 366.7h0M311.8 352.6h0M303.5 357.8h0M337.7 401.5h0M314.6 406.5h0M314.1 351.8h0M323.3 354.6h0M312.3 354.1h0M303.5 361.1h0M318.0 352.0h0M337.4 399.1h0M303.7 370.8h0M343.9 364.7h0M348.0 368.8h0M335.8 360.3h0M340.8 358.9h0M336.8 400.8h0M321.0 353.8h0M341.4 358.8h0M305.7 359.9h0M307.0 365.9h0M313.6 356.2h0M347.1 370.3h0M345.0 366.8h0M303.7 361.4h0M346.3 371.2h0M302.1 363.4h0M304.5 399.3h0M311.0 353.2h0M317.3 354.7h0M338.0 356.2h0M304.6 367.7h0M305.2 398.0h0M310.8 351.8h0M347.7 385.2h0M311.0 351.5h0M332.8 403.9h0M317.4 354.3h0M320.2 404.3h0M326.3 406.3h0M310.3 356.6h0M330.3 404.7h0M330.0 356.6h0" stroke="#D42A27" stroke-width="1.30" stroke-linecap="round" fill="none"/>
<path d="M279.5 326.3h0M267.7 324.0h0M265.8 317.3h0M263.1 324.4h0M266.0 325.0h0M272.7 324.9h0M274.4 314.7h0M275.1 324.7h0M269.8 324.3h0M271.1 313.0h0M268.6 326.6h0M277.3 323.8h0M269.1 314.2h0M271.3 313.2h0M275.7 324.6h0M271.5 318.0h0M275.5 322.4h0M270.3 314.3h0M276.5 321.3h0M266.7 316.4h0M269.4 318.6h0M273.0 314.6h0M272.8 322.0h0M277.3 324.8h0M275.7 321.1h0M273.6 321.4h0M270.3 318.1h0M278.0 319.5h0M267.9 318.2h0M270.9 321.6h0M275.4 323.1h0M278.4 317.4h0M267.2 325.3h0M278.4 323.4h0M267.1 320.0h0M272.2 316.2h0M272.4 327.5h0M272.5 321.4h0M270.0 315.9h0M270.5 321.6h0M278.9 322.1h0M273.7 326.0h0M262.9 318.8h0M268.1 321.6h0M277.4 315.3h0M272.2 322.1h0M270.3 321.8h0M271.9 321.7h0M273.4 317.8h0M272.6 318.1h0M275.2 320.0h0M263.0 317.8h0M263.5 318.9h0M275.1 318.5h0M269.4 315.8h0M276.7 315.3h0M278.9 322.7h0M266.2 318.5h0M272.4 314.4h0M274.2 319.9h0M264.6 320.8h0M266.6 315.8h0M267.7 324.0h0M271.5 314.1h0M273.5 314.4h0M269.0 319.6h0M271.4 324.7h0M268.3 322.3h0M266.9 322.2h0M274.1 319.1h0M273.0 324.6h0M277.8 319.7h0M268.0 314.9h0M267.3 323.0h0M263.6 321.6h0M263.0 324.2h0M266.0 319.0h0M277.3 323.7h0M264.2 322.5h0M266.2 321.6h0M270.4 319.8h0M273.4 318.5h0M275.9 321.8h0M266.6 315.2h0M273.6 320.6h0M265.0 318.7h0M278.4 318.5h0M267.3 321.7h0M264.5 317.4h0M271.2 321.5h0M262.5 323.3h0M271.8 321.9h0M266.3 321.9h0M279.8 326.1h0M268.5 323.9h0M269.4 321.6h0M274.2 318.7h0M266.0 323.7h0M270.4 320.1h0M268.1 320.5h0M272.9 325.0h0M274.5 320.6h0M277.1 324.0h0M278.5 319.0h0M266.8 323.7h0M265.2 321.7h0M263.1 322.6h0M275.9 323.4h0M271.5 324.2h0M265.8 319.4h0M272.0 316.3h0M278.5 326.6h0M267.8 323.4h0M271.4 323.3h0M272.0 324.5h0M270.9 323.7h0M276.8 315.9h0M270.1 313.0h0M277.7 323.6h0M274.5 315.3h0M265.4 316.8h0M269.1 319.8h0M266.4 316.4h0M270.9 322.1h0M270.7 326.9h0M270.7 313.5h0M264.2 321.3h0M263.7 323.9h0M274.6 315.9h0M268.4 314.1h0M270.4 316.4h0M270.8 318.3h0M276.6 318.2h0M269.7 317.9h0M269.3 323.5h0M268.2 320.2h0M269.5 322.7h0M266.4 315.2h0M279.4 316.9h0M277.7 326.1h0M270.0 324.2h0M275.3 322.0h0M272.4 321.4h0M263.5 321.9h0M272.8 325.9h0M275.7 319.7h0M273.0 316.3h0M272.6 316.6h0M266.1 323.4h0M279.5 317.5h0M269.7 322.6h0M278.2 325.3h0M277.0 321.6h0M271.6 312.8h0M278.1 316.3h0M276.6 314.9h0M274.1 321.2h0M267.2 318.4h0M265.5 322.2h0M275.7 324.6h0M263.2 322.3h0M279.1 323.3h0M262.4 322.4h0M269.2 322.9h0M268.2 316.0h0M275.2 317.3h0M268.7 313.2h0M267.0 323.8h0M262.4 320.1h0M267.2 322.2h0M266.4 319.5h0M273.6 326.7h0M264.5 319.8h0M265.9 318.9h0M263.8 320.8h0M271.3 313.8h0M271.1 326.6h0M270.6 318.9h0M268.0 321.8h0M279.1 321.2h0M268.2 322.9h0M271.6 321.5h0M269.2 313.4h0M275.6 316.8h0M263.3 317.7h0M265.9 323.1h0M272.5 313.5h0M275.1 318.3h0M272.7 316.5h0M264.8 317.1h0M273.9 319.8h0M275.3 323.8h0M265.1 316.7h0M274.4 318.6h0M269.4 314.3h0M275.9 323.6h0M273.2 326.1h0M262.8 324.8h0M275.8 319.4h0M276.1 326.9h0M262.8 323.7h0M276.6 326.0h0M276.0 320.5h0M272.2 313.3h0M273.9 316.3h0M265.5 316.0h0M271.5 316.8h0M268.8 319.7h0M264.8 320.3h0M262.5 318.7h0M272.7 320.2h0M262.4 320.1h0M278.1 317.8h0M266.9 325.0h0M277.0 324.6h0M270.3 315.3h0M264.2 321.9h0" stroke="#8C45A0" stroke-width="1.70" stroke-linecap="round" fill="none"/>
<path d="M264.1 322.5h0M263.7 316.9h0M282.4 322.2h0M270.1 320.7h0M275.2 306.1h0M259.6 323.0h0M281.8 306.3h0M291.7 310.2h0M284.1 312.5h0M293.0 313.6h0M273.1 318.1h0M269.0 328.4h0M275.9 307.6h0M270.6 325.0h0M291.8 306.7h0M267.7 327.6h0M276.6 308.1h0M291.2 305.6h0M291.0 309.4h0M261.3 322.7h0M279.4 319.2h0M269.7 315.2h0M274.0 329.2h0M278.7 328.2h0M279.1 314.0h0M263.6 318.6h0M283.2 305.6h0M271.9 322.9h0M279.3 325.0h0M265.6 327.2h0M271.4 308.6h0M275.0 310.1h0M275.3 329.2h0M273.0 310.5h0M285.4 314.4h0M280.2 326.3h0M268.1 311.0h0M262.7 322.4h0M294.7 315.0h0M284.5 320.5h0M283.2 313.2h0M269.9 318.6h0M284.8 308.9h0M275.4 307.8h0M279.3 305.5h0M263.3 321.2h0M271.5 329.5h0M281.1 323.3h0M289.8 318.2h0M273.5 322.2h0M262.2 325.6h0M281.5 309.9h0M291.0 309.0h0M266.1 313.8h0M287.3 321.1h0M286.0 319.0h0M277.4 321.3h0M276.5 314.2h0M283.2 327.1h0M282.7 306.5h0M272.9 316.1h0M294.9 313.0h0M274.0 319.8h0M289.4 309.6h0M275.1 324.2h0M267.1 319.5h0M287.7 317.8h0M269.6 316.0h0M284.2 307.4h0" stroke="#8C45A0" stroke-width="1.60" stroke-linecap="round" fill="none"/>
<path d="M290.6 298.5h0M289.3 291.7h0M290.5 300.1h0M290.6 292.2h0M290.4 297.6h0M290.8 296.3h0M289.6 296.2h0M289.3 299.3h0M288.5 295.4h0M290.0 297.4h0M290.0 295.5h0M289.2 291.6h0M289.9 299.5h0M289.3 296.1h0M290.6 299.8h0" stroke="#8C45A0" stroke-width="1.60" stroke-linecap="round" fill="none"/>
<path d="M248.6 342.5 C249.6 341.8 252.2 341.3 254.2 342.5 C256.1 343.7 259.3 347.6 260.3 349.5 C261.4 351.5 261.4 353.2 260.3 354.3 C259.3 355.3 255.9 356.6 254.2 356.0 C252.4 355.5 251.1 352.6 250.0 351.0 C248.9 349.4 247.9 347.7 247.7 346.3 C247.4 344.9 247.5 343.1 248.6 342.5Z" fill="#A45A2A"/><path d="M246.1 346.3h0M249.1 345.5h0M252.6 347.0h0M252.6 342.6h0M251.9 346.1h0M253.9 349.1h0M254.5 348.2h0M249.0 348.8h0M253.0 344.3h0M254.6 347.9h0M252.4 345.8h0M251.7 346.3h0M251.3 349.1h0" stroke="#fff" stroke-width="1.10" stroke-linecap="round" fill="none"/><path d="M251.7 342.0h0M248.1 346.1h0M247.3 342.6h0M252.3 354.2h0M256.3 353.6h0M253.1 344.0h0M260.0 355.4h0M250.6 340.0h0M250.5 341.8h0M257.4 350.2h0M259.8 351.9h0M248.4 346.5h0M258.1 347.3h0M257.0 352.3h0M260.8 352.9h0M254.5 341.6h0M255.7 356.3h0M248.5 345.1h0M253.6 344.9h0M259.6 348.7h0M261.0 349.1h0M251.1 350.3h0M251.6 352.1h0M251.6 343.2h0M258.6 356.2h0M254.8 354.7h0M260.0 353.1h0M253.8 354.5h0M263.7 353.1h0M257.3 355.3h0M256.7 353.4h0M257.1 354.6h0M250.7 352.6h0" stroke="#A45A2A" stroke-width="1.40" stroke-linecap="round" fill="none"/><path d="M260.3 350.3h0M251.8 354.1h0M259.6 349.2h0M252.1 353.3h0M259.0 352.8h0M255.9 344.4h0M250.6 351.7h0M248.3 342.2h0M249.5 351.7h0M253.1 353.2h0M257.2 355.8h0M254.5 342.9h0M252.5 341.5h0M260.2 354.3h0" stroke="#fff" stroke-width="1.50" stroke-linecap="round" fill="none"/><path d="M245.7 341.2h0M261.8 355.0h0M249.0 346.9h0M253.6 352.7h0M246.8 348.4h0M250.3 344.2h0M256.5 357.9h0M254.2 346.8h0M249.1 346.8h0M258.9 354.0h0M253.1 341.1h0M253.0 353.2h0M257.8 348.8h0M256.3 354.5h0" stroke="#A45A2A" stroke-width="1.30" stroke-linecap="round" fill="none"/>
<path d="M252.7 359.6 C253.8 358.5 257.4 358.2 258.6 359.0 C259.8 359.7 260.2 362.7 259.8 364.0 C259.3 365.3 257.0 366.7 255.6 366.9 C254.3 367.2 252.3 366.7 251.8 365.5 C251.3 364.2 251.6 360.6 252.7 359.6Z" fill="#A45A2A"/><path d="M255.6 364.6h0M253.2 359.1h0M257.3 361.2h0M254.1 363.9h0M254.7 369.4h0M250.1 363.9h0M260.8 365.4h0M260.1 361.2h0M261.6 362.5h0M258.8 363.4h0M251.0 365.4h0M251.6 360.8h0M253.6 362.1h0M259.0 361.5h0M260.4 364.6h0M251.0 365.7h0M252.2 366.3h0M255.0 359.5h0M252.9 364.1h0M254.3 360.3h0" stroke="#A45A2A" stroke-width="1.40" stroke-linecap="round" fill="none"/><path d="M253.9 359.7h0M259.1 359.3h0M252.5 360.8h0M261.1 364.2h0M257.6 359.1h0M260.3 363.2h0M251.0 363.4h0M257.0 359.5h0M259.4 362.6h0" stroke="#fff" stroke-width="1.50" stroke-linecap="round" fill="none"/><path d="M256.4 365.5h0M251.1 360.0h0M258.5 364.6h0M259.1 364.7h0M254.3 363.8h0M250.7 363.4h0M258.5 366.5h0M259.1 362.5h0M251.5 360.1h0" stroke="#A45A2A" stroke-width="1.30" stroke-linecap="round" fill="none"/>
<path d="M240.4 363.5h0M241.3 361.6h0M242.0 359.3h0M241.8 359.4h0M243.2 363.9h0M242.0 358.8h0M241.5 362.2h0M242.2 363.5h0M240.7 360.9h0M240.7 360.1h0M243.1 363.2h0M241.8 360.5h0M241.7 361.5h0M240.4 363.5h0M241.6 362.2h0M239.8 361.6h0M241.1 362.7h0M240.8 358.6h0M242.6 361.2h0M240.6 363.9h0M242.0 360.9h0M241.3 362.5h0M243.0 362.3h0M240.0 358.7h0M240.4 362.0h0M241.5 365.2h0M242.5 364.5h0" stroke="#9a9a9a" stroke-width="1.70" stroke-linecap="round" fill="none"/>
<path d="M266.8 379.6 C268.4 379.1 272.1 379.5 274.8 381.4 C277.4 383.2 280.8 388.2 282.7 390.8 C284.7 393.5 286.0 394.6 286.6 397.3 C287.1 399.9 286.9 404.9 286.0 406.7 C285.0 408.5 283.1 409.0 281.0 408.2 C278.8 407.4 275.5 404.6 273.0 402.0 C270.5 399.4 267.3 395.5 265.9 392.6 C264.6 389.7 264.9 386.8 265.1 384.6 C265.2 382.5 265.2 380.1 266.8 379.6Z" fill="#E8801F"/><path d="M265.8 380.7h0M272.9 382.6h0M267.9 380.4h0M266.0 391.0h0M264.6 389.6h0M262.8 389.5h0M263.3 393.1h0M269.9 386.3h0M268.1 390.8h0M283.6 401.2h0M286.9 400.3h0M287.3 398.5h0M287.6 399.7h0M272.4 392.1h0M276.2 397.2h0M275.1 395.6h0M270.6 396.8h0M273.5 390.1h0M275.0 401.1h0M275.0 398.3h0M273.5 403.8h0M275.1 398.8h0M274.4 400.8h0M278.8 402.0h0M274.6 404.2h0M272.5 403.0h0M275.8 400.5h0M276.5 402.8h0M273.1 385.8h0M278.2 386.0h0M270.7 389.2h0M274.5 387.5h0M272.9 386.6h0M273.2 389.7h0M273.3 387.1h0M272.0 384.2h0M271.6 386.1h0M273.9 387.7h0M270.4 386.1h0" stroke="#fff" stroke-width="1.10" stroke-linecap="round" fill="none"/><path d="M267.6 393.3h0M276.7 405.3h0M268.3 378.9h0M286.9 394.5h0M277.0 386.5h0M283.9 393.6h0M283.9 403.4h0M284.3 409.4h0M275.6 403.2h0M264.5 391.1h0M281.8 408.5h0M284.0 408.8h0M278.5 408.3h0M268.2 390.8h0M285.6 401.1h0M267.4 384.1h0M283.6 392.2h0M265.4 380.9h0M283.0 390.8h0M284.1 407.3h0M279.4 406.0h0M282.8 391.3h0M267.3 397.8h0M286.4 406.3h0M272.7 379.7h0M270.3 396.9h0M266.1 392.2h0M288.4 401.0h0M266.5 389.3h0M271.3 399.3h0M272.2 378.6h0M284.2 408.2h0M283.6 406.6h0M276.6 406.1h0M277.9 382.7h0M289.6 400.1h0M267.1 389.1h0M282.4 393.4h0M270.9 379.9h0M288.2 403.7h0M273.1 402.6h0M286.1 410.8h0M265.2 382.5h0M283.3 406.6h0M268.3 395.4h0M272.8 381.2h0M265.8 381.9h0M272.5 403.2h0M287.0 394.9h0M268.5 386.7h0M264.1 384.6h0M285.2 393.8h0M287.2 407.0h0M272.0 398.7h0M276.8 401.9h0M286.0 395.8h0M275.3 404.5h0M271.5 401.7h0M282.2 406.8h0M279.0 386.9h0M273.2 379.6h0M287.6 401.7h0" stroke="#E8801F" stroke-width="1.40" stroke-linecap="round" fill="none"/><path d="M286.0 406.3h0M267.7 392.4h0M285.9 395.9h0M266.4 380.1h0M282.0 407.7h0M280.4 407.6h0M264.9 390.8h0M277.2 384.1h0M267.5 379.8h0M286.5 398.1h0M280.3 406.9h0M272.0 381.0h0M277.9 386.4h0M275.1 381.8h0M269.2 399.2h0M266.8 378.4h0M269.9 397.8h0M285.9 397.2h0M265.7 385.2h0M286.6 406.3h0M280.1 408.0h0M286.6 405.0h0M285.3 403.7h0M269.3 380.2h0M267.2 381.6h0M283.4 407.2h0M266.3 387.8h0" stroke="#fff" stroke-width="1.50" stroke-linecap="round" fill="none"/><path d="M276.5 398.9h0M285.9 400.0h0M283.8 389.9h0M281.0 406.9h0M267.2 392.5h0M268.1 389.8h0M263.4 387.1h0M267.6 381.0h0M285.1 399.9h0M264.2 383.5h0M264.2 386.2h0M287.0 404.5h0M281.6 391.2h0M283.4 391.0h0M285.9 397.1h0M273.2 380.2h0M284.3 403.8h0M284.6 394.7h0M271.6 381.0h0M265.3 388.1h0M283.5 392.4h0M265.7 388.9h0M287.9 397.0h0M264.5 389.0h0M281.2 390.6h0M267.9 396.5h0M267.5 381.6h0" stroke="#E8801F" stroke-width="1.30" stroke-linecap="round" fill="none"/>
<path d="M261.3 382.8h0M258.1 380.6h0M261.5 379.4h0M256.8 381.3h0" stroke="#E8801F" stroke-width="1.60" stroke-linecap="round" fill="none"/>
<path d="M361.7 374.3 C363.0 373.1 367.7 372.8 369.1 374.3 C370.5 375.8 370.7 381.3 370.0 383.1 C369.2 385.0 366.1 385.7 364.7 385.5 C363.2 385.3 361.6 383.5 361.1 381.7 C360.6 379.8 360.4 375.5 361.7 374.3Z" fill="#E07EC0"/><path d="M369.1 382.6h0M370.1 381.1h0M361.2 375.3h0M369.1 375.7h0M364.3 384.3h0M369.0 382.9h0M359.9 381.5h0M369.4 382.4h0M371.2 379.9h0M361.3 374.5h0M364.3 374.6h0M363.9 382.9h0M360.8 376.5h0M364.7 385.3h0M362.0 379.0h0M362.8 375.6h0M362.1 374.5h0M367.9 374.1h0M362.0 376.7h0M371.4 380.8h0M362.6 375.5h0M359.4 380.7h0M370.6 373.6h0M369.4 377.6h0M373.6 377.8h0M368.8 383.0h0M369.7 379.7h0" stroke="#E07EC0" stroke-width="1.40" stroke-linecap="round" fill="none"/><path d="M370.5 380.4h0M366.8 387.2h0M369.9 379.2h0M362.8 373.4h0M366.6 374.4h0M369.6 381.9h0M362.9 383.7h0M361.0 383.3h0M370.1 379.4h0M362.2 380.2h0M370.5 382.2h0M366.3 385.3h0" stroke="#fff" stroke-width="1.50" stroke-linecap="round" fill="none"/><path d="M360.7 373.6h0M361.5 381.0h0M366.1 373.8h0M364.4 384.9h0M363.6 382.9h0M360.2 383.4h0M369.2 374.6h0M365.3 383.5h0M366.4 386.9h0M365.0 374.0h0M369.3 372.7h0M369.2 384.0h0" stroke="#E07EC0" stroke-width="1.30" stroke-linecap="round" fill="none"/>
<path d="M311.5 341.7h0M310.9 341.5h0M308.8 339.8h0M313.3 344.6h0M313.3 341.4h0M313.3 343.2h0M313.1 343.5h0M312.9 345.4h0M311.7 341.7h0M310.3 340.9h0M311.4 340.2h0M312.7 343.3h0M311.0 339.6h0M310.2 339.4h0M313.0 342.7h0" stroke="#E4DF42" stroke-width="1.70" stroke-linecap="round" fill="none"/>
<path d="M455.1 302.1 C456.0 299.2 459.3 295.0 461.0 293.3 C462.8 291.5 464.5 291.1 465.5 291.8 C466.4 292.5 467.2 295.2 466.9 297.7 C466.7 300.1 465.2 303.8 464.0 306.5 C462.8 309.2 460.9 313.2 459.6 313.9 C458.2 314.6 456.8 312.9 456.0 310.9 C455.3 309.0 454.3 305.0 455.1 302.1Z" fill="#E4DF42"/><path d="M457.9 312.5h0M463.9 295.2h0M466.1 294.9h0M456.4 310.1h0M466.1 309.1h0M466.5 296.9h0M462.5 292.5h0M466.6 306.4h0M459.7 312.1h0M460.1 296.1h0M466.1 298.6h0M464.3 291.8h0M464.5 293.8h0M465.7 290.5h0M465.1 290.4h0M457.6 309.8h0M455.4 307.7h0M465.3 302.5h0M458.5 297.2h0M467.9 299.3h0M462.1 295.1h0M455.0 302.0h0M458.3 315.1h0M467.6 294.6h0M459.4 299.5h0M456.1 299.5h0M465.8 295.1h0M461.5 311.2h0M462.1 294.0h0M461.4 309.4h0M466.0 294.4h0M466.3 298.1h0M455.9 307.2h0M463.6 315.9h0M462.1 292.1h0M463.3 307.7h0M457.8 311.5h0M454.0 310.3h0M459.4 313.8h0M465.2 293.8h0M459.5 298.2h0M456.5 311.2h0" stroke="#E4DF42" stroke-width="1.40" stroke-linecap="round" fill="none"/><path d="M466.8 291.8h0M455.6 301.5h0M464.2 306.4h0M455.8 306.9h0M456.7 311.0h0M462.0 309.4h0M462.1 311.0h0M465.3 293.3h0M465.7 293.2h0M462.3 307.2h0M464.5 291.8h0M457.2 312.1h0M457.8 313.8h0M456.0 307.8h0M463.3 292.7h0M466.6 299.4h0M465.1 293.3h0M456.3 311.9h0" stroke="#fff" stroke-width="1.50" stroke-linecap="round" fill="none"/><path d="M454.4 314.0h0M465.2 295.3h0M462.7 293.0h0M466.4 292.4h0M462.5 292.4h0M455.4 310.4h0M461.3 309.8h0M462.6 292.1h0M458.5 312.4h0M465.6 304.2h0M463.3 291.7h0M457.4 308.1h0M459.4 310.5h0M465.0 296.7h0M458.1 316.7h0M458.5 314.1h0M461.7 315.2h0M454.2 306.1h0" stroke="#E4DF42" stroke-width="1.30" stroke-linecap="round" fill="none"/>
<path d="M408.6 321.8 C409.1 318.9 411.4 313.4 413.3 310.6 C415.2 307.8 417.4 306.1 419.8 305.0 C422.2 304.0 425.2 304.0 427.7 304.2 C430.2 304.3 433.5 307.0 434.8 305.9 C436.1 304.9 435.2 300.4 435.7 298.0 C436.2 295.6 437.2 291.8 438.1 291.5 C438.9 291.2 440.6 293.8 441.0 296.2 C441.4 298.6 439.9 303.5 440.4 305.9 C441.0 308.3 443.8 308.8 444.2 310.6 C444.7 312.5 445.1 315.7 443.4 316.8 C441.6 318.0 436.8 317.2 433.9 317.7 C431.0 318.3 427.5 318.6 426.0 320.1 C424.4 321.6 425.8 324.8 424.5 326.6 C423.2 328.3 420.4 330.1 418.0 330.4 C415.6 330.6 411.6 329.5 410.1 328.0 C408.5 326.6 408.0 324.7 408.6 321.8Z" fill="#8C45A0"/><path d="M424.3 316.6h0M422.1 315.6h0M421.4 312.7h0M421.1 317.6h0M414.2 331.7h0M419.2 327.2h0M419.2 326.2h0M420.5 326.8h0M415.6 330.4h0M417.9 330.8h0M430.3 302.7h0M434.8 304.7h0M428.6 300.8h0M424.4 315.7h0M429.4 313.9h0M425.8 311.6h0M427.1 311.2h0M425.1 316.3h0M426.7 307.9h0M423.9 309.6h0M424.9 311.5h0M430.0 316.8h0M419.0 327.4h0M419.6 327.1h0M419.3 323.8h0M423.0 326.6h0M422.3 323.5h0M419.9 325.9h0M419.7 325.3h0M419.6 328.4h0M417.1 325.3h0M438.5 299.5h0M439.1 298.2h0M437.9 297.6h0M436.5 299.5h0M437.9 297.3h0" stroke="#fff" stroke-width="1.10" stroke-linecap="round" fill="none"/><path d="M410.7 311.4h0M437.5 303.3h0M411.6 314.1h0M423.5 305.3h0M414.1 330.8h0M434.1 320.4h0M438.1 315.9h0M434.1 303.0h0M425.2 320.5h0M436.0 292.4h0M443.4 308.5h0M426.4 320.7h0M410.6 328.8h0M424.6 319.3h0M432.9 318.6h0M438.1 306.6h0M426.8 303.0h0M436.1 295.1h0M444.3 306.7h0M443.2 317.2h0M427.6 325.3h0M412.4 311.1h0M417.9 328.1h0M408.1 323.4h0M442.5 311.4h0M440.1 288.8h0M419.7 304.1h0M420.0 306.2h0M413.7 330.3h0M435.6 304.0h0M439.5 292.1h0M440.5 293.8h0M410.0 321.7h0M422.9 306.4h0M422.4 321.9h0M438.5 293.5h0M418.0 330.2h0M414.8 308.6h0M420.1 306.4h0M407.5 321.0h0M441.8 295.3h0M434.1 304.1h0M417.5 308.4h0M422.7 326.2h0M436.7 298.8h0M434.4 304.4h0M438.1 291.4h0M427.4 317.4h0M420.0 328.2h0M445.1 304.5h0M444.9 309.4h0M429.3 308.1h0M426.8 304.6h0M414.4 311.1h0M439.5 298.5h0M406.8 323.6h0M426.6 316.0h0M426.3 319.2h0M439.8 319.4h0M410.1 327.8h0M410.9 322.6h0M433.3 296.8h0M429.9 319.1h0M435.0 317.8h0M427.0 305.2h0M409.3 315.4h0M408.3 318.7h0M436.0 305.2h0M420.9 304.6h0M411.7 315.5h0M443.7 310.6h0M409.5 324.9h0M441.4 306.9h0M428.5 302.8h0M418.3 307.2h0M429.5 305.7h0M424.9 324.4h0M442.5 308.0h0M435.9 301.8h0M439.5 300.5h0M440.3 294.7h0M425.6 316.9h0M431.1 307.0h0M428.8 303.0h0M419.7 303.4h0M407.9 321.7h0M426.5 322.9h0M414.1 327.9h0M433.2 306.0h0M441.5 310.7h0M439.2 315.7h0M422.2 326.3h0M439.0 297.3h0M436.7 294.9h0M412.7 329.4h0M413.8 310.5h0M437.9 294.6h0M434.7 302.7h0M410.1 327.8h0M416.5 307.7h0" stroke="#8C45A0" stroke-width="1.40" stroke-linecap="round" fill="none"/><path d="M441.8 307.2h0M410.4 325.3h0M417.6 306.9h0M423.4 328.4h0M408.6 324.3h0M443.9 310.3h0M440.8 303.9h0M440.5 303.1h0M443.1 318.4h0M424.7 324.6h0M415.5 329.9h0M429.7 319.8h0M416.3 307.6h0M429.7 320.1h0M441.7 304.0h0M443.8 316.1h0M414.7 309.8h0M444.4 310.4h0M440.4 300.4h0M444.2 310.7h0M430.5 305.0h0M408.4 322.7h0M411.2 328.4h0M434.7 305.3h0M426.1 320.7h0M409.8 318.1h0M416.1 330.5h0M421.0 303.5h0M434.5 305.8h0M413.7 309.2h0M443.9 316.0h0M436.6 296.7h0M419.3 303.7h0M436.9 295.5h0M429.6 319.2h0M435.9 303.9h0M436.3 294.6h0M420.4 329.3h0M437.2 292.0h0M425.3 326.1h0M415.7 309.1h0M435.0 301.7h0M442.3 308.6h0" stroke="#fff" stroke-width="1.50" stroke-linecap="round" fill="none"/><path d="M423.2 303.6h0M435.9 295.8h0M434.3 307.0h0M443.6 317.3h0M441.5 311.0h0M439.8 318.3h0M423.9 306.7h0M411.1 317.2h0M438.5 304.8h0M437.0 296.9h0M409.8 324.4h0M433.5 300.8h0M412.1 315.1h0M436.8 294.2h0M428.7 324.6h0M426.6 322.0h0M409.5 322.6h0M443.8 315.5h0M426.4 302.1h0M445.6 318.2h0M425.3 324.5h0M429.7 321.0h0M428.8 302.4h0M431.9 306.1h0M420.1 328.8h0M417.8 304.6h0M419.6 328.1h0M433.8 305.4h0M415.4 312.3h0M439.8 293.9h0M416.5 332.0h0M440.2 291.6h0M445.0 317.7h0M419.8 328.7h0M434.1 302.0h0M438.5 298.8h0M424.1 327.2h0M423.7 325.5h0M408.2 322.4h0M421.4 325.6h0M437.6 295.3h0M438.8 289.2h0M419.0 330.1h0" stroke="#8C45A0" stroke-width="1.30" stroke-linecap="round" fill="none"/>
<path d="M472.2 312.4 C475.1 310.4 481.4 309.2 487.3 310.1 C493.1 310.9 502.5 314.5 507.3 317.4 C512.1 320.3 514.2 323.7 515.9 327.4 C517.5 331.2 517.7 335.3 517.3 339.8 C516.9 344.4 515.6 350.7 513.5 354.9 C511.4 359.0 507.0 365.1 504.7 364.9 C502.3 364.7 502.5 356.4 499.6 353.7 C496.7 351.0 490.8 350.3 487.3 348.7 C483.7 347.0 480.5 346.4 478.4 343.7 C476.4 341.0 476.3 336.0 474.9 332.5 C473.5 328.9 470.3 325.8 469.9 322.4 C469.4 319.1 469.3 314.5 472.2 312.4Z" fill="#2E7CB9"/><path d="M505.2 331.7h0M501.1 331.3h0M504.3 328.4h0M503.2 333.6h0M503.7 331.1h0M494.1 346.0h0M489.6 346.3h0M493.5 343.0h0M489.9 344.2h0M490.5 342.9h0M491.7 347.7h0M494.1 349.6h0M475.5 324.0h0M474.3 316.7h0M475.4 318.4h0M473.7 315.6h0M474.4 320.4h0M474.3 318.2h0M473.4 317.4h0M476.5 317.8h0M475.5 317.6h0M476.3 316.2h0M500.0 336.8h0M502.2 333.0h0M501.8 331.8h0M500.7 332.2h0M498.8 333.3h0M499.1 336.1h0M500.0 332.5h0M501.7 333.1h0M500.6 336.0h0M498.9 333.6h0M498.4 335.9h0M495.0 337.7h0M502.8 316.4h0M496.1 318.0h0M496.1 321.1h0M497.2 315.9h0M511.9 329.9h0M512.8 327.9h0M516.2 327.4h0M510.3 326.8h0M494.3 340.4h0M498.3 342.5h0M491.8 343.6h0M494.3 342.3h0M494.1 341.8h0M493.5 342.0h0M493.6 344.6h0M484.5 338.3h0M481.2 344.6h0M479.3 338.5h0M482.5 344.8h0M479.0 342.7h0M481.8 341.3h0M482.1 340.6h0M483.8 321.8h0M482.2 326.4h0M477.1 329.7h0M480.5 330.8h0M483.4 326.2h0M483.4 324.8h0M475.4 323.4h0M473.5 320.4h0M472.4 320.4h0M470.7 317.6h0M472.9 318.0h0M473.5 324.0h0M508.5 335.1h0M508.9 337.4h0M507.9 335.0h0M512.5 339.0h0M510.6 338.2h0M506.2 334.3h0M508.5 339.9h0M509.8 336.7h0M471.9 326.2h0M473.7 326.5h0M470.1 327.2h0M474.2 326.5h0M474.8 327.9h0M472.2 324.9h0M474.5 323.0h0M478.3 322.0h0M498.7 352.9h0M497.6 347.0h0M500.5 348.9h0M498.5 354.0h0M495.9 350.0h0M500.5 346.0h0M498.9 347.5h0M502.1 347.9h0M499.8 345.4h0M496.6 348.5h0M500.7 349.9h0M504.7 345.5h0M501.5 349.4h0M506.1 352.6h0M504.9 351.3h0M504.7 354.6h0M501.5 348.9h0M504.7 350.9h0M504.3 350.4h0M502.1 351.9h0M507.1 329.2h0M509.5 328.4h0M508.2 330.5h0M506.7 329.8h0M507.0 331.5h0M493.9 328.3h0M487.1 329.8h0M485.5 329.0h0M489.1 347.3h0M494.4 352.0h0M493.1 354.4h0M491.9 349.5h0M491.6 354.3h0M489.9 348.9h0M491.2 349.2h0M489.7 349.7h0M492.0 349.8h0M490.4 348.3h0M489.3 337.9h0M490.7 331.7h0M490.1 334.1h0M488.3 335.5h0M484.4 334.9h0M486.0 338.2h0M482.0 334.4h0M489.0 336.5h0M484.3 335.3h0M499.4 337.3h0M501.4 333.4h0M503.4 335.3h0M503.8 332.9h0M505.2 342.0h0M498.0 341.9h0M498.3 342.1h0M505.2 343.8h0M504.2 341.9h0M502.6 340.8h0M502.2 344.4h0M502.6 334.4h0M501.1 330.3h0M502.9 331.8h0M498.0 335.4h0M502.9 332.7h0M497.1 330.7h0M497.4 328.9h0M503.5 328.7h0M501.8 332.9h0M492.4 338.8h0M497.0 337.9h0M495.0 336.4h0M494.3 338.4h0M494.1 339.6h0M496.8 337.5h0M507.7 356.8h0M508.4 357.0h0M507.9 354.8h0M498.6 358.7h0M499.5 354.5h0M502.0 354.6h0M501.0 352.1h0M504.1 354.8h0M504.8 349.0h0M502.0 353.2h0M500.6 354.2h0M506.8 350.1h0M504.7 350.1h0M502.4 351.8h0M502.9 352.1h0M504.8 349.8h0M504.4 351.1h0M514.8 341.3h0M509.3 339.4h0M507.3 342.8h0M512.1 342.2h0M509.0 336.3h0M514.4 337.3h0M514.7 336.7h0M513.3 334.9h0M513.3 335.1h0M512.4 335.3h0M512.8 332.9h0M511.2 334.0h0M510.9 335.6h0M514.5 339.2h0M479.2 320.8h0M477.5 323.3h0M476.1 321.6h0M477.4 320.1h0M479.2 320.0h0M477.5 317.7h0M516.9 340.0h0M513.2 339.2h0M516.2 337.0h0M514.7 337.3h0M517.5 338.3h0M506.1 366.7h0M506.4 362.9h0M502.9 365.0h0M504.5 363.3h0M503.3 361.5h0M504.6 362.7h0M504.8 360.6h0M507.5 365.4h0M503.3 340.1h0M503.3 337.5h0M508.2 340.3h0M503.1 337.8h0M505.9 337.6h0M501.2 335.7h0M504.3 336.3h0M506.0 339.8h0M506.7 336.5h0M501.4 336.2h0M481.7 339.5h0M485.2 338.8h0M488.2 341.5h0M481.5 339.9h0M483.2 343.3h0M485.3 343.5h0M486.2 338.0h0M481.4 338.5h0M505.8 351.8h0M507.8 346.8h0M505.7 352.4h0M507.1 351.2h0M509.8 347.1h0M507.4 346.3h0M498.7 339.4h0M495.4 341.2h0M495.4 336.9h0M494.1 337.7h0M499.3 338.1h0M493.6 313.1h0M497.0 314.8h0M493.7 315.0h0M494.3 315.0h0M493.6 314.0h0M493.8 315.3h0M497.8 316.5h0M486.9 314.9h0M487.0 321.7h0M488.3 316.4h0M488.7 320.0h0M485.5 317.9h0M486.7 318.4h0M506.1 349.3h0M498.9 349.8h0M502.5 351.0h0M499.6 349.5h0M502.5 351.2h0M506.0 349.0h0M501.0 357.7h0M499.7 353.2h0M501.1 351.4h0M504.4 350.1h0M511.7 327.4h0M510.2 328.4h0M509.5 327.8h0M507.7 331.3h0M510.4 330.8h0M511.0 328.3h0M510.4 328.6h0M509.2 331.9h0M510.9 330.2h0M509.0 327.7h0M495.3 341.8h0M498.1 338.8h0M496.8 336.5h0M479.0 335.0h0M473.3 329.6h0M479.0 333.9h0M477.8 332.0h0M477.5 333.8h0M480.5 330.1h0M494.6 314.4h0M492.5 309.3h0M491.7 312.9h0M490.6 311.2h0M494.0 313.4h0M495.4 314.2h0M495.9 313.9h0M493.1 313.7h0M495.1 315.2h0M479.9 323.2h0M476.8 318.6h0M477.3 319.1h0M479.0 322.5h0M502.7 326.1h0M503.3 326.0h0M504.1 323.9h0M478.5 335.9h0M480.1 334.8h0M478.0 335.0h0M480.8 335.9h0M511.6 334.9h0M506.3 334.9h0M507.5 332.5h0M507.1 331.5h0M489.0 346.0h0M485.8 343.3h0M491.5 346.2h0M510.0 341.8h0M510.1 340.1h0M510.4 341.3h0M511.9 338.5h0M511.0 339.6h0M512.8 342.8h0M486.0 317.1h0M488.1 314.2h0M486.4 313.7h0M481.3 314.7h0M487.2 311.0h0M489.9 315.1h0M486.4 316.4h0M483.6 313.5h0M503.8 329.6h0M503.0 327.0h0M502.5 330.3h0M501.2 327.5h0M504.3 327.8h0M501.2 328.6h0M498.2 327.2h0M501.4 330.6h0M500.0 328.5h0M491.6 331.4h0M493.7 331.2h0M491.8 327.9h0M493.7 329.5h0M493.6 328.8h0M493.9 328.0h0M493.4 332.6h0M491.9 331.7h0M477.9 331.4h0M480.2 333.0h0M479.4 331.6h0M480.2 332.6h0M479.5 331.1h0M480.8 332.2h0M477.7 335.4h0M478.2 332.5h0M479.2 332.3h0M500.4 322.8h0M497.3 323.0h0M500.1 324.0h0M501.4 324.8h0M499.6 329.4h0M499.7 324.2h0M480.4 327.2h0M482.9 326.4h0M482.7 330.9h0M484.0 330.6h0M482.0 331.3h0M484.3 332.0h0M483.9 327.1h0" stroke="#fff" stroke-width="1.40" stroke-linecap="round" fill="none"/><path d="M498.7 354.7h0M515.1 332.1h0M484.1 347.5h0M506.0 362.4h0M479.3 341.8h0M477.8 344.7h0M500.6 315.9h0M475.4 333.5h0M503.1 360.5h0M501.0 356.4h0M508.4 316.7h0M495.6 312.6h0M508.2 358.5h0M501.5 357.2h0M476.3 311.6h0M497.1 314.2h0M515.7 335.1h0M474.6 327.4h0M512.0 355.4h0M501.9 361.1h0M469.2 319.2h0M476.6 312.9h0M519.2 337.5h0M486.5 347.4h0M517.4 338.0h0M477.7 342.8h0M487.2 348.6h0M475.4 329.7h0M476.7 340.3h0M507.3 363.2h0M476.1 336.3h0M500.6 351.7h0M504.4 359.2h0M513.0 324.9h0M507.4 362.7h0M512.2 355.3h0M472.7 318.2h0M500.6 359.1h0M477.3 338.0h0M473.8 315.3h0M502.4 362.3h0M499.4 315.2h0M514.2 322.7h0M491.9 348.6h0M505.9 362.1h0M474.9 330.4h0M508.4 362.1h0M472.1 327.4h0M485.1 347.3h0M500.4 356.9h0M504.4 361.3h0M482.4 347.0h0M478.5 338.1h0M482.4 347.5h0M476.9 339.4h0M498.5 315.8h0M475.5 331.0h0M473.7 330.4h0M493.3 350.5h0M468.1 319.9h0M472.1 327.5h0M480.0 311.6h0M503.8 358.4h0M497.8 313.7h0M517.4 341.6h0M515.6 332.2h0M511.1 357.4h0M482.5 311.5h0M483.4 346.3h0M517.6 335.8h0M498.7 352.7h0M504.7 358.6h0M508.0 360.9h0M476.9 331.9h0M474.0 315.8h0M508.4 317.2h0M517.1 341.6h0M510.9 323.4h0M469.8 322.7h0M481.3 310.1h0M493.2 350.8h0M515.6 344.1h0M479.6 311.6h0M501.0 355.2h0M476.8 311.9h0M472.4 317.5h0M471.2 327.2h0M481.3 345.7h0M476.4 343.0h0M477.2 343.1h0M502.6 361.7h0M476.7 335.5h0M497.8 310.3h0M502.6 359.8h0M505.4 314.3h0M478.8 342.2h0M476.3 339.7h0M517.6 329.2h0M505.0 317.3h0M512.6 325.2h0M511.3 323.6h0M476.6 336.4h0M515.5 326.9h0M492.2 350.0h0M471.1 323.0h0M515.5 322.3h0M516.8 334.8h0M487.4 349.9h0M505.8 361.5h0M512.8 354.6h0M503.8 357.9h0M512.9 323.5h0M508.8 362.3h0M483.5 346.3h0M475.9 311.1h0M502.5 317.7h0M501.4 315.9h0M514.1 328.0h0M476.3 336.3h0M488.9 311.6h0M476.3 338.8h0M512.8 355.2h0M504.0 363.6h0M491.1 348.7h0M478.1 340.5h0M515.7 325.8h0M494.8 354.0h0M488.9 350.5h0" stroke="#2E7CB9" stroke-width="1.40" stroke-linecap="round" fill="none"/><path d="M514.4 347.5h0M475.6 335.2h0M501.9 358.2h0M501.1 313.1h0M473.5 327.2h0M513.0 353.4h0M484.5 346.1h0M476.9 342.0h0M511.4 322.0h0M487.4 309.6h0M475.0 336.1h0M513.1 322.2h0M506.9 362.0h0M483.1 311.7h0M505.9 360.9h0M477.3 337.5h0M470.5 325.6h0M509.0 317.6h0M507.8 359.6h0M508.2 319.7h0M505.8 316.4h0M494.0 311.9h0M471.8 316.3h0M500.3 353.2h0M498.4 314.3h0M516.7 336.2h0M513.9 350.8h0M511.2 358.6h0M517.0 333.2h0M483.5 311.5h0M471.9 327.4h0M471.6 318.3h0M514.1 348.9h0M470.6 322.8h0M516.6 337.6h0M502.3 359.8h0M471.8 317.3h0M504.7 316.4h0M483.4 346.6h0M487.5 349.6h0M479.0 343.4h0M510.7 357.4h0M476.8 336.6h0M469.7 322.9h0M480.6 310.3h0M505.7 363.7h0M512.1 324.6h0M493.1 312.0h0M502.4 315.5h0M479.7 343.8h0M473.8 327.9h0M516.2 330.7h0M518.2 340.8h0M482.9 310.2h0M492.9 312.4h0M514.9 350.5h0M507.4 362.6h0M490.9 350.8h0M492.1 351.0h0M472.5 328.7h0M503.3 357.7h0M476.3 312.3h0M512.1 321.9h0M477.9 340.3h0M510.3 321.9h0M500.8 358.8h0M487.7 347.3h0M474.8 331.3h0M499.6 354.8h0M475.6 336.6h0M483.0 346.6h0M497.3 352.4h0M475.5 334.1h0M500.4 355.2h0M472.5 327.0h0M510.7 322.3h0M492.7 350.8h0M471.4 313.5h0M491.0 351.1h0M508.4 318.4h0M500.5 354.5h0M516.8 343.7h0M482.2 347.4h0M515.1 351.3h0M505.4 318.8h0M482.4 346.2h0M515.9 332.0h0M500.3 352.6h0M498.6 353.9h0M513.7 325.4h0M469.9 321.6h0M476.0 339.1h0M497.6 353.5h0M472.7 317.8h0M515.3 347.1h0M483.5 348.2h0M502.4 357.6h0M491.1 352.2h0M512.9 323.8h0M514.5 351.1h0M503.9 318.1h0M473.2 328.8h0M517.0 344.1h0M489.3 350.7h0M487.3 348.9h0M479.3 344.0h0M517.4 330.5h0M475.0 331.1h0M489.6 311.3h0M500.4 313.8h0M470.8 319.6h0M508.2 359.0h0" stroke="#fff" stroke-width="1.50" stroke-linecap="round" fill="none"/><path d="M492.2 350.1h0M470.3 315.1h0M502.1 361.7h0M509.3 322.7h0M515.9 337.9h0M509.4 356.6h0M489.6 349.9h0M518.2 342.0h0M475.3 340.4h0M469.3 321.1h0M508.1 361.8h0M516.3 334.2h0M482.5 345.4h0M485.2 349.4h0M516.2 342.6h0M476.5 338.3h0M489.1 350.1h0M502.8 353.6h0M502.8 359.5h0M506.9 362.8h0M509.8 319.7h0M479.3 336.3h0M517.2 329.2h0M476.8 341.8h0M486.1 307.9h0M504.9 359.6h0M480.4 310.1h0M494.3 348.2h0M516.5 331.5h0M497.7 352.4h0M518.3 329.8h0M467.3 315.3h0M515.5 327.7h0M501.0 363.3h0M515.6 333.6h0M509.8 359.4h0M480.1 344.1h0M495.2 313.8h0M515.5 332.2h0M516.0 350.1h0M500.7 355.5h0M476.7 334.9h0M513.7 351.0h0M480.0 341.9h0M488.9 347.8h0M473.9 311.6h0M471.6 329.3h0M513.4 357.2h0M495.8 308.0h0M478.4 340.5h0M503.5 316.4h0M499.8 360.1h0M514.3 327.9h0M498.0 350.4h0M471.6 318.3h0M502.1 315.4h0M498.9 355.6h0M472.2 318.7h0M480.5 345.6h0M487.7 352.3h0M503.3 317.1h0M509.8 318.0h0M491.3 351.9h0M495.1 352.4h0M516.0 346.9h0M506.0 318.2h0M471.6 323.4h0M492.0 311.0h0M469.5 312.2h0M489.0 308.2h0M505.0 317.8h0M470.5 317.3h0M474.2 313.9h0M485.0 344.9h0M512.8 323.8h0M510.6 319.2h0M488.1 309.5h0M477.5 313.7h0M476.1 312.1h0M475.2 327.0h0M508.4 322.1h0M508.0 360.4h0M472.6 333.4h0M516.5 352.0h0M471.1 327.2h0M473.3 329.9h0M513.8 353.3h0M511.2 321.6h0M502.5 316.0h0M476.7 330.9h0M486.8 309.8h0M509.0 318.6h0M481.4 345.9h0M491.0 312.0h0M473.9 333.3h0M481.3 314.0h0M516.4 338.3h0M500.3 357.7h0M509.0 357.3h0M495.9 314.2h0M503.9 358.2h0M490.8 311.8h0M485.2 345.6h0M506.6 363.0h0M470.7 328.2h0M506.3 361.1h0M508.7 360.5h0M475.3 331.9h0M486.2 310.1h0M514.9 356.4h0M469.8 319.8h0M509.0 318.2h0" stroke="#2E7CB9" stroke-width="1.30" stroke-linecap="round" fill="none"/>
<path d="M448.2 338.9h0M451.9 338.4h0M457.4 327.3h0M441.1 338.7h0M450.7 329.7h0M438.6 335.8h0M448.8 334.3h0M444.3 336.1h0M449.9 338.1h0M440.7 334.3h0M454.8 325.9h0M453.6 335.7h0M449.1 342.3h0M444.4 335.9h0M445.7 334.0h0M440.3 335.5h0M452.5 325.7h0M452.4 337.7h0M451.0 332.7h0M441.0 341.7h0M454.1 339.3h0M452.3 326.0h0M456.7 332.0h0M451.1 323.7h0M444.6 334.7h0M457.7 329.6h0M441.5 342.0h0M439.3 334.8h0M450.8 336.7h0M444.0 335.9h0M441.7 339.8h0M452.5 332.1h0M443.7 330.4h0M448.4 333.4h0M441.6 333.4h0M447.3 331.9h0M450.1 338.5h0M448.1 327.9h0M455.8 326.8h0M453.7 324.1h0M454.3 330.2h0M452.3 326.1h0M456.1 333.3h0M449.5 335.4h0M439.2 334.3h0M449.1 325.0h0M450.9 334.1h0M454.9 328.2h0M449.6 331.3h0M447.1 326.0h0M442.5 341.5h0M454.4 333.0h0M455.4 331.2h0M451.1 343.1h0M442.7 338.3h0M454.0 335.0h0M454.8 339.2h0M443.1 338.5h0M453.3 338.0h0M447.4 340.4h0M455.0 334.4h0M444.6 335.4h0M456.3 329.8h0M450.7 338.8h0M449.4 343.6h0M443.5 341.4h0M452.5 332.5h0M455.5 335.7h0M444.8 332.9h0M446.1 328.6h0M444.8 332.7h0M448.6 333.0h0M454.4 334.6h0M444.5 336.9h0M452.7 337.7h0M446.1 327.2h0M445.5 325.6h0M454.5 328.4h0M444.4 343.0h0M449.3 338.5h0M443.0 338.9h0M445.9 337.5h0M454.5 329.1h0M455.4 326.4h0M451.3 341.0h0M448.7 329.2h0M443.6 328.4h0M449.3 323.7h0M446.2 344.8h0M456.5 336.1h0M438.9 336.2h0M444.5 341.7h0M449.9 341.5h0M442.9 331.3h0M449.1 333.7h0M451.0 329.5h0M453.3 323.4h0M443.6 330.8h0M446.1 331.5h0M444.8 336.0h0M448.1 334.9h0M453.2 326.7h0M446.7 339.3h0M447.4 344.5h0M450.5 343.7h0M452.7 324.7h0M448.6 323.9h0M441.8 340.9h0M452.4 340.5h0M453.2 337.3h0M446.7 331.0h0M444.3 326.9h0M449.7 328.7h0M454.1 330.9h0M449.1 336.5h0M453.2 334.9h0M446.5 327.2h0M442.8 340.8h0M451.6 337.6h0M456.3 326.2h0M455.8 331.4h0M445.4 328.8h0M447.8 338.2h0M448.9 341.3h0M452.0 337.6h0M440.4 338.5h0M455.4 332.1h0M453.0 332.4h0M443.8 344.2h0M441.1 337.7h0M450.3 324.7h0M450.7 324.6h0M449.5 336.7h0M453.9 332.1h0M451.4 338.6h0M448.4 344.9h0M449.2 328.4h0M447.8 339.9h0M447.8 333.1h0M444.6 329.4h0M445.6 331.0h0M452.4 336.8h0M443.5 343.0h0M451.5 338.6h0M454.3 336.8h0M453.3 341.4h0M439.5 338.9h0M455.5 328.9h0M445.9 343.4h0M457.2 328.4h0M448.3 334.4h0M450.0 327.6h0M445.9 343.1h0M443.0 343.2h0M456.9 329.1h0M440.6 334.0h0M443.7 336.6h0M452.7 326.8h0M441.1 338.3h0M448.5 329.6h0M443.9 337.2h0M453.8 326.2h0M442.0 332.0h0M446.9 334.2h0M450.8 328.2h0M453.1 329.3h0M452.4 336.3h0M452.5 325.0h0M452.5 331.3h0M443.0 337.4h0M443.5 339.5h0M452.0 342.5h0M449.5 341.2h0" stroke="#44A044" stroke-width="1.70" stroke-linecap="round" fill="none"/>
<path d="M427.7 356.9h0M441.1 373.4h0M452.0 357.8h0M451.5 354.6h0M441.9 368.4h0M446.7 352.6h0M452.1 353.5h0M434.2 355.7h0M444.0 375.0h0M433.2 362.4h0M438.0 354.7h0M438.9 364.9h0M432.5 350.6h0M425.4 358.3h0M427.6 345.9h0M436.1 374.7h0M433.3 368.8h0M456.3 354.1h0M431.9 368.5h0M436.4 362.1h0M451.9 348.0h0M430.2 368.8h0M425.5 363.5h0M439.0 354.4h0M453.3 348.4h0M442.5 354.3h0M426.8 357.0h0M435.9 347.9h0M430.9 357.6h0M425.2 352.1h0M454.5 355.0h0M434.0 367.0h0M439.3 367.1h0M441.6 377.0h0M448.8 357.6h0M441.3 349.7h0M441.0 363.2h0M439.2 373.3h0M435.6 375.4h0M438.7 363.0h0M434.1 354.8h0M447.8 358.1h0M440.3 371.5h0M437.3 365.8h0M439.0 369.8h0M424.5 359.2h0M439.8 350.6h0M449.8 352.7h0M437.3 363.8h0M446.9 357.0h0M450.4 352.4h0M447.6 360.1h0M438.4 362.0h0M431.1 367.9h0M449.7 358.1h0M437.2 362.2h0M452.0 355.8h0M432.7 349.7h0M421.3 352.5h0M440.7 354.9h0M435.7 368.7h0M437.2 356.6h0M438.9 376.8h0M433.6 367.4h0M439.0 372.7h0M439.4 378.0h0M420.2 356.8h0M442.1 355.7h0M421.1 347.6h0M423.7 360.9h0M444.3 363.1h0M445.5 356.2h0M425.8 364.8h0M451.7 357.0h0M434.3 359.2h0M454.4 351.1h0M431.3 346.7h0M429.9 360.4h0M439.4 375.2h0M421.4 344.9h0M440.4 357.3h0M439.7 352.0h0M434.6 354.2h0M452.0 355.6h0M440.5 358.0h0M437.3 357.9h0M423.5 359.8h0M431.3 356.7h0M432.7 370.0h0M442.4 375.4h0M427.8 346.5h0M431.6 359.9h0M457.5 352.2h0M445.8 359.2h0M427.7 347.5h0M423.9 344.9h0M448.1 351.1h0M430.0 349.6h0M433.2 365.9h0M438.2 354.9h0M451.2 359.6h0M449.2 357.7h0M420.4 348.8h0M430.1 360.1h0M452.9 354.4h0M434.6 360.9h0M437.9 362.4h0M433.5 345.5h0M448.2 350.9h0M437.5 360.4h0M431.8 360.7h0M444.2 359.9h0M433.1 355.8h0M424.0 357.3h0M440.4 362.2h0M433.8 361.7h0M447.0 355.5h0M426.8 350.4h0M445.8 350.1h0M441.6 360.5h0M423.9 348.3h0M430.2 364.9h0M435.8 362.7h0M431.4 362.5h0M424.5 352.7h0M425.0 362.3h0M430.9 366.7h0M432.6 348.3h0M435.8 354.6h0M421.8 346.5h0M433.6 345.6h0M433.1 370.1h0M446.7 353.9h0M421.8 350.1h0M428.9 352.2h0M438.2 368.6h0M439.1 353.0h0M450.7 358.9h0M437.5 361.5h0M422.6 356.7h0M425.6 361.7h0M424.2 344.3h0M441.6 366.5h0M448.3 353.8h0M437.9 369.9h0M431.8 344.7h0M430.6 368.3h0M439.1 363.2h0M441.2 358.1h0M449.3 348.2h0M427.1 345.8h0M449.4 358.6h0M444.4 349.1h0M429.1 346.8h0M429.0 352.5h0M444.2 356.4h0M430.1 358.4h0M449.5 348.4h0M424.3 362.4h0M437.3 359.2h0M419.7 354.5h0M424.0 363.2h0M439.3 362.6h0M428.5 351.9h0M437.9 363.7h0M445.1 357.9h0M439.3 352.4h0M442.1 370.5h0M436.5 350.7h0M435.9 352.4h0M443.2 350.5h0M449.5 348.7h0M448.2 360.7h0M443.1 375.2h0M434.7 364.7h0M442.9 375.2h0M433.4 350.9h0M427.9 360.2h0M433.5 346.3h0M432.6 367.0h0M443.8 374.0h0M443.1 357.7h0M437.7 358.4h0M437.9 356.8h0M453.8 357.5h0M436.8 347.6h0M429.6 354.2h0M421.9 352.1h0M426.9 355.3h0M429.8 359.2h0M430.0 362.5h0M436.9 362.4h0M436.4 371.4h0M432.6 356.9h0M425.4 355.0h0M445.2 352.0h0M431.9 347.4h0M434.8 357.3h0M442.1 376.2h0M450.1 356.1h0M436.3 356.1h0M422.7 354.1h0M432.6 361.4h0M439.1 374.2h0M420.9 347.0h0M425.6 357.7h0M435.7 362.9h0M439.8 368.3h0M433.3 371.7h0M453.0 349.2h0M446.8 359.4h0M421.6 347.2h0M436.1 375.7h0M440.3 358.9h0M433.7 364.5h0M428.3 352.6h0M448.5 348.9h0M436.2 367.1h0M443.3 361.6h0M420.5 351.8h0M432.8 346.2h0M442.6 368.2h0M442.4 375.0h0M441.6 366.4h0M442.3 350.7h0M424.3 349.7h0M442.1 370.9h0M436.6 376.9h0M446.4 357.7h0M428.2 365.2h0M437.8 353.4h0M443.3 368.0h0M445.4 359.4h0M427.9 353.6h0M434.4 360.6h0M423.2 352.1h0M437.3 351.6h0M440.3 374.9h0M436.3 350.5h0M434.6 353.5h0M427.0 352.2h0M428.1 347.2h0M430.9 358.0h0M435.3 356.4h0M424.4 351.7h0M454.0 350.4h0M429.9 357.0h0M449.8 356.2h0M441.2 352.5h0M456.0 351.7h0M439.6 365.8h0M447.6 354.9h0M430.6 343.5h0M433.7 365.1h0M428.0 354.4h0M436.2 365.9h0M433.7 369.0h0M427.1 358.0h0M438.4 373.4h0M438.6 354.6h0M438.6 349.2h0M426.7 365.3h0M432.9 362.4h0M448.9 355.2h0M442.5 372.1h0M441.9 360.4h0M451.8 350.8h0M438.8 358.8h0M441.6 366.0h0M432.4 368.9h0M425.7 349.8h0M443.2 355.8h0M440.0 357.1h0M436.7 347.4h0M430.9 363.1h0M434.5 368.1h0M427.3 362.0h0M434.8 361.1h0M423.3 347.6h0M438.5 365.2h0M423.8 351.7h0M442.1 359.5h0M431.6 361.4h0M431.4 362.6h0M433.4 371.8h0M433.8 366.3h0M438.2 378.1h0M425.2 354.5h0M436.5 351.5h0M433.2 354.2h0M449.9 354.0h0M432.0 351.4h0M441.8 377.5h0M438.6 359.9h0M427.4 351.5h0M451.7 348.8h0M444.3 361.3h0M426.8 351.0h0M425.0 350.5h0M443.4 350.7h0M440.7 371.9h0M442.4 362.5h0M430.3 361.5h0M420.9 349.9h0M434.1 350.9h0M448.6 356.7h0M430.5 355.1h0M447.4 360.4h0M439.9 349.9h0M443.7 355.3h0M425.0 350.2h0M435.3 370.9h0M434.6 366.3h0M436.0 358.9h0M426.5 360.6h0M447.9 357.5h0M432.3 368.9h0M423.4 362.1h0M440.4 372.2h0M448.0 354.6h0M440.0 362.6h0M433.5 371.5h0M421.3 355.5h0M443.2 361.0h0M439.3 361.5h0M437.1 367.8h0M431.5 349.5h0M437.2 347.4h0M425.7 348.7h0M449.2 355.5h0M434.5 353.0h0M424.8 364.3h0M431.0 347.2h0M442.3 351.4h0M437.6 372.9h0M429.6 346.4h0M437.4 365.0h0M427.3 344.4h0M434.7 357.2h0M420.6 351.0h0M442.7 355.0h0M441.5 365.2h0M439.5 350.6h0M425.7 347.1h0M432.2 370.1h0M420.9 359.6h0M449.4 348.3h0M434.1 352.0h0M439.4 378.9h0M428.3 365.2h0M422.5 354.6h0M450.8 349.6h0M438.8 364.2h0M442.3 351.2h0M457.3 351.1h0M427.0 348.2h0M445.2 358.5h0M440.2 368.3h0M453.0 349.5h0M447.6 358.7h0M425.9 355.8h0M430.0 368.2h0M433.8 366.8h0M439.0 351.0h0M456.1 352.8h0M434.0 371.6h0M442.6 362.7h0M434.1 369.6h0M433.5 344.5h0M435.0 349.0h0M434.3 364.6h0M455.2 352.7h0M432.4 365.2h0M432.3 367.5h0M422.8 346.7h0M420.8 350.5h0M440.2 352.0h0M455.4 354.4h0M425.2 364.3h0M450.5 349.7h0M433.4 346.3h0M451.6 354.3h0M436.3 369.3h0M440.6 352.1h0M441.3 368.8h0M434.9 351.3h0M436.7 360.1h0M437.0 374.2h0" stroke="#44A044" stroke-width="1.70" stroke-linecap="round" fill="none"/>
<path d="M438.3 345.3h0M433.3 369.3h0M440.2 347.3h0M426.5 350.8h0M442.2 346.8h0M433.6 353.9h0M437.5 364.8h0M428.4 344.9h0M451.1 345.2h0M444.3 376.7h0M449.1 344.3h0M450.2 370.3h0M452.4 370.5h0M430.3 356.0h0M438.6 338.1h0M438.9 337.2h0M433.1 366.0h0M429.6 352.8h0M445.5 352.1h0M448.4 329.3h0M451.9 338.1h0M429.6 339.0h0M455.3 325.8h0M446.0 379.3h0M430.3 369.5h0M431.0 343.2h0M456.4 342.8h0M427.1 366.6h0M454.2 339.9h0M452.9 365.4h0M454.4 335.4h0M456.7 341.8h0M426.0 347.6h0M448.7 376.3h0M429.0 359.3h0M436.8 375.9h0M426.3 360.3h0M445.0 370.5h0M451.0 369.8h0M420.9 355.9h0M425.8 351.0h0M429.2 358.8h0M447.0 367.9h0M441.5 331.4h0M443.5 379.3h0M435.0 360.1h0M424.4 342.5h0M450.7 353.8h0M460.0 340.4h0M447.6 374.0h0M435.3 371.5h0M435.9 367.1h0M452.8 369.9h0M456.8 349.3h0M451.2 365.9h0M420.6 345.9h0M460.1 336.2h0M438.5 343.3h0M444.7 348.4h0M422.9 340.7h0M455.1 342.1h0M456.6 339.1h0M457.7 327.8h0M415.7 358.9h0M445.6 351.6h0M447.5 348.7h0M433.0 359.7h0M431.9 357.9h0M450.3 369.2h0M441.4 377.1h0M441.6 345.3h0M448.7 348.0h0M455.5 348.7h0M437.2 364.2h0M437.7 343.5h0M455.2 340.3h0M437.0 359.1h0M436.3 364.3h0M427.5 343.9h0M427.3 368.3h0M448.0 374.6h0M440.3 356.4h0M443.7 364.6h0M448.5 348.0h0M418.3 350.4h0M458.7 324.5h0M440.6 356.8h0M438.0 356.3h0M420.4 353.4h0M428.6 354.5h0M435.2 365.4h0M441.9 335.6h0M422.7 358.0h0M441.2 359.7h0M451.9 372.2h0M437.0 337.0h0M438.2 349.7h0M438.7 347.5h0M443.3 345.2h0M430.5 369.1h0M446.7 370.0h0M421.4 352.1h0M453.0 338.3h0M421.5 343.4h0M458.9 335.1h0" stroke="#44A044" stroke-width="1.60" stroke-linecap="round" fill="none"/>
<path d="M453.7 364.9 C456.2 361.4 461.8 360.4 464.9 358.7 C468.0 357.0 470.2 354.7 472.2 354.9 C474.3 355.0 474.3 359.0 477.2 359.9 C480.2 360.7 486.2 358.2 489.9 359.9 C493.7 361.5 498.0 365.8 499.6 369.9 C501.3 374.0 501.1 379.7 499.6 384.6 C498.2 389.6 494.8 395.7 491.1 399.6 C487.4 403.6 482.0 407.7 477.2 408.5 C472.5 409.3 466.6 407.0 462.5 404.7 C458.4 402.3 454.6 398.8 452.5 394.6 C450.4 390.5 449.6 384.6 449.8 379.6 C450.0 374.6 451.2 368.4 453.7 364.9Z" fill="#D42A27"/><path d="M480.0 396.2h0M477.5 394.6h0M480.1 391.9h0M487.5 369.1h0M489.3 370.0h0M490.5 367.0h0M490.6 367.2h0M488.8 369.2h0M491.2 370.9h0M491.1 369.0h0M490.7 367.7h0M491.4 364.3h0M454.2 379.7h0M453.0 381.3h0M457.0 379.7h0M453.8 381.6h0M453.5 383.9h0M453.9 382.2h0M451.9 369.1h0M451.5 369.2h0M452.9 367.9h0M455.6 367.2h0M457.3 368.9h0M453.2 370.5h0M455.3 371.0h0M455.4 368.2h0M459.0 367.6h0M479.5 361.0h0M474.6 363.6h0M476.8 361.9h0M475.1 362.1h0M477.1 362.1h0M474.4 365.7h0M477.1 361.7h0M471.2 362.5h0M474.2 361.4h0M477.3 361.5h0M455.9 398.4h0M455.8 399.6h0M459.8 394.0h0M460.4 398.7h0M460.9 397.2h0M459.9 397.7h0M458.7 394.9h0M458.0 396.7h0M489.7 375.1h0M490.6 372.5h0M489.1 370.1h0M489.1 373.4h0M486.1 370.0h0M490.0 373.2h0M467.1 389.5h0M466.4 387.7h0M467.1 383.6h0M465.4 390.4h0M466.0 394.7h0M466.5 395.7h0M466.7 397.2h0M464.0 391.3h0M464.7 392.3h0M460.7 397.3h0M467.4 393.8h0M463.7 394.9h0M465.3 390.2h0M464.8 389.8h0M465.4 363.9h0M465.9 361.0h0M471.0 363.6h0M468.4 361.9h0M466.8 365.8h0M467.8 362.8h0M467.1 364.0h0M481.6 381.0h0M483.3 382.0h0M478.6 379.6h0M490.6 381.6h0M485.7 379.6h0M486.3 377.8h0M485.1 384.4h0M487.4 378.8h0M487.0 380.1h0M486.9 382.9h0M489.3 382.2h0M485.0 378.7h0M486.5 378.1h0M478.4 364.5h0M479.3 363.6h0M479.8 362.2h0M478.2 362.4h0M479.1 364.3h0M488.2 391.1h0M493.3 394.9h0M492.1 391.9h0M490.3 395.7h0M491.9 392.1h0M494.8 391.0h0M490.0 394.2h0M487.7 390.8h0M491.6 391.5h0M491.0 393.0h0M466.5 373.0h0M467.3 372.7h0M465.2 371.2h0M492.5 367.7h0M491.9 367.2h0M491.8 367.4h0M490.4 367.5h0M489.8 368.3h0M492.9 364.5h0M490.4 367.6h0M464.0 390.3h0M467.0 388.9h0M465.1 388.0h0M466.5 387.4h0M463.5 387.8h0M462.9 388.6h0M462.9 386.3h0M462.4 388.3h0M477.6 394.3h0M481.4 397.0h0M477.8 396.9h0M476.8 399.8h0M455.0 392.1h0M459.8 391.6h0M457.6 388.3h0M460.9 392.8h0M489.9 368.9h0M493.3 369.4h0M488.7 366.5h0M493.5 371.8h0M490.0 371.3h0M494.8 369.9h0M459.9 366.8h0M459.3 364.2h0M457.1 366.0h0M460.5 362.2h0M456.6 365.0h0M461.4 395.0h0M456.5 394.0h0M456.5 389.6h0M456.0 393.5h0M455.1 392.5h0M476.2 393.5h0M475.6 394.6h0M476.5 397.0h0M474.5 395.9h0M477.7 396.2h0" stroke="#fff" stroke-width="1.10" stroke-linecap="round" fill="none"/><path d="M479.7 361.7h0M471.2 356.1h0M496.8 386.7h0M495.7 391.9h0M475.0 409.0h0M464.6 357.4h0M449.8 383.5h0M496.8 389.9h0M460.2 404.1h0M471.4 406.2h0M459.3 401.6h0M462.6 403.6h0M463.9 355.8h0M451.5 390.0h0M454.7 367.1h0M472.8 356.8h0M469.2 354.5h0M475.9 356.7h0M476.3 356.8h0M497.9 372.8h0M465.0 358.1h0M453.5 371.4h0M499.2 369.3h0M473.1 356.0h0M476.0 406.7h0M455.6 395.3h0M491.2 360.8h0M487.9 359.7h0M478.6 361.4h0M471.0 356.5h0M464.4 358.7h0M481.3 407.0h0M495.5 392.7h0M458.5 401.1h0M469.9 353.2h0M450.3 373.2h0M495.3 389.6h0M475.0 407.4h0M459.7 402.1h0M451.6 369.7h0M466.1 356.8h0M498.7 370.2h0M451.9 368.2h0M498.9 379.7h0M475.6 360.4h0M450.6 384.0h0M484.5 360.1h0M457.3 400.1h0M451.9 368.1h0M486.5 360.3h0M488.5 358.6h0M485.3 404.0h0M493.8 394.9h0M499.7 379.5h0M490.4 358.3h0M458.5 402.5h0M480.4 406.0h0M478.4 361.2h0M472.1 355.2h0M497.4 389.7h0M450.5 380.3h0M452.3 391.7h0M476.5 407.8h0M455.9 398.5h0M469.8 355.2h0M453.9 365.3h0M484.5 402.8h0M471.0 352.5h0M449.3 371.9h0M470.6 404.4h0M494.9 397.4h0M469.6 406.4h0M460.1 360.6h0M487.7 399.1h0M452.5 393.7h0M495.1 364.7h0M479.5 362.0h0M464.4 360.6h0M452.3 368.3h0M491.1 397.5h0M464.8 359.8h0M499.3 371.0h0M490.8 360.9h0M484.3 358.9h0M458.5 358.7h0M448.7 383.9h0M452.3 376.6h0M467.7 406.6h0M457.1 362.8h0M455.7 398.7h0M454.0 399.1h0M455.6 399.4h0M479.6 358.6h0M450.3 386.0h0M456.8 399.1h0M485.2 401.5h0M451.8 375.3h0M474.7 359.7h0M501.2 377.6h0M480.3 362.0h0M448.9 381.8h0M454.2 366.5h0M461.3 360.3h0M499.7 369.7h0M451.5 385.7h0M454.0 363.8h0M474.3 359.4h0M452.7 370.3h0M462.6 360.4h0M472.9 407.2h0M458.2 400.7h0M454.1 366.9h0M467.3 358.6h0M491.2 398.8h0M467.2 358.7h0M470.2 405.9h0M474.2 357.2h0M460.1 361.9h0M488.1 359.9h0M469.3 358.1h0M454.6 396.6h0M462.5 359.4h0M451.3 385.1h0M456.8 398.6h0M460.6 363.2h0M464.7 356.1h0M450.9 377.2h0M485.2 404.0h0M475.9 357.9h0M462.9 405.5h0" stroke="#D42A27" stroke-width="1.40" stroke-linecap="round" fill="none"/><path d="M464.6 359.2h0M493.8 363.4h0M460.7 363.1h0M457.9 399.6h0M500.1 381.4h0M450.7 386.4h0M484.5 359.8h0M471.9 354.7h0M484.0 359.5h0M499.0 382.1h0M472.3 406.5h0M460.5 403.9h0M495.9 366.3h0M453.0 395.6h0M485.4 402.7h0M466.3 405.5h0M485.3 404.1h0M475.4 359.9h0M460.6 401.3h0M486.3 360.7h0M498.0 368.2h0M464.0 405.6h0M452.9 369.1h0M465.6 358.2h0M498.6 367.2h0M472.1 355.0h0M491.1 360.8h0M495.1 393.2h0M498.9 383.5h0M473.2 356.9h0M499.1 369.2h0M500.4 375.2h0M490.9 397.7h0M451.0 390.9h0M450.4 384.8h0M450.2 384.3h0M472.9 356.7h0M453.9 396.5h0M450.0 387.3h0M480.3 407.7h0M498.9 382.4h0M485.4 360.0h0M452.2 366.8h0M451.3 387.0h0M467.2 357.7h0M461.4 360.7h0M475.4 358.8h0M494.5 365.1h0M488.6 359.5h0M451.1 386.1h0M496.2 366.6h0M451.4 372.9h0M488.3 360.1h0M450.5 377.0h0M487.1 402.0h0M453.8 368.3h0M495.6 391.2h0" stroke="#fff" stroke-width="1.50" stroke-linecap="round" fill="none"/><path d="M455.3 364.9h0M469.5 358.2h0M477.5 361.3h0M451.4 382.3h0M471.9 357.1h0M481.3 359.8h0M473.3 357.5h0M457.9 360.2h0M464.4 358.2h0M452.2 383.1h0M498.1 379.8h0M490.0 398.1h0M475.5 357.0h0M453.8 371.1h0M449.6 389.0h0M497.6 371.1h0M474.7 356.6h0M474.4 353.9h0M493.4 365.1h0M495.7 390.9h0M475.4 357.3h0M471.7 350.9h0M453.6 395.6h0M451.2 375.0h0M478.4 407.5h0M452.4 369.6h0M473.6 358.3h0M499.9 372.3h0M495.4 395.7h0M475.6 362.4h0M498.8 380.1h0M470.4 356.8h0M498.6 374.2h0M500.5 375.8h0M451.1 371.2h0M463.5 358.6h0M464.9 358.5h0M474.7 406.8h0M461.3 360.9h0M459.5 361.5h0M473.3 357.9h0M493.5 395.5h0M491.9 359.5h0M453.4 375.5h0M457.8 402.2h0M498.2 370.5h0M461.1 358.0h0M467.3 406.3h0M494.2 361.8h0M473.9 358.9h0M478.8 358.2h0M475.9 355.3h0M500.8 371.0h0M497.5 377.0h0M464.5 359.2h0M495.4 363.7h0M498.7 383.9h0" stroke="#D42A27" stroke-width="1.30" stroke-linecap="round" fill="none"/>
<path d="M398.3 343.1 C399.4 341.9 403.5 342.4 405.3 343.1 C407.2 343.8 408.7 345.3 409.5 347.2 C410.3 349.1 411.3 352.9 410.1 354.3 C408.8 355.6 404.1 355.8 402.1 355.1 C400.1 354.5 398.9 352.2 398.3 350.1 C397.6 348.1 397.1 344.2 398.3 343.1Z" fill="#A45A2A"/><path d="M399.1 342.8h0M402.4 354.2h0M397.3 352.9h0M406.6 342.3h0M410.3 347.9h0M402.3 356.7h0M402.4 354.7h0M404.9 354.1h0M407.3 345.8h0M400.4 347.8h0M409.2 349.5h0M410.6 353.1h0M406.2 346.1h0M398.2 347.6h0M409.9 352.8h0M400.2 349.1h0M407.7 356.3h0M402.5 343.2h0M403.7 354.4h0M404.0 353.3h0M402.5 356.6h0M407.0 344.2h0M400.6 350.9h0M408.5 346.6h0M409.5 351.9h0M406.9 342.2h0M410.8 351.8h0M396.8 344.5h0M408.7 350.4h0M409.6 350.5h0M409.2 349.7h0M408.5 347.6h0M411.8 351.7h0" stroke="#A45A2A" stroke-width="1.40" stroke-linecap="round" fill="none"/><path d="M402.7 355.5h0M404.6 341.8h0M400.0 353.3h0M398.1 344.3h0M398.0 349.5h0M398.2 345.9h0M406.9 343.4h0M410.3 354.0h0M398.9 342.3h0M409.3 354.0h0M403.0 343.1h0M407.8 346.5h0M406.3 344.1h0M404.2 354.9h0" stroke="#fff" stroke-width="1.50" stroke-linecap="round" fill="none"/><path d="M398.4 348.6h0M403.1 355.8h0M397.6 344.2h0M402.1 340.8h0M400.1 345.1h0M400.1 346.7h0M407.6 356.5h0M408.5 342.1h0M412.0 352.4h0M409.9 352.4h0M401.4 342.5h0M400.3 354.0h0M396.6 349.6h0M406.8 341.8h0" stroke="#A45A2A" stroke-width="1.30" stroke-linecap="round" fill="none"/>
<path d="M402.1 361.0 C402.8 359.6 406.8 358.8 408.0 359.6 C409.2 360.3 410.2 364.0 409.5 365.5 C408.7 366.9 404.8 369.1 403.6 368.4 C402.3 367.7 401.4 362.5 402.1 361.0Z" fill="#A45A2A"/><path d="M408.0 359.0h0M410.4 360.1h0M402.6 370.4h0M403.6 368.0h0M408.5 358.6h0M402.0 367.0h0M403.8 366.5h0M405.8 366.0h0M409.0 365.0h0M408.5 362.5h0M404.0 360.7h0M402.6 363.3h0M407.3 363.9h0M404.0 366.4h0M401.5 367.3h0M406.2 364.1h0M404.9 361.6h0M399.8 360.2h0M402.8 359.9h0M408.0 362.5h0M408.7 364.8h0" stroke="#A45A2A" stroke-width="1.40" stroke-linecap="round" fill="none"/><path d="M408.5 361.6h0M402.8 362.8h0M403.0 367.1h0M405.5 361.9h0M406.9 367.8h0M409.4 362.5h0M405.4 360.4h0M403.0 367.8h0M405.8 359.9h0" stroke="#fff" stroke-width="1.50" stroke-linecap="round" fill="none"/><path d="M406.4 358.8h0M407.5 363.6h0M402.1 367.5h0M408.8 367.7h0M403.4 370.3h0M404.1 368.2h0M409.6 362.0h0M403.2 359.8h0M404.3 368.8h0" stroke="#A45A2A" stroke-width="1.30" stroke-linecap="round" fill="none"/>
<path d="M392.3 364.2h0M392.2 360.0h0M390.5 364.9h0M391.3 362.6h0M392.7 361.8h0M391.9 360.6h0M392.7 365.4h0M389.7 364.4h0M390.9 364.5h0M391.2 364.2h0M391.8 365.4h0M389.8 361.1h0M389.0 363.1h0M392.2 362.8h0M392.5 365.1h0M389.8 362.1h0M390.4 362.5h0M389.5 364.0h0M389.5 363.0h0M393.0 363.6h0M393.4 364.8h0M391.9 360.3h0M390.2 363.8h0M391.6 361.9h0M392.3 364.7h0M392.2 363.2h0M391.0 360.1h0M390.9 366.8h0M391.9 363.6h0" stroke="#9a9a9a" stroke-width="1.70" stroke-linecap="round" fill="none"/>
<path d="M412.4 389.0 C413.6 387.1 418.6 382.2 421.3 381.7 C424.0 381.2 426.4 384.4 428.6 386.1 C430.8 387.8 433.3 389.5 434.5 392.0 C435.7 394.4 437.2 398.9 436.0 400.8 C434.8 402.8 430.1 404.3 427.2 403.8 C424.2 403.3 420.5 399.6 418.3 397.9 C416.1 396.2 414.9 394.9 413.9 393.5 C412.9 392.0 411.2 391.0 412.4 389.0Z" fill="#E8801F"/><path d="M435.5 399.9h0M435.3 395.8h0M433.9 394.4h0M421.8 387.1h0M425.5 383.8h0M424.3 387.5h0M423.5 384.7h0M423.9 381.7h0M425.1 388.4h0M431.8 403.1h0M430.8 400.4h0M431.8 399.5h0M426.5 400.5h0M433.9 397.2h0M430.9 392.1h0M430.1 395.7h0" stroke="#fff" stroke-width="1.10" stroke-linecap="round" fill="none"/><path d="M429.2 404.3h0M414.0 391.0h0M435.2 401.1h0M421.2 381.8h0M421.2 381.7h0M421.3 398.3h0M419.6 400.5h0M431.9 388.0h0M424.2 403.0h0M411.4 389.6h0M430.5 390.7h0M420.7 397.8h0M411.3 392.2h0M427.4 403.7h0M434.1 401.9h0M433.7 391.1h0M432.3 389.6h0M433.9 402.7h0M424.3 382.0h0M426.5 401.6h0M424.3 383.8h0M436.5 400.0h0M422.8 401.2h0M433.5 390.7h0M412.5 394.6h0M429.5 387.0h0M426.3 384.8h0M431.8 403.0h0M432.8 402.0h0M413.5 392.3h0M430.1 390.4h0M436.2 399.8h0M413.1 393.9h0M432.6 402.7h0M432.2 402.0h0M414.6 391.1h0M430.5 400.0h0M416.2 387.1h0M419.7 382.6h0M416.8 385.0h0M422.0 401.9h0M433.0 401.8h0M416.4 385.8h0M425.4 386.5h0M418.6 395.9h0M413.9 393.7h0M428.6 385.1h0M420.7 400.5h0M436.8 394.2h0M422.5 382.7h0M424.3 383.2h0M414.7 391.3h0M423.4 403.1h0M410.5 390.9h0" stroke="#E8801F" stroke-width="1.40" stroke-linecap="round" fill="none"/><path d="M426.9 404.5h0M430.4 387.8h0M420.0 399.6h0M434.9 392.5h0M433.1 402.4h0M412.6 388.2h0M433.4 393.1h0M421.6 399.7h0M415.5 394.9h0M435.7 395.3h0M426.8 404.7h0M414.1 392.5h0M416.5 395.9h0M417.8 384.8h0M436.5 398.6h0M411.9 390.4h0M416.0 385.5h0M423.9 401.2h0M435.7 401.9h0M433.7 401.0h0M430.4 387.5h0M417.7 397.8h0M434.7 395.5h0" stroke="#fff" stroke-width="1.50" stroke-linecap="round" fill="none"/><path d="M435.5 400.7h0M426.6 387.7h0M422.7 402.2h0M420.6 382.9h0M419.8 396.9h0M413.3 389.5h0M426.0 384.2h0M432.8 401.6h0M413.6 389.6h0M415.7 384.4h0M422.8 398.7h0M419.2 399.4h0M411.2 391.9h0M428.5 401.4h0M433.7 402.6h0M433.5 401.5h0M414.4 388.6h0M416.1 397.2h0M421.7 399.4h0M429.6 401.6h0M437.1 388.2h0M435.3 393.7h0M434.3 390.1h0" stroke="#E8801F" stroke-width="1.30" stroke-linecap="round" fill="none"/>
<path d="M411.1 381.2h0M409.7 380.8h0M408.4 379.4h0M407.1 379.1h0M408.3 380.0h0M411.7 381.1h0M407.4 380.2h0M409.9 380.4h0M406.4 379.1h0M406.2 378.5h0M408.3 380.4h0M407.4 379.8h0M407.1 379.6h0M408.4 380.5h0M408.4 381.1h0" stroke="#E8801F" stroke-width="1.70" stroke-linecap="round" fill="none"/>
<path d="M511.1 376.1 C512.0 374.6 516.1 374.8 517.3 376.1 C518.6 377.3 519.3 382.0 518.5 383.4 C517.7 384.9 513.5 385.8 512.3 384.6 C511.1 383.4 510.3 377.5 511.1 376.1Z" fill="#E07EC0"/><path d="M516.3 383.0h0M516.0 376.3h0M515.0 373.8h0M509.5 377.1h0M512.0 380.6h0M520.1 382.6h0M515.4 377.9h0M513.8 376.6h0M515.9 377.0h0M514.6 376.1h0M513.4 380.8h0M513.4 385.6h0M516.2 377.8h0M517.0 378.8h0M514.2 377.2h0M518.9 381.3h0M519.0 378.2h0M516.7 381.8h0M513.5 376.3h0M516.2 384.4h0M517.9 376.6h0M516.1 384.2h0" stroke="#E07EC0" stroke-width="1.40" stroke-linecap="round" fill="none"/><path d="M512.7 383.6h0M512.9 375.9h0M512.9 377.4h0M514.9 384.2h0M518.3 383.8h0M518.0 381.0h0M518.4 380.1h0M512.2 376.0h0M511.0 375.8h0M513.6 384.4h0" stroke="#fff" stroke-width="1.50" stroke-linecap="round" fill="none"/><path d="M513.9 381.3h0M512.6 384.3h0M512.7 379.1h0M519.4 378.9h0M516.9 376.8h0M519.2 377.0h0M512.5 383.5h0M511.9 381.2h0M511.1 379.4h0M510.8 379.4h0" stroke="#E07EC0" stroke-width="1.30" stroke-linecap="round" fill="none"/>
<path d="M473.0 336.6h0M475.7 337.9h0M469.3 345.2h0M468.5 348.7h0M472.0 336.3h0M475.8 344.0h0M476.0 339.8h0M475.4 326.1h0M471.1 344.0h0M468.5 328.6h0M470.1 346.0h0" stroke="#2E7CB9" stroke-width="1.50" stroke-linecap="round" fill="none"/>
<path d="M457.4 355.0h0M456.9 355.5h0M452.8 335.7h0M453.2 329.8h0" stroke="#E4DF42" stroke-width="1.60" stroke-linecap="round" fill="none"/>
<path transform="translate(275,5) scale(0.06906)" d="M70,345 L85,270 L130,258 C160,215 200,180 270,140 L275,100 L320,125 C360,118 420,115 600,110 C700,115 780,140 800,185 C800,230 760,260 650,280 C600,288 560,290 530,298 L515,292 C480,285 420,280 300,265 C230,265 180,275 130,290 Z" fill="#0d0a0a"/>
<path transform="translate(275,232) scale(0.06906)" d="M70,345 L85,270 L130,258 C160,215 200,180 270,140 L275,100 L320,125 C360,118 420,115 600,110 C700,115 780,140 800,185 C800,230 760,260 650,280 C600,288 560,290 530,298 L515,292 C480,285 420,280 300,265 C230,265 180,275 130,290 Z" fill="#0d0a0a"/>
<path transform="translate(425,3) scale(0.0862)" d="M55,155 L120,70 L135,60 L170,70 L180,90 C220,95 260,97 300,95 C360,92 420,85 530,85 L550,110 L545,170 L540,230 L555,300 L558,385 L530,385 L520,300 L500,260 L470,330 L472,385 L450,385 L455,320 L470,240 C440,248 400,255 380,255 C340,258 300,262 290,265 L280,300 L287,390 L265,390 L255,310 L250,390 L230,390 L230,300 L210,250 L185,210 L150,180 L110,165 L60,168 Z" fill="#0d0a0a"/>
<path transform="translate(425,230) scale(0.0862)" d="M55,155 L120,70 L135,60 L170,70 L180,90 C220,95 260,97 300,95 C360,92 420,85 530,85 L550,110 L545,170 L540,230 L555,300 L558,385 L530,385 L520,300 L500,260 L470,330 L472,385 L450,385 L455,320 L470,240 C440,248 400,255 380,255 C340,258 300,262 290,265 L280,300 L287,390 L265,390 L255,310 L250,390 L230,390 L230,300 L210,250 L185,210 L150,180 L110,165 L60,168 Z" fill="#0d0a0a"/>
<g transform="translate(355,30) scale(0.06906)">
<path d="M130,198 C250,168 320,78 440,78 C560,78 630,168 750,198 L750,252 C630,282 560,368 440,368 C320,368 250,282 130,252 Z" fill="#DF7B6C"/>
<path d="M150,225 C260,180 340,112 440,112 C540,112 620,180 730,225 C620,270 540,338 440,338 C340,338 260,270 150,225 Z" fill="#C46A62"/>
<path d="M220,225 C300,196 370,170 440,170 C510,170 580,196 660,225 C580,254 510,282 440,282 C370,282 300,254 220,225 Z" fill="#E27D6E"/>
<rect x="78" y="198" width="58" height="54" fill="#EDC87A"/><rect x="745" y="198" width="58" height="54" fill="#EDC87A"/>
</g>
<g transform="translate(368,255) scale(0.0907)" stroke="#3f2a58" stroke-width="11" stroke-linejoin="round">
<path d="M92,50 L152,50 L152,205 L92,205 Z" fill="#8A3C7C"/>
<path d="M180,125 C210,150 240,135 262,125 L266,185 L205,205 Z" fill="#8A3C7C"/>
<path d="M100,190 C120,170 150,165 175,175 L200,190 C230,175 262,190 272,232 C282,282 276,342 250,380 L232,392 C182,362 122,322 90,297 C76,262 80,220 100,190 Z" fill="#E8735F"/>
<path d="M118,95 L172,82 L235,95 L250,130 L212,135 L210,205 L170,208 L158,135 L122,132 Z" fill="#A99FD8"/>
<path d="M150,250 L175,272 L160,300 M205,232 L218,282 L240,270 M195,305 L222,322 L210,345" fill="none" stroke-width="9"/>
<path d="M98,215 C92,240 92,270 100,292" fill="none" stroke="#f6d6d0" stroke-width="9"/>
</g>
<g><circle cx="612.2" cy="25.2" r="1.75" fill="#8C72C8"/><circle cx="620.1" cy="25.2" r="1.05" fill="#B3A2DA"/><circle cx="628.1" cy="25.2" r="1.05" fill="#B3A2DA"/><circle cx="636.0" cy="25.2" r="1.05" fill="#B3A2DA"/><circle cx="644.0" cy="25.2" r="2.50" fill="#B5A2DA"/><circle cx="651.9" cy="25.2" r="1.75" fill="#8C72C8"/><circle cx="659.8" cy="25.2" r="1.05" fill="#B3A2DA"/><circle cx="667.8" cy="25.2" r="1.05" fill="#B3A2DA"/><circle cx="675.7" cy="25.2" r="1.00" fill="#C9C6CC"/><circle cx="683.7" cy="25.2" r="0.65" fill="#D5CCE8"/><circle cx="691.6" cy="25.2" r="1.05" fill="#B3A2DA"/><circle cx="699.5" cy="25.2" r="1.25" fill="#4F46AE"/><circle cx="707.5" cy="25.2" r="0.65" fill="#D5CCE8"/><circle cx="715.4" cy="25.2" r="1.05" fill="#B3A2DA"/><circle cx="723.4" cy="25.2" r="0.65" fill="#D5CCE8"/><circle cx="731.3" cy="25.2" r="0.65" fill="#D5CCE8"/><circle cx="739.2" cy="25.2" r="0.65" fill="#D5CCE8"/><circle cx="747.2" cy="25.2" r="0.65" fill="#D5CCE8"/><circle cx="755.1" cy="25.2" r="1.05" fill="#B3A2DA"/><circle cx="763.1" cy="25.2" r="1.05" fill="#B3A2DA"/><circle cx="771.0" cy="25.2" r="1.05" fill="#B3A2DA"/><circle cx="778.9" cy="25.2" r="1.05" fill="#B3A2DA"/><circle cx="786.9" cy="25.2" r="0.65" fill="#D5CCE8"/><circle cx="794.8" cy="25.2" r="0.65" fill="#D5CCE8"/><circle cx="802.8" cy="25.2" r="2.50" fill="#7A63BE"/><circle cx="810.7" cy="25.2" r="1.90" fill="#2B3BA6"/><circle cx="818.6" cy="25.2" r="2.50" fill="#7A63BE"/><circle cx="826.6" cy="25.2" r="2.60" fill="#2536A6"/><circle cx="612.2" cy="47.3" r="1.00" fill="#C9C6CC"/><circle cx="620.1" cy="47.3" r="0.65" fill="#D5CCE8"/><circle cx="628.1" cy="47.3" r="1.05" fill="#B3A2DA"/><circle cx="636.0" cy="47.3" r="1.60" fill="#B8A6DC"/><circle cx="644.0" cy="47.3" r="1.75" fill="#8C72C8"/><circle cx="651.9" cy="47.3" r="1.60" fill="#B8A6DC"/><circle cx="659.8" cy="47.3" r="1.05" fill="#B3A2DA"/><circle cx="667.8" cy="47.3" r="1.05" fill="#B3A2DA"/><circle cx="675.7" cy="47.3" r="2.50" fill="#B5A2DA"/><circle cx="683.7" cy="47.3" r="0.65" fill="#D5CCE8"/><circle cx="691.6" cy="47.3" r="0.65" fill="#D5CCE8"/><circle cx="699.5" cy="47.3" r="0.65" fill="#D5CCE8"/><circle cx="707.5" cy="47.3" r="0.65" fill="#D5CCE8"/><circle cx="715.4" cy="47.3" r="0.65" fill="#D5CCE8"/><circle cx="723.4" cy="47.3" r="0.65" fill="#D5CCE8"/><circle cx="731.3" cy="47.3" r="0.65" fill="#D5CCE8"/><circle cx="739.2" cy="47.3" r="0.65" fill="#D5CCE8"/><circle cx="747.2" cy="47.3" r="0.65" fill="#D5CCE8"/><circle cx="755.1" cy="47.3" r="1.05" fill="#B3A2DA"/><circle cx="763.1" cy="47.3" r="0.65" fill="#D5CCE8"/><circle cx="771.0" cy="47.3" r="1.05" fill="#B3A2DA"/><circle cx="778.9" cy="47.3" r="2.50" fill="#7A63BE"/><circle cx="786.9" cy="47.3" r="1.90" fill="#2B3BA6"/><circle cx="794.8" cy="47.3" r="1.90" fill="#2B3BA6"/><circle cx="802.8" cy="47.3" r="1.05" fill="#B3A2DA"/><circle cx="810.7" cy="47.3" r="0.65" fill="#D5CCE8"/><circle cx="818.6" cy="47.3" r="1.05" fill="#B3A2DA"/><circle cx="826.6" cy="47.3" r="0.65" fill="#D5CCE8"/><circle cx="612.2" cy="69.0" r="2.60" fill="#2536A6"/><circle cx="620.1" cy="69.0" r="1.05" fill="#B3A2DA"/><circle cx="628.1" cy="69.0" r="1.60" fill="#B8A6DC"/><circle cx="636.0" cy="69.0" r="0.65" fill="#D5CCE8"/><circle cx="644.0" cy="69.0" r="1.00" fill="#C9C6CC"/><circle cx="651.9" cy="69.0" r="1.05" fill="#B3A2DA"/><circle cx="659.8" cy="69.0" r="0.65" fill="#D5CCE8"/><circle cx="667.8" cy="69.0" r="0.65" fill="#D5CCE8"/><circle cx="675.7" cy="69.0" r="0.65" fill="#D5CCE8"/><circle cx="683.7" cy="69.0" r="0.65" fill="#D5CCE8"/><circle cx="691.6" cy="69.0" r="0.65" fill="#D5CCE8"/><circle cx="699.5" cy="69.0" r="0.65" fill="#D5CCE8"/><circle cx="707.5" cy="69.0" r="0.65" fill="#D5CCE8"/><circle cx="715.4" cy="69.0" r="0.65" fill="#D5CCE8"/><circle cx="723.4" cy="69.0" r="0.65" fill="#D5CCE8"/><circle cx="731.3" cy="69.0" r="0.65" fill="#D5CCE8"/><circle cx="739.2" cy="69.0" r="0.65" fill="#D5CCE8"/><circle cx="747.2" cy="69.0" r="0.65" fill="#D5CCE8"/><circle cx="755.1" cy="69.0" r="2.60" fill="#2536A6"/><circle cx="763.1" cy="69.0" r="1.90" fill="#2B3BA6"/><circle cx="771.0" cy="69.0" r="2.60" fill="#2536A6"/><circle cx="778.9" cy="69.0" r="0.65" fill="#D5CCE8"/><circle cx="786.9" cy="69.0" r="0.65" fill="#D5CCE8"/><circle cx="794.8" cy="69.0" r="0.65" fill="#D5CCE8"/><circle cx="802.8" cy="69.0" r="0.65" fill="#D5CCE8"/><circle cx="810.7" cy="69.0" r="0.65" fill="#D5CCE8"/><circle cx="818.6" cy="69.0" r="0.65" fill="#D5CCE8"/><circle cx="826.6" cy="69.0" r="0.65" fill="#D5CCE8"/><circle cx="612.2" cy="90.7" r="1.05" fill="#B3A2DA"/><circle cx="620.1" cy="90.7" r="0.65" fill="#D5CCE8"/><circle cx="628.1" cy="90.7" r="1.05" fill="#B3A2DA"/><circle cx="636.0" cy="90.7" r="0.65" fill="#D5CCE8"/><circle cx="644.0" cy="90.7" r="0.65" fill="#D5CCE8"/><circle cx="651.9" cy="90.7" r="1.05" fill="#B3A2DA"/><circle cx="659.8" cy="90.7" r="0.65" fill="#D5CCE8"/><circle cx="667.8" cy="90.7" r="0.65" fill="#D5CCE8"/><circle cx="675.7" cy="90.7" r="0.65" fill="#D5CCE8"/><circle cx="683.7" cy="90.7" r="0.65" fill="#D5CCE8"/><circle cx="691.6" cy="90.7" r="0.65" fill="#D5CCE8"/><circle cx="699.5" cy="90.7" r="0.65" fill="#D5CCE8"/><circle cx="707.5" cy="90.7" r="0.65" fill="#D5CCE8"/><circle cx="715.4" cy="90.7" r="0.65" fill="#D5CCE8"/><circle cx="723.4" cy="90.7" r="2.60" fill="#2536A6"/><circle cx="731.3" cy="90.7" r="1.90" fill="#2B3BA6"/><circle cx="739.2" cy="90.7" r="1.90" fill="#2B3BA6"/><circle cx="747.2" cy="90.7" r="1.90" fill="#2B3BA6"/><circle cx="755.1" cy="90.7" r="1.05" fill="#B3A2DA"/><circle cx="763.1" cy="90.7" r="0.65" fill="#D5CCE8"/><circle cx="771.0" cy="90.7" r="1.05" fill="#B3A2DA"/><circle cx="778.9" cy="90.7" r="1.05" fill="#B3A2DA"/><circle cx="786.9" cy="90.7" r="1.05" fill="#B3A2DA"/><circle cx="794.8" cy="90.7" r="0.65" fill="#D5CCE8"/><circle cx="802.8" cy="90.7" r="0.65" fill="#D5CCE8"/><circle cx="810.7" cy="90.7" r="0.65" fill="#D5CCE8"/><circle cx="818.6" cy="90.7" r="0.65" fill="#D5CCE8"/><circle cx="826.6" cy="90.7" r="1.05" fill="#B3A2DA"/><circle cx="612.2" cy="112.4" r="1.05" fill="#B3A2DA"/><circle cx="620.1" cy="112.4" r="1.05" fill="#B3A2DA"/><circle cx="628.1" cy="112.4" r="1.05" fill="#B3A2DA"/><circle cx="636.0" cy="112.4" r="1.05" fill="#B3A2DA"/><circle cx="644.0" cy="112.4" r="2.50" fill="#B5A2DA"/><circle cx="651.9" cy="112.4" r="1.05" fill="#B3A2DA"/><circle cx="659.8" cy="112.4" r="0.65" fill="#D5CCE8"/><circle cx="667.8" cy="112.4" r="0.65" fill="#D5CCE8"/><circle cx="675.7" cy="112.4" r="1.25" fill="#4F46AE"/><circle cx="683.7" cy="112.4" r="1.90" fill="#2B3BA6"/><circle cx="691.6" cy="112.4" r="2.60" fill="#2536A6"/><circle cx="699.5" cy="112.4" r="1.90" fill="#2B3BA6"/><circle cx="707.5" cy="112.4" r="1.90" fill="#2B3BA6"/><circle cx="715.4" cy="112.4" r="1.90" fill="#2B3BA6"/><circle cx="723.4" cy="112.4" r="0.65" fill="#D5CCE8"/><circle cx="731.3" cy="112.4" r="0.65" fill="#D5CCE8"/><circle cx="739.2" cy="112.4" r="0.65" fill="#D5CCE8"/><circle cx="747.2" cy="112.4" r="0.65" fill="#D5CCE8"/><circle cx="755.1" cy="112.4" r="1.05" fill="#B3A2DA"/><circle cx="763.1" cy="112.4" r="1.05" fill="#B3A2DA"/><circle cx="771.0" cy="112.4" r="1.05" fill="#B3A2DA"/><circle cx="778.9" cy="112.4" r="1.05" fill="#B3A2DA"/><circle cx="786.9" cy="112.4" r="0.65" fill="#D5CCE8"/><circle cx="794.8" cy="112.4" r="0.65" fill="#D5CCE8"/><circle cx="802.8" cy="112.4" r="1.25" fill="#4F46AE"/><circle cx="810.7" cy="112.4" r="0.65" fill="#D5CCE8"/><circle cx="818.6" cy="112.4" r="1.75" fill="#8C72C8"/><circle cx="826.6" cy="112.4" r="1.60" fill="#B8A6DC"/><circle cx="612.2" cy="133.9" r="1.05" fill="#B3A2DA"/><circle cx="620.1" cy="133.9" r="0.65" fill="#D5CCE8"/><circle cx="628.1" cy="133.9" r="1.25" fill="#4F46AE"/><circle cx="636.0" cy="133.9" r="1.75" fill="#8C72C8"/><circle cx="644.0" cy="133.9" r="1.75" fill="#8C72C8"/><circle cx="651.9" cy="133.9" r="1.60" fill="#B8A6DC"/><circle cx="659.8" cy="133.9" r="1.90" fill="#2B3BA6"/><circle cx="667.8" cy="133.9" r="1.90" fill="#2B3BA6"/><circle cx="675.7" cy="133.9" r="2.50" fill="#B5A2DA"/><circle cx="683.7" cy="133.9" r="0.65" fill="#D5CCE8"/><circle cx="691.6" cy="133.9" r="0.65" fill="#D5CCE8"/><circle cx="699.5" cy="133.9" r="0.65" fill="#D5CCE8"/><circle cx="707.5" cy="133.9" r="0.65" fill="#D5CCE8"/><circle cx="715.4" cy="133.9" r="0.65" fill="#D5CCE8"/><circle cx="723.4" cy="133.9" r="0.65" fill="#D5CCE8"/><circle cx="731.3" cy="133.9" r="0.65" fill="#D5CCE8"/><circle cx="739.2" cy="133.9" r="0.65" fill="#D5CCE8"/><circle cx="747.2" cy="133.9" r="0.65" fill="#D5CCE8"/><circle cx="755.1" cy="133.9" r="1.05" fill="#B3A2DA"/><circle cx="763.1" cy="133.9" r="0.65" fill="#D5CCE8"/><circle cx="771.0" cy="133.9" r="1.05" fill="#B3A2DA"/><circle cx="778.9" cy="133.9" r="2.50" fill="#7A63BE"/><circle cx="786.9" cy="133.9" r="1.05" fill="#B3A2DA"/><circle cx="794.8" cy="133.9" r="0.65" fill="#D5CCE8"/><circle cx="802.8" cy="133.9" r="0.65" fill="#D5CCE8"/><circle cx="810.7" cy="133.9" r="1.05" fill="#B3A2DA"/><circle cx="818.6" cy="133.9" r="1.05" fill="#B3A2DA"/><circle cx="826.6" cy="133.9" r="1.05" fill="#B3A2DA"/><circle cx="612.2" cy="155.6" r="1.05" fill="#B3A2DA"/><circle cx="620.1" cy="155.6" r="1.05" fill="#B3A2DA"/><circle cx="628.1" cy="155.6" r="1.60" fill="#B8A6DC"/><circle cx="636.0" cy="155.6" r="2.50" fill="#7A63BE"/><circle cx="644.0" cy="155.6" r="2.60" fill="#2536A6"/><circle cx="651.9" cy="155.6" r="2.60" fill="#2536A6"/><circle cx="659.8" cy="155.6" r="0.65" fill="#D5CCE8"/><circle cx="667.8" cy="155.6" r="0.65" fill="#D5CCE8"/><circle cx="675.7" cy="155.6" r="1.05" fill="#B3A2DA"/><circle cx="683.7" cy="155.6" r="0.65" fill="#D5CCE8"/><circle cx="691.6" cy="155.6" r="0.65" fill="#D5CCE8"/><circle cx="699.5" cy="155.6" r="0.65" fill="#D5CCE8"/><circle cx="707.5" cy="155.6" r="0.65" fill="#D5CCE8"/><circle cx="715.4" cy="155.6" r="0.65" fill="#D5CCE8"/><circle cx="723.4" cy="155.6" r="0.65" fill="#D5CCE8"/><circle cx="731.3" cy="155.6" r="0.65" fill="#D5CCE8"/><circle cx="739.2" cy="155.6" r="0.65" fill="#D5CCE8"/><circle cx="747.2" cy="155.6" r="0.65" fill="#D5CCE8"/><circle cx="755.1" cy="155.6" r="1.05" fill="#B3A2DA"/><circle cx="763.1" cy="155.6" r="1.05" fill="#B3A2DA"/><circle cx="771.0" cy="155.6" r="1.05" fill="#B3A2DA"/><circle cx="778.9" cy="155.6" r="1.05" fill="#B3A2DA"/><circle cx="786.9" cy="155.6" r="0.65" fill="#D5CCE8"/><circle cx="794.8" cy="155.6" r="0.65" fill="#D5CCE8"/><circle cx="802.8" cy="155.6" r="0.65" fill="#D5CCE8"/><circle cx="810.7" cy="155.6" r="0.65" fill="#D5CCE8"/><circle cx="818.6" cy="155.6" r="0.65" fill="#D5CCE8"/><circle cx="826.6" cy="155.6" r="0.65" fill="#D5CCE8"/><circle cx="612.2" cy="177.3" r="2.60" fill="#2536A6"/><circle cx="620.1" cy="177.3" r="1.90" fill="#2B3BA6"/><circle cx="628.1" cy="177.3" r="2.60" fill="#2536A6"/><circle cx="636.0" cy="177.3" r="1.05" fill="#B3A2DA"/><circle cx="644.0" cy="177.3" r="1.75" fill="#8C72C8"/><circle cx="651.9" cy="177.3" r="1.60" fill="#B8A6DC"/><circle cx="659.8" cy="177.3" r="0.65" fill="#D5CCE8"/><circle cx="667.8" cy="177.3" r="0.65" fill="#D5CCE8"/><circle cx="675.7" cy="177.3" r="1.25" fill="#4F46AE"/><circle cx="683.7" cy="177.3" r="0.65" fill="#D5CCE8"/><circle cx="691.6" cy="177.3" r="0.65" fill="#D5CCE8"/><circle cx="699.5" cy="177.3" r="0.65" fill="#D5CCE8"/><circle cx="707.5" cy="177.3" r="0.65" fill="#D5CCE8"/><circle cx="715.4" cy="177.3" r="0.65" fill="#D5CCE8"/><circle cx="723.4" cy="177.3" r="0.65" fill="#D5CCE8"/><circle cx="731.3" cy="177.3" r="0.65" fill="#D5CCE8"/><circle cx="739.2" cy="177.3" r="0.65" fill="#D5CCE8"/><circle cx="747.2" cy="177.3" r="0.65" fill="#D5CCE8"/><circle cx="755.1" cy="177.3" r="1.05" fill="#B3A2DA"/><circle cx="763.1" cy="177.3" r="1.05" fill="#B3A2DA"/><circle cx="771.0" cy="177.3" r="1.05" fill="#B3A2DA"/><circle cx="778.9" cy="177.3" r="1.05" fill="#B3A2DA"/><circle cx="786.9" cy="177.3" r="0.65" fill="#D5CCE8"/><circle cx="794.8" cy="177.3" r="1.05" fill="#B3A2DA"/><circle cx="802.8" cy="177.3" r="0.65" fill="#D5CCE8"/><circle cx="810.7" cy="177.3" r="0.65" fill="#D5CCE8"/><circle cx="818.6" cy="177.3" r="0.65" fill="#D5CCE8"/><circle cx="826.6" cy="177.3" r="0.65" fill="#D5CCE8"/></g><g stroke="#222" stroke-width="1.4" fill="none"><path d="M607.6 11.0 V190.7 H831.4"/></g><g stroke="#222" stroke-width="0.8"><path d="M607.1 25.2h-2"/><path d="M607.1 47.3h-2"/><path d="M607.1 69.0h-2"/><path d="M607.1 90.7h-2"/><path d="M607.1 112.4h-2"/><path d="M607.1 133.9h-2"/><path d="M607.1 155.6h-2"/><path d="M607.1 177.3h-2"/><path d="M612.2 191.2v2"/><path d="M620.1 191.2v2"/><path d="M628.1 191.2v2"/><path d="M636.0 191.2v2"/><path d="M644.0 191.2v2"/><path d="M651.9 191.2v2"/><path d="M659.8 191.2v2"/><path d="M667.8 191.2v2"/><path d="M675.7 191.2v2"/><path d="M683.7 191.2v2"/><path d="M691.6 191.2v2"/><path d="M699.5 191.2v2"/><path d="M707.5 191.2v2"/><path d="M715.4 191.2v2"/><path d="M723.4 191.2v2"/><path d="M731.3 191.2v2"/><path d="M739.2 191.2v2"/><path d="M747.2 191.2v2"/><path d="M755.1 191.2v2"/><path d="M763.1 191.2v2"/><path d="M771.0 191.2v2"/><path d="M778.9 191.2v2"/><path d="M786.9 191.2v2"/><path d="M794.8 191.2v2"/><path d="M802.8 191.2v2"/><path d="M810.7 191.2v2"/><path d="M818.6 191.2v2"/><path d="M826.6 191.2v2"/></g>
<g><circle cx="614.1" cy="260.3" r="0.65" fill="#D5CCE8"/><circle cx="622.6" cy="260.3" r="1.05" fill="#B3A2DA"/><circle cx="631.0" cy="260.3" r="0.65" fill="#D5CCE8"/><circle cx="639.5" cy="260.3" r="0.65" fill="#D5CCE8"/><circle cx="647.9" cy="260.3" r="1.60" fill="#B8A6DC"/><circle cx="656.4" cy="260.3" r="0.65" fill="#D5CCE8"/><circle cx="664.8" cy="260.3" r="0.65" fill="#D5CCE8"/><circle cx="673.2" cy="260.3" r="0.65" fill="#D5CCE8"/><circle cx="681.7" cy="260.3" r="1.05" fill="#B3A2DA"/><circle cx="690.1" cy="260.3" r="0.65" fill="#D5CCE8"/><circle cx="698.6" cy="260.3" r="0.65" fill="#D5CCE8"/><circle cx="707.0" cy="260.3" r="0.65" fill="#D5CCE8"/><circle cx="715.5" cy="260.3" r="0.65" fill="#D5CCE8"/><circle cx="724.0" cy="260.3" r="0.65" fill="#D5CCE8"/><circle cx="732.4" cy="260.3" r="0.65" fill="#D5CCE8"/><circle cx="740.9" cy="260.3" r="1.00" fill="#C9C6CC"/><circle cx="749.3" cy="260.3" r="0.65" fill="#D5CCE8"/><circle cx="757.8" cy="260.3" r="0.65" fill="#D5CCE8"/><circle cx="766.2" cy="260.3" r="0.65" fill="#D5CCE8"/><circle cx="774.6" cy="260.3" r="1.05" fill="#B3A2DA"/><circle cx="783.1" cy="260.3" r="1.60" fill="#B8A6DC"/><circle cx="791.5" cy="260.3" r="0.65" fill="#D5CCE8"/><circle cx="800.0" cy="260.3" r="0.65" fill="#D5CCE8"/><circle cx="808.5" cy="260.3" r="2.60" fill="#2536A6"/><circle cx="816.9" cy="260.3" r="2.60" fill="#2536A6"/><circle cx="825.4" cy="260.3" r="1.90" fill="#2B3BA6"/><circle cx="614.1" cy="276.9" r="1.90" fill="#2B3BA6"/><circle cx="622.6" cy="276.9" r="1.05" fill="#B3A2DA"/><circle cx="631.0" cy="276.9" r="1.05" fill="#B3A2DA"/><circle cx="639.5" cy="276.9" r="0.65" fill="#D5CCE8"/><circle cx="647.9" cy="276.9" r="1.05" fill="#B3A2DA"/><circle cx="656.4" cy="276.9" r="1.60" fill="#B8A6DC"/><circle cx="664.8" cy="276.9" r="1.05" fill="#B3A2DA"/><circle cx="673.2" cy="276.9" r="1.90" fill="#2B3BA6"/><circle cx="681.7" cy="276.9" r="1.60" fill="#B8A6DC"/><circle cx="690.1" cy="276.9" r="0.65" fill="#D5CCE8"/><circle cx="698.6" cy="276.9" r="0.65" fill="#D5CCE8"/><circle cx="707.0" cy="276.9" r="0.65" fill="#D5CCE8"/><circle cx="715.5" cy="276.9" r="0.65" fill="#D5CCE8"/><circle cx="724.0" cy="276.9" r="1.05" fill="#B3A2DA"/><circle cx="732.4" cy="276.9" r="0.65" fill="#D5CCE8"/><circle cx="740.9" cy="276.9" r="1.05" fill="#B3A2DA"/><circle cx="749.3" cy="276.9" r="1.05" fill="#B3A2DA"/><circle cx="757.8" cy="276.9" r="0.65" fill="#D5CCE8"/><circle cx="766.2" cy="276.9" r="1.05" fill="#B3A2DA"/><circle cx="774.6" cy="276.9" r="0.65" fill="#D5CCE8"/><circle cx="783.1" cy="276.9" r="1.60" fill="#B8A6DC"/><circle cx="791.5" cy="276.9" r="1.90" fill="#2B3BA6"/><circle cx="800.0" cy="276.9" r="1.25" fill="#4F46AE"/><circle cx="808.5" cy="276.9" r="0.65" fill="#D5CCE8"/><circle cx="816.9" cy="276.9" r="0.65" fill="#D5CCE8"/><circle cx="825.4" cy="276.9" r="0.65" fill="#D5CCE8"/><circle cx="614.1" cy="293.5" r="0.65" fill="#D5CCE8"/><circle cx="622.6" cy="293.5" r="0.65" fill="#D5CCE8"/><circle cx="631.0" cy="293.5" r="0.65" fill="#D5CCE8"/><circle cx="639.5" cy="293.5" r="0.65" fill="#D5CCE8"/><circle cx="647.9" cy="293.5" r="1.60" fill="#B8A6DC"/><circle cx="656.4" cy="293.5" r="0.65" fill="#D5CCE8"/><circle cx="664.8" cy="293.5" r="1.05" fill="#B3A2DA"/><circle cx="673.2" cy="293.5" r="0.65" fill="#D5CCE8"/><circle cx="681.7" cy="293.5" r="1.05" fill="#B3A2DA"/><circle cx="690.1" cy="293.5" r="0.65" fill="#D5CCE8"/><circle cx="698.6" cy="293.5" r="0.65" fill="#D5CCE8"/><circle cx="707.0" cy="293.5" r="0.65" fill="#D5CCE8"/><circle cx="715.5" cy="293.5" r="0.65" fill="#D5CCE8"/><circle cx="724.0" cy="293.5" r="0.65" fill="#D5CCE8"/><circle cx="732.4" cy="293.5" r="0.65" fill="#D5CCE8"/><circle cx="740.9" cy="293.5" r="1.05" fill="#B3A2DA"/><circle cx="749.3" cy="293.5" r="1.25" fill="#4F46AE"/><circle cx="757.8" cy="293.5" r="1.25" fill="#4F46AE"/><circle cx="766.2" cy="293.5" r="1.75" fill="#8C72C8"/><circle cx="774.6" cy="293.5" r="1.25" fill="#4F46AE"/><circle cx="783.1" cy="293.5" r="2.60" fill="#2536A6"/><circle cx="791.5" cy="293.5" r="0.65" fill="#D5CCE8"/><circle cx="800.0" cy="293.5" r="0.65" fill="#D5CCE8"/><circle cx="808.5" cy="293.5" r="0.65" fill="#D5CCE8"/><circle cx="816.9" cy="293.5" r="0.65" fill="#D5CCE8"/><circle cx="825.4" cy="293.5" r="0.65" fill="#D5CCE8"/><circle cx="614.1" cy="310.1" r="0.65" fill="#D5CCE8"/><circle cx="622.6" cy="310.1" r="0.65" fill="#D5CCE8"/><circle cx="631.0" cy="310.1" r="0.65" fill="#D5CCE8"/><circle cx="639.5" cy="310.1" r="1.05" fill="#B3A2DA"/><circle cx="647.9" cy="310.1" r="2.50" fill="#B5A2DA"/><circle cx="656.4" cy="310.1" r="1.05" fill="#B3A2DA"/><circle cx="664.8" cy="310.1" r="0.65" fill="#D5CCE8"/><circle cx="673.2" cy="310.1" r="1.05" fill="#B3A2DA"/><circle cx="681.7" cy="310.1" r="0.65" fill="#D5CCE8"/><circle cx="690.1" cy="310.1" r="0.65" fill="#D5CCE8"/><circle cx="698.6" cy="310.1" r="0.65" fill="#D5CCE8"/><circle cx="707.0" cy="310.1" r="0.65" fill="#D5CCE8"/><circle cx="715.5" cy="310.1" r="0.65" fill="#D5CCE8"/><circle cx="724.0" cy="310.1" r="0.65" fill="#D5CCE8"/><circle cx="732.4" cy="310.1" r="0.65" fill="#D5CCE8"/><circle cx="740.9" cy="310.1" r="2.60" fill="#2536A6"/><circle cx="749.3" cy="310.1" r="1.90" fill="#2B3BA6"/><circle cx="757.8" cy="310.1" r="0.65" fill="#D5CCE8"/><circle cx="766.2" cy="310.1" r="0.65" fill="#D5CCE8"/><circle cx="774.6" cy="310.1" r="0.65" fill="#D5CCE8"/><circle cx="783.1" cy="310.1" r="1.05" fill="#B3A2DA"/><circle cx="791.5" cy="310.1" r="0.65" fill="#D5CCE8"/><circle cx="800.0" cy="310.1" r="0.65" fill="#D5CCE8"/><circle cx="808.5" cy="310.1" r="0.65" fill="#D5CCE8"/><circle cx="816.9" cy="310.1" r="0.65" fill="#D5CCE8"/><circle cx="825.4" cy="310.1" r="0.65" fill="#D5CCE8"/><circle cx="614.1" cy="326.7" r="0.65" fill="#D5CCE8"/><circle cx="622.6" cy="326.7" r="0.65" fill="#D5CCE8"/><circle cx="631.0" cy="326.7" r="0.65" fill="#D5CCE8"/><circle cx="639.5" cy="326.7" r="0.65" fill="#D5CCE8"/><circle cx="647.9" cy="326.7" r="1.05" fill="#B3A2DA"/><circle cx="656.4" cy="326.7" r="0.65" fill="#D5CCE8"/><circle cx="664.8" cy="326.7" r="0.65" fill="#D5CCE8"/><circle cx="673.2" cy="326.7" r="0.65" fill="#D5CCE8"/><circle cx="681.7" cy="326.7" r="0.65" fill="#D5CCE8"/><circle cx="690.1" cy="326.7" r="0.65" fill="#D5CCE8"/><circle cx="698.6" cy="326.7" r="1.25" fill="#4F46AE"/><circle cx="707.0" cy="326.7" r="2.60" fill="#2536A6"/><circle cx="715.5" cy="326.7" r="2.60" fill="#2536A6"/><circle cx="724.0" cy="326.7" r="2.60" fill="#2536A6"/><circle cx="732.4" cy="326.7" r="2.60" fill="#2536A6"/><circle cx="740.9" cy="326.7" r="1.05" fill="#B3A2DA"/><circle cx="749.3" cy="326.7" r="1.05" fill="#B3A2DA"/><circle cx="757.8" cy="326.7" r="0.65" fill="#D5CCE8"/><circle cx="766.2" cy="326.7" r="0.65" fill="#D5CCE8"/><circle cx="774.6" cy="326.7" r="0.65" fill="#D5CCE8"/><circle cx="783.1" cy="326.7" r="0.65" fill="#D5CCE8"/><circle cx="791.5" cy="326.7" r="0.65" fill="#D5CCE8"/><circle cx="800.0" cy="326.7" r="0.65" fill="#D5CCE8"/><circle cx="808.5" cy="326.7" r="0.65" fill="#D5CCE8"/><circle cx="816.9" cy="326.7" r="0.65" fill="#D5CCE8"/><circle cx="825.4" cy="326.7" r="0.65" fill="#D5CCE8"/><circle cx="614.1" cy="343.2" r="0.65" fill="#D5CCE8"/><circle cx="622.6" cy="343.2" r="0.65" fill="#D5CCE8"/><circle cx="631.0" cy="343.2" r="0.65" fill="#D5CCE8"/><circle cx="639.5" cy="343.2" r="0.65" fill="#D5CCE8"/><circle cx="647.9" cy="343.2" r="1.05" fill="#B3A2DA"/><circle cx="656.4" cy="343.2" r="0.65" fill="#D5CCE8"/><circle cx="664.8" cy="343.2" r="0.65" fill="#D5CCE8"/><circle cx="673.2" cy="343.2" r="0.65" fill="#D5CCE8"/><circle cx="681.7" cy="343.2" r="0.65" fill="#D5CCE8"/><circle cx="690.1" cy="343.2" r="2.60" fill="#2536A6"/><circle cx="698.6" cy="343.2" r="1.90" fill="#2B3BA6"/><circle cx="707.0" cy="343.2" r="0.65" fill="#D5CCE8"/><circle cx="715.5" cy="343.2" r="0.65" fill="#D5CCE8"/><circle cx="724.0" cy="343.2" r="0.65" fill="#D5CCE8"/><circle cx="732.4" cy="343.2" r="0.65" fill="#D5CCE8"/><circle cx="740.9" cy="343.2" r="1.05" fill="#B3A2DA"/><circle cx="749.3" cy="343.2" r="0.65" fill="#D5CCE8"/><circle cx="757.8" cy="343.2" r="0.65" fill="#D5CCE8"/><circle cx="766.2" cy="343.2" r="0.65" fill="#D5CCE8"/><circle cx="774.6" cy="343.2" r="0.65" fill="#D5CCE8"/><circle cx="783.1" cy="343.2" r="0.65" fill="#D5CCE8"/><circle cx="791.5" cy="343.2" r="0.65" fill="#D5CCE8"/><circle cx="800.0" cy="343.2" r="0.65" fill="#D5CCE8"/><circle cx="808.5" cy="343.2" r="0.65" fill="#D5CCE8"/><circle cx="816.9" cy="343.2" r="1.05" fill="#B3A2DA"/><circle cx="825.4" cy="343.2" r="0.65" fill="#D5CCE8"/><circle cx="614.1" cy="359.8" r="0.65" fill="#D5CCE8"/><circle cx="622.6" cy="359.8" r="0.65" fill="#D5CCE8"/><circle cx="631.0" cy="359.8" r="1.05" fill="#B3A2DA"/><circle cx="639.5" cy="359.8" r="0.65" fill="#D5CCE8"/><circle cx="647.9" cy="359.8" r="1.05" fill="#B3A2DA"/><circle cx="656.4" cy="359.8" r="1.90" fill="#2B3BA6"/><circle cx="664.8" cy="359.8" r="1.90" fill="#2B3BA6"/><circle cx="673.2" cy="359.8" r="2.60" fill="#2536A6"/><circle cx="681.7" cy="359.8" r="1.90" fill="#2B3BA6"/><circle cx="690.1" cy="359.8" r="0.65" fill="#D5CCE8"/><circle cx="698.6" cy="359.8" r="0.65" fill="#D5CCE8"/><circle cx="707.0" cy="359.8" r="0.65" fill="#D5CCE8"/><circle cx="715.5" cy="359.8" r="0.65" fill="#D5CCE8"/><circle cx="724.0" cy="359.8" r="0.65" fill="#D5CCE8"/><circle cx="732.4" cy="359.8" r="0.65" fill="#D5CCE8"/><circle cx="740.9" cy="359.8" r="1.05" fill="#B3A2DA"/><circle cx="749.3" cy="359.8" r="0.65" fill="#D5CCE8"/><circle cx="757.8" cy="359.8" r="0.65" fill="#D5CCE8"/><circle cx="766.2" cy="359.8" r="1.25" fill="#4F46AE"/><circle cx="774.6" cy="359.8" r="0.65" fill="#D5CCE8"/><circle cx="783.1" cy="359.8" r="1.75" fill="#8C72C8"/><circle cx="791.5" cy="359.8" r="1.05" fill="#B3A2DA"/><circle cx="800.0" cy="359.8" r="1.25" fill="#4F46AE"/><circle cx="808.5" cy="359.8" r="0.65" fill="#D5CCE8"/><circle cx="816.9" cy="359.8" r="0.65" fill="#D5CCE8"/><circle cx="825.4" cy="359.8" r="0.65" fill="#D5CCE8"/><circle cx="614.1" cy="376.3" r="0.65" fill="#D5CCE8"/><circle cx="622.6" cy="376.3" r="0.65" fill="#D5CCE8"/><circle cx="631.0" cy="376.3" r="0.65" fill="#D5CCE8"/><circle cx="639.5" cy="376.3" r="1.90" fill="#2B3BA6"/><circle cx="647.9" cy="376.3" r="2.60" fill="#2536A6"/><circle cx="656.4" cy="376.3" r="0.65" fill="#D5CCE8"/><circle cx="664.8" cy="376.3" r="0.65" fill="#D5CCE8"/><circle cx="673.2" cy="376.3" r="0.65" fill="#D5CCE8"/><circle cx="681.7" cy="376.3" r="0.65" fill="#D5CCE8"/><circle cx="690.1" cy="376.3" r="0.65" fill="#D5CCE8"/><circle cx="698.6" cy="376.3" r="0.65" fill="#D5CCE8"/><circle cx="707.0" cy="376.3" r="0.65" fill="#D5CCE8"/><circle cx="715.5" cy="376.3" r="0.65" fill="#D5CCE8"/><circle cx="724.0" cy="376.3" r="0.65" fill="#D5CCE8"/><circle cx="732.4" cy="376.3" r="0.65" fill="#D5CCE8"/><circle cx="740.9" cy="376.3" r="2.50" fill="#7A63BE"/><circle cx="749.3" cy="376.3" r="1.75" fill="#8C72C8"/><circle cx="757.8" cy="376.3" r="0.65" fill="#D5CCE8"/><circle cx="766.2" cy="376.3" r="0.65" fill="#D5CCE8"/><circle cx="774.6" cy="376.3" r="0.65" fill="#D5CCE8"/><circle cx="783.1" cy="376.3" r="1.75" fill="#8C72C8"/><circle cx="791.5" cy="376.3" r="0.65" fill="#D5CCE8"/><circle cx="800.0" cy="376.3" r="0.65" fill="#D5CCE8"/><circle cx="808.5" cy="376.3" r="1.05" fill="#B3A2DA"/><circle cx="816.9" cy="376.3" r="0.65" fill="#D5CCE8"/><circle cx="825.4" cy="376.3" r="0.65" fill="#D5CCE8"/><circle cx="614.1" cy="393.0" r="1.90" fill="#2B3BA6"/><circle cx="622.6" cy="393.0" r="1.25" fill="#4F46AE"/><circle cx="631.0" cy="393.0" r="1.90" fill="#2B3BA6"/><circle cx="639.5" cy="393.0" r="0.65" fill="#D5CCE8"/><circle cx="647.9" cy="393.0" r="1.05" fill="#B3A2DA"/><circle cx="656.4" cy="393.0" r="0.65" fill="#D5CCE8"/><circle cx="664.8" cy="393.0" r="0.65" fill="#D5CCE8"/><circle cx="673.2" cy="393.0" r="0.65" fill="#D5CCE8"/><circle cx="681.7" cy="393.0" r="0.65" fill="#D5CCE8"/><circle cx="690.1" cy="393.0" r="0.65" fill="#D5CCE8"/><circle cx="698.6" cy="393.0" r="0.65" fill="#D5CCE8"/><circle cx="707.0" cy="393.0" r="0.65" fill="#D5CCE8"/><circle cx="715.5" cy="393.0" r="0.65" fill="#D5CCE8"/><circle cx="724.0" cy="393.0" r="0.65" fill="#D5CCE8"/><circle cx="732.4" cy="393.0" r="0.65" fill="#D5CCE8"/><circle cx="740.9" cy="393.0" r="1.05" fill="#B3A2DA"/><circle cx="749.3" cy="393.0" r="0.65" fill="#D5CCE8"/><circle cx="757.8" cy="393.0" r="0.65" fill="#D5CCE8"/><circle cx="766.2" cy="393.0" r="1.05" fill="#B3A2DA"/><circle cx="774.6" cy="393.0" r="0.65" fill="#D5CCE8"/><circle cx="783.1" cy="393.0" r="1.60" fill="#B8A6DC"/><circle cx="791.5" cy="393.0" r="0.65" fill="#D5CCE8"/><circle cx="800.0" cy="393.0" r="0.65" fill="#D5CCE8"/><circle cx="808.5" cy="393.0" r="0.65" fill="#D5CCE8"/><circle cx="816.9" cy="393.0" r="0.65" fill="#D5CCE8"/><circle cx="825.4" cy="393.0" r="0.65" fill="#D5CCE8"/></g><g stroke="#222" stroke-width="1.4" fill="none"><path d="M607.0 250.0 V402.4 H830.8"/></g><g stroke="#222" stroke-width="0.8"><path d="M606.5 260.3h-2"/><path d="M606.5 276.9h-2"/><path d="M606.5 293.5h-2"/><path d="M606.5 310.1h-2"/><path d="M606.5 326.7h-2"/><path d="M606.5 343.2h-2"/><path d="M606.5 359.8h-2"/><path d="M606.5 376.3h-2"/><path d="M606.5 393.0h-2"/><path d="M611.9 402.9v2"/><path d="M620.4 402.9v2"/><path d="M628.9 402.9v2"/><path d="M637.4 402.9v2"/><path d="M645.9 402.9v2"/><path d="M654.4 402.9v2"/><path d="M663.0 402.9v2"/><path d="M671.5 402.9v2"/><path d="M680.0 402.9v2"/><path d="M688.5 402.9v2"/><path d="M697.0 402.9v2"/><path d="M705.5 402.9v2"/><path d="M714.0 402.9v2"/><path d="M722.5 402.9v2"/><path d="M731.0 402.9v2"/><path d="M739.5 402.9v2"/><path d="M748.1 402.9v2"/><path d="M756.6 402.9v2"/><path d="M765.1 402.9v2"/><path d="M773.6 402.9v2"/><path d="M782.1 402.9v2"/><path d="M790.6 402.9v2"/><path d="M799.1 402.9v2"/><path d="M807.6 402.9v2"/><path d="M816.1 402.9v2"/><path d="M824.6 402.9v2"/></g>
<g class="i" font-size="8.2" fill="#333" text-anchor="end"><text transform="translate(614.0 195.3) rotate(-85) scale(1.2 0.95)">ATP2A2</text><text transform="translate(621.9 195.3) rotate(-85) scale(1.2 0.95)">RCAN2</text><text transform="translate(629.9 195.3) rotate(-85) scale(1.2 0.95)">ATP1A2</text><text transform="translate(637.8 195.3) rotate(-85) scale(1.2 0.95)">EGFR</text><text transform="translate(645.8 195.3) rotate(-85) scale(1.2 0.95)">ZBTB16</text><text transform="translate(653.7 195.3) rotate(-85) scale(1.2 0.95)">PDZRN3</text><text transform="translate(661.6 195.3) rotate(-85) scale(1.2 0.95)">DDR2</text><text transform="translate(669.6 195.3) rotate(-85) scale(1.2 0.95)">COL6A3</text><text transform="translate(677.5 195.3) rotate(-85) scale(1.2 0.95)">LAMA2</text><text transform="translate(685.5 195.3) rotate(-85) scale(1.2 0.95)">ADGRL4</text><text transform="translate(693.4 195.3) rotate(-85) scale(1.2 0.95)">FLT1</text><text transform="translate(701.3 195.3) rotate(-85) scale(1.2 0.95)">ADGRF5</text><text transform="translate(709.3 195.3) rotate(-85) scale(1.2 0.95)">ROBO4</text><text transform="translate(717.2 195.3) rotate(-85) scale(1.2 0.95)">EMCN</text><text transform="translate(725.2 195.3) rotate(-85) scale(1.2 0.95)">F13A1</text><text transform="translate(733.1 195.3) rotate(-85) scale(1.2 0.95)">SYK</text><text transform="translate(741.0 195.3) rotate(-85) scale(1.2 0.95)">CD163</text><text transform="translate(749.0 195.3) rotate(-85) scale(1.2 0.95)">RGS1</text><text transform="translate(756.9 195.3) rotate(-85) scale(1.2 0.95)">CKM</text><text transform="translate(764.9 195.3) rotate(-85) scale(1.2 0.95)">TCAP</text><text transform="translate(772.8 195.3) rotate(-85) scale(1.2 0.95)">PYGM</text><text transform="translate(780.7 195.3) rotate(-85) scale(1.2 0.95)">PCDH7</text><text transform="translate(788.7 195.3) rotate(-85) scale(1.2 0.95)">ST8SIA1</text><text transform="translate(796.6 195.3) rotate(-85) scale(1.2 0.95)">MEGF10</text><text transform="translate(804.6 195.3) rotate(-85) scale(1.2 0.95)">MYO1B</text><text transform="translate(812.5 195.3) rotate(-85) scale(1.2 0.95)">STAC</text><text transform="translate(820.4 195.3) rotate(-85) scale(1.2 0.95)">CALD1</text><text transform="translate(828.4 195.3) rotate(-85) scale(1.2 0.95)">RBPMS</text><text transform="translate(615.7 405.4) rotate(-85) scale(1.08 0.95)">PCSK6</text><text transform="translate(624.2 405.4) rotate(-85) scale(1.08 0.95)">FBLN5</text><text transform="translate(632.7 405.4) rotate(-85) scale(1.08 0.95)">PDGFRA</text><text transform="translate(641.2 405.4) rotate(-85) scale(1.08 0.95)">POPDC2</text><text transform="translate(649.7 405.4) rotate(-85) scale(1.08 0.95)">MLIP</text><text transform="translate(658.2 405.4) rotate(-85) scale(1.08 0.95)">PTPRB</text><text transform="translate(666.8 405.4) rotate(-85) scale(1.08 0.95)">ADGRF5</text><text transform="translate(675.3 405.4) rotate(-85) scale(1.08 0.95)">ABLIM3</text><text transform="translate(683.8 405.4) rotate(-85) scale(1.08 0.95)" font-size="5.5">ERG</text><text transform="translate(692.3 405.4) rotate(-85) scale(1.08 0.95)">SKAP1</text><text transform="translate(700.8 405.4) rotate(-85) scale(1.08 0.95)">PTPRC</text><text transform="translate(709.3 405.4) rotate(-85) scale(1.08 0.95)">F13A1</text><text transform="translate(717.8 405.4) rotate(-85) scale(1.08 0.95)">CD163</text><text transform="translate(726.3 405.4) rotate(-85) scale(1.08 0.95)">MRC1</text><text transform="translate(734.8 405.4) rotate(-85) scale(1.08 0.95)">MSR1</text><text transform="translate(743.3 405.4) rotate(-85) scale(1.08 0.95)">CRYAB</text><text transform="translate(751.9 405.4) rotate(-85) scale(1.08 0.95)">COX7A1</text><text transform="translate(760.4 405.4) rotate(-85) scale(1.08 0.95)">ACTA2</text><text transform="translate(768.9 405.4) rotate(-85) scale(1.08 0.95)">MYO1B</text><text transform="translate(777.4 405.4) rotate(-85) scale(1.08 0.95)">STAC</text><text transform="translate(785.9 405.4) rotate(-85) scale(1.08 0.95)">CALD1</text><text transform="translate(794.4 405.4) rotate(-85) scale(1.08 0.95)">PIEZO2</text><text transform="translate(802.9 405.4) rotate(-85) scale(1.08 0.95)">KLHL4</text><text transform="translate(811.4 405.4) rotate(-85) scale(1.08 0.95)">CDH19</text><text transform="translate(819.9 405.4) rotate(-85) scale(1.08 0.95)">SCN7A</text><text transform="translate(828.4 405.4) rotate(-85) scale(1.08 0.95)">ERBB3</text></g>
<g class="b" font-size="9.6" fill="#111" stroke="#111" stroke-width="0.3"><circle cx="545.0" cy="25.2" r="3" fill="#DE5FB8" stroke="none"/><text x="550.0" y="25.4">Smooth</text><text x="550.0" y="33.0">muscle cells</text><circle cx="545.0" cy="47.3" r="3" fill="#A583CF" stroke="none"/><text x="550.0" y="50.6">Neurons</text><circle cx="545.0" cy="69.0" r="3" fill="#3A9DDE" stroke="none"/><text x="550.0" y="72.3">Myocytes</text><circle cx="545.0" cy="90.7" r="3" fill="#17B3BD" stroke="none"/><text x="550.0" y="94.0">Macrophages</text><circle cx="545.0" cy="112.4" r="3" fill="#22A85A" stroke="none"/><text x="550.0" y="112.6">Endothelial</text><text x="550.0" y="120.2">cells</text><circle cx="545.0" cy="133.9" r="3" fill="#74AC2A" stroke="none"/><text x="550.0" y="137.2">Fibroblasts</text><circle cx="545.0" cy="155.6" r="3" fill="#C6980F" stroke="none"/><text x="550.0" y="158.9">Myoblast</text><circle cx="545.0" cy="177.3" r="3" fill="#E9776E" stroke="none"/><text x="550.0" y="180.6">Pericytes</text></g>
<g class="b" font-size="9.6" fill="#111" stroke="#111" stroke-width="0.3"><circle cx="533.5" cy="260.3" r="3" fill="#9a9a9a" stroke="none"/><text x="539.0" y="263.6">Schwann cells</text><circle cx="533.5" cy="276.9" r="3" fill="#E07EC0" stroke="none"/><text x="539.0" y="277.1">Type II</text><text x="539.0" y="284.7">endothelial cells</text><circle cx="533.5" cy="293.5" r="3" fill="#A45A2A" stroke="none"/><text x="539.0" y="293.7">Smooth</text><text x="539.0" y="301.3">muscle cells</text><circle cx="533.5" cy="310.1" r="3" fill="#E4DF42" stroke="none"/><text x="539.0" y="310.3">Type II</text><text x="539.0" y="317.9">cardiomyocytes</text><circle cx="533.5" cy="326.7" r="3" fill="#E8801F" stroke="none"/><text x="539.0" y="330.0">Macrophages</text><circle cx="533.5" cy="343.2" r="3" fill="#8C45A0" stroke="none"/><text x="539.0" y="346.5">T cells</text><circle cx="533.5" cy="359.8" r="3" fill="#44A044" stroke="none"/><text x="539.0" y="360.0">Type I</text><text x="539.0" y="367.6">endothelial cells</text><circle cx="533.5" cy="376.3" r="3" fill="#2E7CB9" stroke="none"/><text x="539.0" y="376.5">Type I</text><text x="539.0" y="384.1">cardiomyocytes</text><circle cx="533.5" cy="393.0" r="3" fill="#D42A27" stroke="none"/><text x="539.0" y="396.3">Fibroblasts</text></g>
<defs><linearGradient id="lg" x1="0" y1="0" x2="0" y2="1"><stop offset="0" stop-color="#2E3A9E"/><stop offset="0.5" stop-color="#8A76C4"/><stop offset="1" stop-color="#E6E0F0"/></linearGradient></defs>
<g class="r" font-size="7" fill="#444"><text x="835.8" y="64.1">Average</text><text x="835.8" y="73.1">Expression</text><rect x="835.8" y="79.5" width="4.6" height="24.5" fill="url(#lg)"/><text x="842.8" y="83.0" font-size="6.5">2</text><text x="842.8" y="89.8" font-size="6.5">1</text><text x="842.8" y="97.5" font-size="6.5">0</text><text x="842.8" y="104.2" font-size="6.5">−1</text><text x="835.8" y="116.3">Percent</text><text x="835.8" y="125.1">Expressed</text><circle cx="838.1" cy="132.5" r="0.80" fill="#111"/><text x="843.0" y="134.7" font-size="6.5">25</text><circle cx="838.1" cy="138.5" r="1.40" fill="#111"/><text x="843.0" y="140.7" font-size="6.5">50</text><circle cx="838.1" cy="144.8" r="2.10" fill="#111"/><text x="843.0" y="147.0" font-size="6.5">75</text></g>
<g class="r" font-size="7" fill="#444"><text x="836.6" y="294.1">Average</text><text x="836.6" y="303.1">Expression</text><rect x="836.6" y="306.0" width="4.6" height="22.0" fill="url(#lg)"/><text x="843.6" y="311.5" font-size="6.5">2</text><text x="843.6" y="318.8" font-size="6.5">1</text><text x="843.6" y="325.8" font-size="6.5">0</text><text x="836.6" y="337.9">Percent</text><text x="836.6" y="346.7">Expressed</text><circle cx="838.9" cy="352.8" r="0.40" fill="#111"/><text x="843.8" y="355.0" font-size="6.5">0</text><circle cx="838.9" cy="358.5" r="0.90" fill="#111"/><text x="843.8" y="360.7" font-size="6.5">25</text><circle cx="838.9" cy="364.3" r="1.40" fill="#111"/><text x="843.8" y="366.5" font-size="6.5">50</text><circle cx="838.9" cy="371.3" r="2.10" fill="#111"/><text x="843.8" y="373.5" font-size="6.5">75</text></g>
</svg></body></html>
